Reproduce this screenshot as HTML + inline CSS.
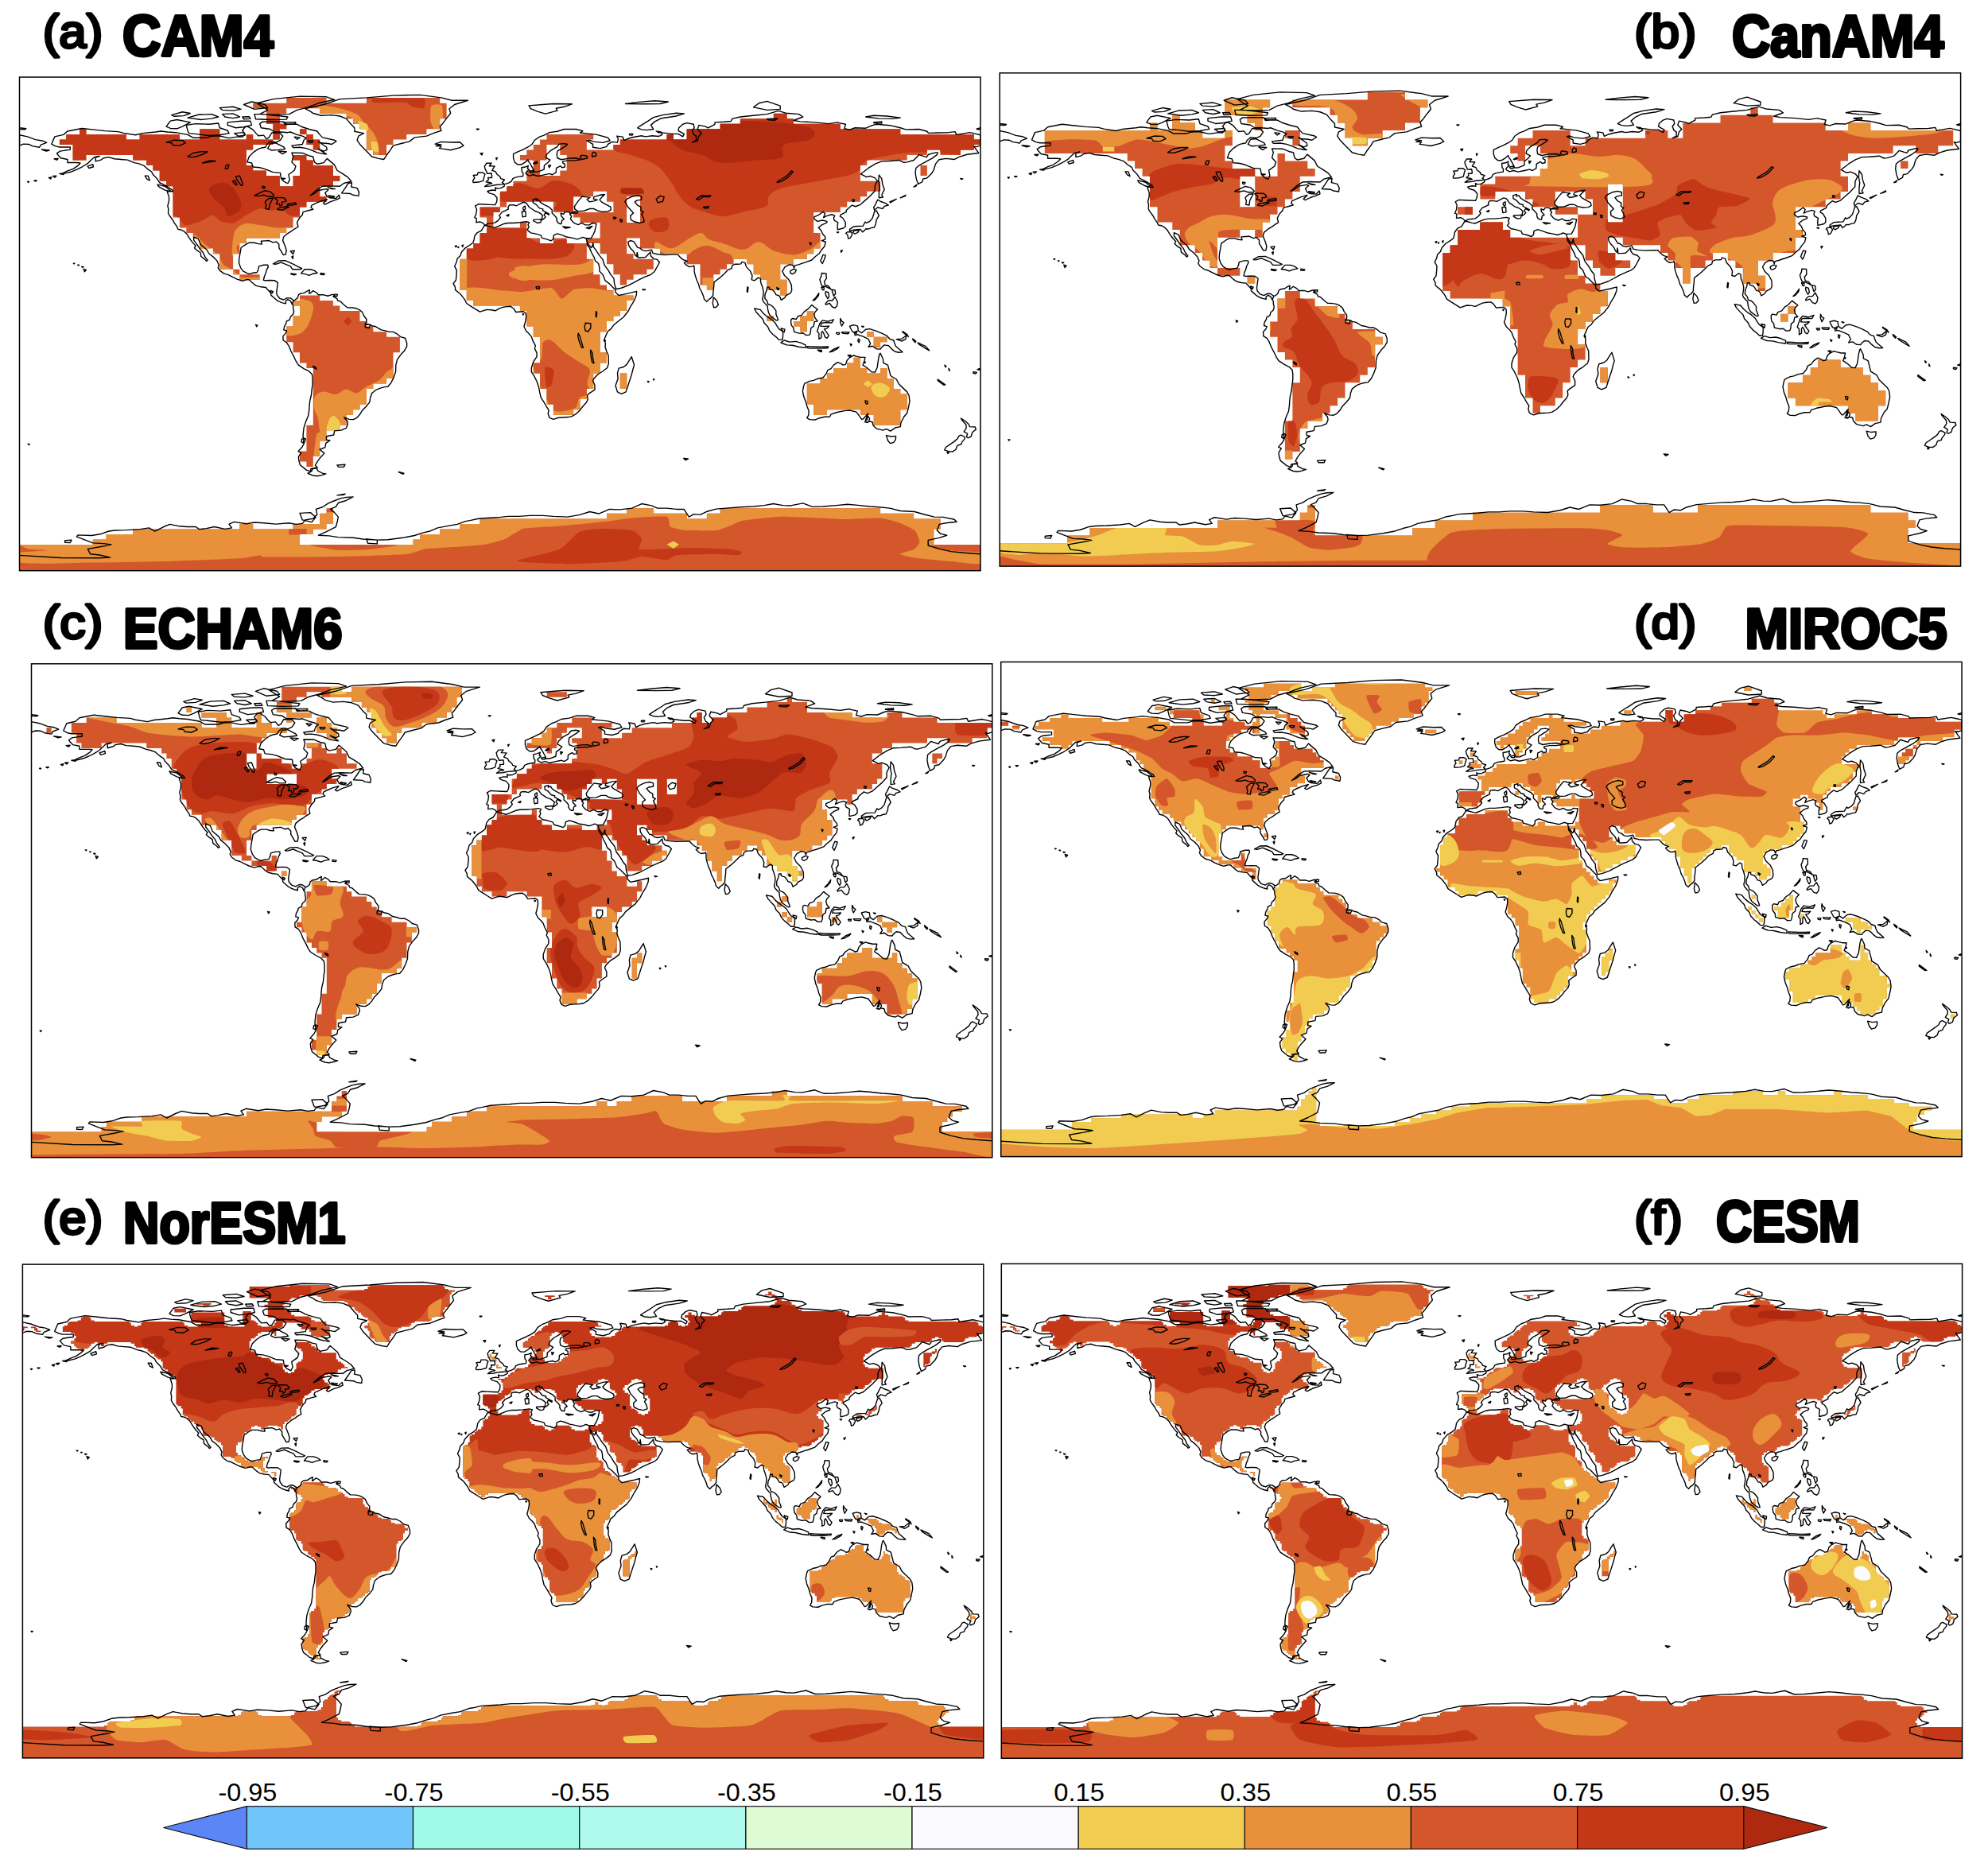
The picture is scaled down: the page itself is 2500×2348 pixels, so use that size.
<!DOCTYPE html>
<html lang="en"><head><meta charset="utf-8"><title>Model correlation maps</title>
<style>html,body{margin:0;padding:0;background:#fff}body{width:2500px;height:2348px;position:relative;overflow:hidden}</style></head>
<body>
<svg width="2500" height="2348" viewBox="0 0 2500 2348" style="position:absolute;left:0;top:0;display:block">
<defs>
<clipPath id="fa"><rect x="24.5" y="97" width="1208.5" height="620.7"/></clipPath><clipPath id="fb"><rect x="1257.2" y="91.8" width="1208.4" height="620.3"/></clipPath><clipPath id="fc"><rect x="39.5" y="834.8" width="1208.3" height="620.9"/></clipPath><clipPath id="fd"><rect x="1258.7" y="832.5" width="1208.4" height="622.1"/></clipPath><clipPath id="fe"><rect x="28.4" y="1590.1" width="1208.4" height="620.8"/></clipPath><clipPath id="ff"><rect x="1259.3" y="1589.4" width="1208.3" height="621.9"/></clipPath>
<clipPath id="ma"><path id="mpa" d="M343.4,168.9 343.4,175.4 351.8,175.4 351.8,168.9 351.8,162.3 360.2,162.3 360.2,155.8 351.8,155.8 351.8,149.3 351.8,142.7 360.2,142.7 360.2,136.2 402.2,136.2 402.2,142.7 435.7,142.7 435.7,149.3 444.1,149.3 444.1,155.8 452.5,155.8 452.5,162.3 460.9,162.3 460.9,168.9 460.9,175.4 460.9,181.9 460.9,188.5 469.3,188.5 469.3,195 486.1,195 486.1,188.5 486.1,181.9 494.5,181.9 494.5,175.4 511.3,175.4 511.3,168.9 536.4,168.9 536.4,162.3 553.2,162.3 553.2,155.8 553.2,149.3 561.6,149.3 561.6,142.7 561.6,136.2 561.6,129.7 553.2,129.7 553.2,123.1 460.9,123.1 460.9,129.7 410.5,129.7 410.5,123.1 360.2,123.1 360.2,129.7 318.2,129.7 318.2,136.2 335,136.2 335,142.7 335,149.3 335,155.8 343.4,155.8 343.4,162.3ZM74.9,181.9 91.6,181.9 91.6,188.5 91.6,195 91.6,201.5 108.4,201.5 108.4,195 167.2,195 167.2,201.5 184,201.5 184,208.1 192.3,208.1 192.3,214.6 200.7,214.6 200.7,221.1 200.7,227.7 209.1,227.7 209.1,234.2 217.5,234.2 217.5,240.8 217.5,247.3 217.5,253.8 217.5,260.4 217.5,266.9 217.5,273.4 225.9,273.4 225.9,280 225.9,286.5 234.3,286.5 234.3,293 242.7,293 242.7,299.6 251.1,299.6 251.1,306.1 251.1,312.6 267.9,312.6 267.9,319.2 276.3,319.2 276.3,325.7 276.3,332.2 276.3,338.8 293.1,338.8 293.1,332.2 293.1,325.7 293.1,319.2 301.4,319.2 301.4,312.6 301.4,306.1 309.8,306.1 309.8,299.6 351.8,299.6 351.8,293 360.2,293 360.2,286.5 368.6,286.5 368.6,280 368.6,273.4 377,273.4 377,266.9 377,260.4 385.4,260.4 385.4,253.8 410.5,253.8 410.5,247.3 402.2,247.3 402.2,240.8 402.2,234.2 418.9,234.2 418.9,227.7 427.3,227.7 427.3,221.1 418.9,221.1 418.9,214.6 418.9,208.1 393.8,208.1 393.8,201.5 385.4,201.5 385.4,195 368.6,195 368.6,201.5 377,201.5 377,208.1 377,214.6 377,221.1 368.6,221.1 368.6,227.7 368.6,234.2 351.8,234.2 351.8,227.7 351.8,221.1 335,221.1 335,214.6 318.2,214.6 318.2,208.1 309.8,208.1 309.8,201.5 309.8,195 309.8,188.5 318.2,188.5 318.2,181.9 343.4,181.9 343.4,175.4 318.2,175.4 318.2,168.9 309.8,168.9 309.8,175.4 276.3,175.4 276.3,168.9 276.3,162.3 251.1,162.3 251.1,168.9 251.1,175.4 225.9,175.4 225.9,168.9 175.6,168.9 175.6,175.4 158.8,175.4 158.8,168.9 108.4,168.9 108.4,162.3 100,162.3 100,168.9 83.2,168.9 83.2,175.4 74.9,175.4ZM293.1,345.3 301.4,345.3 301.4,338.8 293.1,338.8ZM301.4,345.3 301.4,351.8 326.6,351.8 326.6,345.3ZM133.6,672 133.6,678.5 116.8,678.5 116.8,685 24.5,685 24.5,691.6 24.5,698.1 24.5,704.6 24.5,711.2 24.5,717.7 1233,717.7 1233,711.2 1233,704.6 1233,698.1 1233,691.6 1233,685 1174.3,685 1174.3,678.5 1174.3,672 1174.3,665.4 1182.6,665.4 1182.6,658.9 1182.6,652.4 1149.1,652.4 1149.1,645.8 1107.1,645.8 1107.1,639.3 905.7,639.3 905.7,645.8 888.9,645.8 888.9,652.4 863.7,652.4 863.7,645.8 821.8,645.8 821.8,639.3 788.2,639.3 788.2,645.8 763,645.8 763,652.4 603.6,652.4 603.6,658.9 578.4,658.9 578.4,665.4 553.2,665.4 553.2,672 528,672 528,678.5 519.6,678.5 519.6,685 377,685 377,678.5 377,672 393.8,672 393.8,665.4 410.5,665.4 410.5,658.9 418.9,658.9 418.9,652.4 418.9,645.8 418.9,639.3 410.5,639.3 410.5,645.8 402.2,645.8 402.2,652.4 402.2,658.9 368.6,658.9 368.6,665.4 318.2,665.4 318.2,658.9 301.4,658.9 301.4,665.4 167.2,665.4 167.2,672ZM377,162.3 377,168.9 385.4,168.9 385.4,162.3ZM402.2,175.4 393.8,175.4 393.8,168.9 385.4,168.9 385.4,175.4 385.4,181.9 393.8,181.9 393.8,188.5 402.2,188.5 402.2,181.9ZM377,384.5 377,391 377,397.6 368.6,397.6 368.6,404.1 368.6,410.6 360.2,410.6 360.2,417.2 360.2,423.7 360.2,430.2 368.6,430.2 368.6,436.8 368.6,443.3 377,443.3 377,449.8 377,456.4 385.4,456.4 385.4,462.9 393.8,462.9 393.8,469.4 393.8,476 393.8,482.5 393.8,489 393.8,495.6 393.8,502.1 393.8,508.6 393.8,515.2 393.8,521.7 393.8,528.2 393.8,534.8 385.4,534.8 385.4,541.3 385.4,547.8 385.4,554.4 385.4,560.9 385.4,567.4 377,567.4 377,574 377,580.5 385.4,580.5 385.4,587 393.8,587 393.8,580.5 393.8,574 402.2,574 402.2,567.4 402.2,560.9 402.2,554.4 410.5,554.4 410.5,547.8 410.5,541.3 427.3,541.3 427.3,534.8 435.7,534.8 435.7,528.2 435.7,521.7 444.1,521.7 444.1,515.2 452.5,515.2 452.5,508.6 460.9,508.6 460.9,502.1 460.9,495.6 460.9,489 469.3,489 469.3,482.5 486.1,482.5 486.1,476 494.5,476 494.5,469.4 494.5,462.9 494.5,456.4 494.5,449.8 494.5,443.3 502.9,443.3 502.9,436.8 502.9,430.2 502.9,423.7 486.1,423.7 486.1,417.2 469.3,417.2 469.3,410.6 460.9,410.6 460.9,404.1 452.5,404.1 452.5,397.6 452.5,391 427.3,391 427.3,384.5 418.9,384.5 418.9,378 402.2,378 402.2,371.4 377,371.4 377,378 368.6,378 368.6,384.5ZM662.3,195 653.9,195 653.9,201.5 670.7,201.5 670.7,208.1 670.7,214.6 662.3,214.6 662.3,221.1 662.3,227.7 645.5,227.7 645.5,234.2 637.1,234.2 637.1,240.8 628.8,240.8 628.8,247.3 628.8,253.8 628.8,260.4 637.1,260.4 637.1,253.8 695.9,253.8 695.9,260.4 695.9,266.9 721.1,266.9 721.1,273.4 729.5,273.4 729.5,280 754.6,280 754.6,286.5 754.6,293 754.6,299.6 737.9,299.6 737.9,306.1 754.6,306.1 754.6,312.6 754.6,319.2 763,319.2 763,325.7 763,332.2 771.4,332.2 771.4,338.8 771.4,345.3 779.8,345.3 779.8,351.8 779.8,358.4 788.2,358.4 788.2,351.8 796.6,351.8 796.6,345.3 813.4,345.3 813.4,338.8 821.8,338.8 821.8,332.2 821.8,325.7 796.6,325.7 796.6,319.2 788.2,319.2 788.2,312.6 788.2,306.1 788.2,299.6 805,299.6 805,306.1 805,312.6 830.2,312.6 830.2,319.2 863.7,319.2 863.7,325.7 863.7,332.2 880.5,332.2 880.5,338.8 880.5,345.3 880.5,351.8 880.5,358.4 888.9,358.4 888.9,364.9 897.3,364.9 897.3,358.4 897.3,351.8 897.3,345.3 905.7,345.3 905.7,338.8 914.1,338.8 914.1,332.2 922.5,332.2 922.5,325.7 939.3,325.7 939.3,332.2 947.7,332.2 947.7,338.8 947.7,345.3 956.1,345.3 956.1,351.8 964.4,351.8 964.4,358.4 964.4,364.9 981.2,364.9 981.2,371.4 989.6,371.4 989.6,364.9 989.6,358.4 989.6,351.8 981.2,351.8 981.2,345.3 981.2,338.8 981.2,332.2 998,332.2 998,325.7 1014.8,325.7 1014.8,319.2 1023.2,319.2 1023.2,312.6 1031.6,312.6 1031.6,306.1 1031.6,299.6 1031.6,293 1023.2,293 1023.2,286.5 1023.2,280 1023.2,273.4 1023.2,266.9 1056.8,266.9 1056.8,260.4 1065.2,260.4 1065.2,253.8 1081.9,253.8 1081.9,247.3 1090.3,247.3 1090.3,240.8 1107.1,240.8 1107.1,234.2 1107.1,227.7 1081.9,227.7 1081.9,221.1 1081.9,214.6 1081.9,208.1 1090.3,208.1 1090.3,201.5 1140.7,201.5 1140.7,195 1165.9,195 1165.9,188.5 1182.6,188.5 1182.6,195 1207.8,195 1207.8,188.5 1224.6,188.5 1224.6,181.9 1233,181.9 1233,175.4 1224.6,175.4 1224.6,168.9 1132.3,168.9 1132.3,162.3 1056.8,162.3 1056.8,155.8 998,155.8 998,149.3 989.6,149.3 989.6,142.7 972.8,142.7 972.8,149.3 930.9,149.3 930.9,155.8 905.7,155.8 905.7,162.3 863.7,162.3 863.7,168.9 863.7,175.4 847,175.4 847,168.9 838.6,168.9 838.6,175.4 779.8,175.4 779.8,181.9 771.4,181.9 771.4,188.5 737.9,188.5 737.9,181.9 737.9,175.4 746.2,175.4 746.2,168.9 687.5,168.9 687.5,175.4 679.1,175.4 679.1,181.9 670.7,181.9 670.7,188.5 662.3,188.5ZM721.1,260.4 721.1,253.8 721.1,247.3 746.2,247.3 746.2,240.8 763,240.8 763,247.3 763,253.8 771.4,253.8 771.4,260.4 771.4,266.9 721.1,266.9ZM687.5,195 687.5,188.5 687.5,181.9 704.3,181.9 704.3,188.5 704.3,195 712.7,195 712.7,201.5 712.7,208.1 712.7,214.6 704.3,214.6 704.3,221.1 679.1,221.1 679.1,214.6 679.1,208.1 679.1,201.5 687.5,201.5ZM805,273.4 805,280 788.2,280 788.2,273.4 788.2,266.9 788.2,260.4 788.2,253.8 788.2,247.3 805,247.3 805,253.8 805,260.4 805,266.9ZM603.6,299.6 603.6,306.1 595.2,306.1 595.2,312.6 586.8,312.6 586.8,319.2 586.8,325.7 578.4,325.7 578.4,332.2 578.4,338.8 578.4,345.3 578.4,351.8 578.4,358.4 578.4,364.9 586.8,364.9 586.8,371.4 586.8,378 595.2,378 595.2,384.5 653.9,384.5 653.9,391 662.3,391 662.3,397.6 662.3,404.1 662.3,410.6 670.7,410.6 670.7,417.2 670.7,423.7 679.1,423.7 679.1,430.2 679.1,436.8 679.1,443.3 679.1,449.8 679.1,456.4 670.7,456.4 670.7,462.9 670.7,469.4 679.1,469.4 679.1,476 679.1,482.5 679.1,489 687.5,489 687.5,495.6 687.5,502.1 687.5,508.6 695.9,508.6 695.9,515.2 695.9,521.7 721.1,521.7 721.1,515.2 729.5,515.2 729.5,508.6 729.5,502.1 737.9,502.1 737.9,495.6 737.9,489 746.2,489 746.2,482.5 746.2,476 746.2,469.4 754.6,469.4 754.6,462.9 754.6,456.4 763,456.4 763,449.8 763,443.3 754.6,443.3 754.6,436.8 754.6,430.2 754.6,423.7 754.6,417.2 763,417.2 763,410.6 763,404.1 771.4,404.1 771.4,397.6 779.8,397.6 779.8,391 788.2,391 788.2,384.5 788.2,378 796.6,378 796.6,371.4 771.4,371.4 771.4,364.9 763,364.9 763,358.4 754.6,358.4 754.6,351.8 754.6,345.3 746.2,345.3 746.2,338.8 746.2,332.2 746.2,325.7 737.9,325.7 737.9,319.2 737.9,312.6 737.9,306.1 712.7,306.1 712.7,299.6 695.9,299.6 695.9,306.1 679.1,306.1 679.1,299.6 662.3,299.6 662.3,293 662.3,286.5 662.3,280 653.9,280 653.9,286.5 620.4,286.5 620.4,280 620.4,273.4 620.4,266.9 628.8,266.9 628.8,260.4 603.6,260.4 603.6,266.9 603.6,273.4 612,273.4 612,280 612,286.5 612,293 603.6,293ZM788.2,469.4 779.8,469.4 779.8,476 779.8,482.5 779.8,489 788.2,489 788.2,482.5 788.2,476ZM1157.5,214.6 1157.5,221.1 1165.9,221.1 1165.9,214.6 1165.9,208.1 1157.5,208.1ZM1014.8,417.2 1014.8,410.6 1014.8,404.1 1023.2,404.1 1023.2,397.6 1023.2,391 1014.8,391 1014.8,397.6 1006.4,397.6 1006.4,404.1 998,404.1 998,410.6 1006.4,410.6 1006.4,417.2ZM964.4,397.6 964.4,404.1 972.8,404.1 972.8,397.6ZM1090.3,417.2 1090.3,423.7 1098.7,423.7 1098.7,417.2ZM1115.5,423.7 1098.7,423.7 1098.7,430.2 1098.7,436.8 1107.1,436.8 1107.1,430.2 1115.5,430.2ZM1040,476 1031.6,476 1031.6,482.5 1014.8,482.5 1014.8,489 1014.8,495.6 1014.8,502.1 1014.8,508.6 1023.2,508.6 1023.2,515.2 1023.2,521.7 1040,521.7 1040,515.2 1081.9,515.2 1081.9,521.7 1098.7,521.7 1098.7,528.2 1098.7,534.8 1132.3,534.8 1132.3,528.2 1132.3,521.7 1132.3,515.2 1140.7,515.2 1140.7,508.6 1140.7,502.1 1140.7,495.6 1132.3,495.6 1132.3,489 1123.9,489 1123.9,482.5 1123.9,476 1115.5,476 1115.5,469.4 1115.5,462.9 1107.1,462.9 1107.1,469.4 1090.3,469.4 1090.3,462.9 1081.9,462.9 1081.9,456.4 1081.9,449.8 1073.5,449.8 1073.5,456.4 1065.2,456.4 1065.2,462.9 1048.4,462.9 1048.4,469.4 1040,469.4Z"/></clipPath>
<clipPath id="mb"><path id="mpb" d="M1578.2,154.5 1578.2,164.1 1587.6,164.1 1587.6,154.5 1587.6,144.8 1587.6,135.2 1597.1,135.2 1597.1,125.6 1540.4,125.6 1540.4,135.2 1540.4,144.8 1568.7,144.8 1568.7,154.5ZM1455.5,154.5 1446,154.5 1446,164.1 1313.8,164.1 1313.8,173.7 1313.8,183.3 1313.8,192.9 1417.7,192.9 1417.7,202.5 1427.1,202.5 1427.1,212.1 1436.6,212.1 1436.6,221.8 1446,221.8 1446,231.4 1446,241 1446,250.6 1446,260.2 1455.5,260.2 1455.5,269.8 1455.5,279.4 1474.3,279.4 1474.3,289.1 1483.8,289.1 1483.8,298.7 1483.8,308.3 1502.7,308.3 1502.7,317.9 1512.1,317.9 1512.1,327.5 1521.5,327.5 1521.5,337.1 1531,337.1 1531,327.5 1531,317.9 1531,308.3 1531,298.7 1559.3,298.7 1559.3,289.1 1578.2,289.1 1578.2,298.7 1587.6,298.7 1587.6,289.1 1587.6,279.4 1597.1,279.4 1597.1,269.8 1606.5,269.8 1606.5,260.2 1615.9,260.2 1615.9,250.6 1625.4,250.6 1625.4,241 1634.8,241 1634.8,231.4 1634.8,221.8 1653.7,221.8 1653.7,212.1 1644.3,212.1 1644.3,202.5 1615.9,202.5 1615.9,192.9 1606.5,192.9 1606.5,202.5 1606.5,212.1 1606.5,221.8 1578.2,221.8 1578.2,212.1 1549.9,212.1 1549.9,202.5 1540.4,202.5 1540.4,192.9 1540.4,183.3 1549.9,183.3 1549.9,173.7 1549.9,164.1 1540.4,164.1 1540.4,173.7 1512.1,173.7 1512.1,164.1 1502.7,164.1 1502.7,154.5 1483.8,154.5 1483.8,144.8 1474.3,144.8 1474.3,154.5 1474.3,164.1 1455.5,164.1ZM1578.2,231.4 1578.2,241 1578.2,250.6 1578.2,260.2 1559.3,260.2 1559.3,250.6 1559.3,241 1559.3,231.4 1559.3,221.8 1578.2,221.8ZM1559.3,337.1 1531,337.1 1531,346.7 1559.3,346.7ZM1578.2,346.7 1568.7,346.7 1568.7,356.4 1578.2,356.4ZM1653.7,654.4 1653.7,644.8 1653.7,635.2 1644.3,635.2 1644.3,644.8 1634.8,644.8 1634.8,654.4 1531,654.4 1531,664 1370.5,664 1370.5,673.6 1342.2,673.6 1342.2,683.3 1257.2,683.3 1257.2,692.9 1257.2,702.5 1257.2,712.1 2465.6,712.1 2465.6,702.5 2465.6,692.9 2465.6,683.3 2399.5,683.3 2399.5,673.6 2399.5,664 2409,664 2409,654.4 2399.5,654.4 2399.5,644.8 2352.3,644.8 2352.3,635.2 2135.2,635.2 2135.2,644.8 2078.5,644.8 2078.5,635.2 2012.4,635.2 2012.4,644.8 1852,644.8 1852,654.4 1804.8,654.4 1804.8,664 1776.4,664 1776.4,673.6 1653.7,673.6 1653.7,664ZM1682,144.8 1682,154.5 1691.5,154.5 1691.5,164.1 1691.5,173.7 1700.9,173.7 1700.9,183.3 1719.8,183.3 1719.8,173.7 1738.7,173.7 1738.7,164.1 1767,164.1 1767,154.5 1785.9,154.5 1785.9,144.8 1785.9,135.2 1795.3,135.2 1795.3,125.6 1767,125.6 1767,116 1719.8,116 1719.8,125.6 1625.4,125.6 1625.4,135.2 1672.6,135.2 1672.6,144.8ZM1615.9,173.7 1625.4,173.7 1625.4,183.3 1634.8,183.3 1634.8,173.7 1634.8,164.1 1615.9,164.1ZM1597.1,414 1597.1,423.7 1606.5,423.7 1606.5,433.3 1606.5,442.9 1615.9,442.9 1615.9,452.5 1625.4,452.5 1625.4,462.1 1634.8,462.1 1634.8,471.7 1634.8,481.3 1625.4,481.3 1625.4,491 1625.4,500.6 1625.4,510.2 1625.4,519.8 1625.4,529.4 1615.9,529.4 1615.9,539 1615.9,548.7 1615.9,558.3 1615.9,567.9 1615.9,577.5 1625.4,577.5 1625.4,567.9 1634.8,567.9 1634.8,558.3 1634.8,548.7 1634.8,539 1644.3,539 1644.3,529.4 1663.1,529.4 1663.1,519.8 1672.6,519.8 1672.6,510.2 1682,510.2 1682,500.6 1691.5,500.6 1691.5,491 1691.5,481.3 1710.3,481.3 1710.3,471.7 1719.8,471.7 1719.8,462.1 1729.2,462.1 1729.2,452.5 1729.2,442.9 1729.2,433.3 1738.7,433.3 1738.7,423.7 1729.2,423.7 1729.2,414 1700.9,414 1700.9,404.4 1691.5,404.4 1691.5,394.8 1682,394.8 1682,385.2 1653.7,385.2 1653.7,375.6 1634.8,375.6 1634.8,366 1615.9,366 1615.9,375.6 1606.5,375.6 1606.5,385.2 1606.5,394.8 1606.5,404.4 1597.1,404.4ZM1908.6,192.9 1908.6,202.5 1918,202.5 1918,192.9 1918,183.3 1936.9,183.3 1936.9,192.9 1946.4,192.9 1946.4,202.5 1946.4,212.1 1936.9,212.1 1936.9,221.8 1880.3,221.8 1880.3,231.4 1861.4,231.4 1861.4,241 1861.4,250.6 1880.3,250.6 1880.3,241 1918,241 1918,250.6 1927.5,250.6 1927.5,260.2 1955.8,260.2 1955.8,250.6 1955.8,241 1993.6,241 1993.6,250.6 2003,250.6 2003,260.2 2003,269.8 1984.1,269.8 1984.1,279.4 1984.1,289.1 1984.1,298.7 1899.2,298.7 1899.2,289.1 1889.7,289.1 1889.7,279.4 1861.4,279.4 1861.4,289.1 1833.1,289.1 1833.1,298.7 1833.1,308.3 1823.6,308.3 1823.6,317.9 1814.2,317.9 1814.2,327.5 1814.2,337.1 1814.2,346.7 1814.2,356.4 1814.2,366 1823.6,366 1823.6,375.6 1889.7,375.6 1889.7,385.2 1899.2,385.2 1899.2,394.8 1899.2,404.4 1899.2,414 1908.6,414 1908.6,423.7 1908.6,433.3 1908.6,442.9 1908.6,452.5 1908.6,462.1 1908.6,471.7 1918,471.7 1918,481.3 1918,491 1918,500.6 1927.5,500.6 1927.5,510.2 1927.5,519.8 1936.9,519.8 1936.9,510.2 1955.8,510.2 1955.8,500.6 1965.2,500.6 1965.2,491 1965.2,481.3 1974.7,481.3 1974.7,471.7 1974.7,462.1 1984.1,462.1 1984.1,452.5 1993.6,452.5 1993.6,442.9 1993.6,433.3 1984.1,433.3 1984.1,423.7 1984.1,414 1993.6,414 1993.6,404.4 2003,404.4 2003,394.8 2012.4,394.8 2012.4,385.2 2021.9,385.2 2021.9,375.6 2021.9,366 2012.4,366 2012.4,356.4 1993.6,356.4 1993.6,346.7 1984.1,346.7 1984.1,337.1 1984.1,327.5 1974.7,327.5 1974.7,317.9 1974.7,308.3 1993.6,308.3 1993.6,317.9 1993.6,327.5 2003,327.5 2003,337.1 2012.4,337.1 2012.4,346.7 2031.3,346.7 2031.3,337.1 2050.2,337.1 2050.2,327.5 2031.3,327.5 2031.3,317.9 2021.9,317.9 2021.9,308.3 2021.9,298.7 2040.8,298.7 2040.8,308.3 2088,308.3 2088,317.9 2097.4,317.9 2097.4,327.5 2106.9,327.5 2106.9,337.1 2116.3,337.1 2116.3,346.7 2116.3,356.4 2125.7,356.4 2125.7,346.7 2125.7,337.1 2144.6,337.1 2144.6,327.5 2154.1,327.5 2154.1,317.9 2172.9,317.9 2172.9,327.5 2182.4,327.5 2182.4,337.1 2191.8,337.1 2191.8,346.7 2191.8,356.4 2210.7,356.4 2210.7,366 2220.1,366 2220.1,356.4 2220.1,346.7 2210.7,346.7 2210.7,337.1 2210.7,327.5 2229.6,327.5 2229.6,317.9 2257.9,317.9 2257.9,308.3 2257.9,298.7 2267.3,298.7 2267.3,289.1 2257.9,289.1 2257.9,279.4 2257.9,269.8 2257.9,260.2 2295.7,260.2 2295.7,250.6 2314.6,250.6 2314.6,241 2324,241 2324,231.4 2324,221.8 2314.6,221.8 2314.6,212.1 2314.6,202.5 2324,202.5 2324,192.9 2380.6,192.9 2380.6,183.3 2409,183.3 2409,192.9 2437.3,192.9 2437.3,183.3 2456.2,183.3 2456.2,173.7 2456.2,164.1 2352.3,164.1 2352.3,154.5 2324,154.5 2324,164.1 2295.7,164.1 2295.7,154.5 2229.6,154.5 2229.6,144.8 2210.7,144.8 2210.7,135.2 2201.3,135.2 2201.3,144.8 2163.5,144.8 2163.5,154.5 2116.3,154.5 2116.3,164.1 2116.3,173.7 2097.4,173.7 2097.4,164.1 2069.1,164.1 2069.1,173.7 1993.6,173.7 1993.6,183.3 1974.7,183.3 1974.7,173.7 1974.7,164.1 1927.5,164.1 1927.5,173.7 1908.6,173.7 1908.6,183.3 1899.2,183.3 1899.2,192.9ZM2040.8,231.4 2040.8,241 2040.8,250.6 2040.8,260.2 2040.8,269.8 2040.8,279.4 2021.9,279.4 2021.9,269.8 2021.9,260.2 2021.9,250.6 2021.9,241 2021.9,231.4ZM1833.1,260.2 1833.1,269.8 1852,269.8 1852,260.2ZM1984.1,260.2 1955.8,260.2 1955.8,269.8 1984.1,269.8ZM2021.9,471.7 2021.9,462.1 2012.4,462.1 2012.4,471.7 2012.4,481.3 2021.9,481.3ZM2390.1,202.5 2390.1,212.1 2399.5,212.1 2399.5,202.5ZM2248.5,394.8 2257.9,394.8 2257.9,385.2 2248.5,385.2ZM2248.5,394.8 2239,394.8 2239,404.4 2248.5,404.4ZM2248.5,481.3 2248.5,491 2248.5,500.6 2257.9,500.6 2257.9,510.2 2324,510.2 2324,519.8 2333.4,519.8 2333.4,529.4 2361.8,529.4 2361.8,519.8 2361.8,510.2 2371.2,510.2 2371.2,500.6 2371.2,491 2361.8,491 2361.8,481.3 2352.3,481.3 2352.3,471.7 2342.9,471.7 2342.9,462.1 2314.6,462.1 2314.6,452.5 2286.2,452.5 2286.2,462.1 2276.8,462.1 2276.8,471.7 2267.3,471.7 2267.3,481.3Z"/></clipPath>
<clipPath id="mc"><path id="mpc" d="M385.6,876.7 385.6,870.3 404.5,870.3 404.5,876.7 442.3,876.7 442.3,883.1 454.9,883.1 454.9,889.6 461.1,889.6 461.1,896 467.4,896 467.4,902.4 467.4,908.9 467.4,915.3 473.7,915.3 473.7,921.7 480,921.7 480,928.2 486.3,928.2 486.3,934.6 498.9,934.6 498.9,928.2 498.9,921.7 505.2,921.7 505.2,915.3 530.4,915.3 530.4,908.9 549.3,908.9 549.3,902.4 561.8,902.4 561.8,896 568.1,896 568.1,889.6 574.4,889.6 574.4,883.1 574.4,876.7 580.7,876.7 580.7,870.3 580.7,863.8 442.3,863.8 442.3,870.3 429.7,870.3 429.7,863.8 354.2,863.8 354.2,870.3 354.2,876.7 354.2,883.1 347.9,883.1 347.9,889.6 347.9,896 360.5,896 360.5,902.4 360.5,908.9 366.7,908.9 366.7,902.4 391.9,902.4 391.9,896 366.7,896 366.7,889.6 366.7,883.1 373,883.1 373,876.7ZM234.6,889.6 234.6,896 240.9,896 240.9,889.6ZM291.2,908.9 291.2,902.4 284.9,902.4 284.9,896 253.5,896 253.5,902.4 272.3,902.4 272.3,908.9 272.3,915.3 253.5,915.3 253.5,908.9 146.5,908.9 146.5,902.4 108.7,902.4 108.7,908.9 89.8,908.9 89.8,915.3 89.8,921.7 96.1,921.7 96.1,928.2 96.1,934.6 102.4,934.6 102.4,941 127.6,941 127.6,934.6 184.2,934.6 184.2,941 203.1,941 203.1,947.5 209.4,947.5 209.4,953.9 215.7,953.9 215.7,960.3 215.7,966.8 222,966.8 222,973.2 228.3,973.2 228.3,979.6 228.3,986.1 228.3,992.5 228.3,998.9 228.3,1005.4 234.6,1005.4 234.6,1011.8 234.6,1018.2 240.9,1018.2 240.9,1024.7 253.5,1024.7 253.5,1031.1 253.5,1037.5 272.3,1037.5 272.3,1044 278.6,1044 278.6,1050.4 278.6,1056.8 291.2,1056.8 291.2,1063.3 291.2,1069.7 291.2,1076.1 303.8,1076.1 303.8,1082.6 316.4,1082.6 316.4,1076.1 310.1,1076.1 310.1,1069.7 310.1,1063.3 310.1,1056.8 316.4,1056.8 316.4,1050.4 316.4,1044 322.7,1044 322.7,1037.5 366.7,1037.5 366.7,1031.1 373,1031.1 373,1024.7 385.6,1024.7 385.6,1018.2 385.6,1011.8 391.9,1011.8 391.9,1005.4 391.9,998.9 404.5,998.9 404.5,992.5 410.8,992.5 410.8,986.1 423.4,986.1 423.4,979.6 417.1,979.6 417.1,973.2 417.1,966.8 448.6,966.8 448.6,960.3 436,960.3 436,953.9 436,947.5 429.7,947.5 429.7,941 423.4,941 423.4,947.5 410.8,947.5 410.8,941 404.5,941 404.5,934.6 385.6,934.6 385.6,941 391.9,941 391.9,947.5 391.9,953.9 385.6,953.9 385.6,960.3 379.3,960.3 379.3,966.8 366.7,966.8 366.7,960.3 354.2,960.3 354.2,953.9 329,953.9 329,947.5 322.7,947.5 322.7,941 322.7,934.6 329,934.6 329,928.2 335.3,928.2 335.3,921.7 360.5,921.7 360.5,915.3 341.6,915.3 341.6,908.9 329,908.9 329,902.4 329,896 322.7,896 322.7,902.4 322.7,908.9 322.7,915.3 291.2,915.3ZM322.7,953.9 322.7,960.3 322.7,966.8 310.1,966.8 310.1,960.3 310.1,953.9 310.1,947.5 322.7,947.5ZM373,973.2 373,979.6 373,986.1 335.3,986.1 335.3,979.6 335.3,973.2ZM58.4,915.3 58.4,921.7 64.7,921.7 64.7,915.3ZM347.9,1089 347.9,1082.6 347.9,1076.1 341.6,1076.1 341.6,1082.6 316.4,1082.6 316.4,1089 335.3,1089 335.3,1095.4 347.9,1095.4ZM354.2,1095.4 354.2,1101.9 360.5,1101.9 360.5,1095.4ZM404.5,1410.7 404.5,1404.2 429.7,1404.2 429.7,1397.8 436,1397.8 436,1391.4 436,1384.9 436,1378.5 436,1372.1 429.7,1372.1 429.7,1378.5 423.4,1378.5 423.4,1384.9 417.1,1384.9 417.1,1391.4 417.1,1397.8 310.1,1397.8 310.1,1404.2 178,1404.2 178,1410.7 133.9,1410.7 133.9,1417.1 127.6,1417.1 127.6,1423.5 39.5,1423.5 39.5,1430 39.5,1436.4 39.5,1442.8 39.5,1449.3 39.5,1455.7 1247.8,1455.7 1247.8,1449.3 1247.8,1442.8 1247.8,1436.4 1247.8,1430 1247.8,1423.5 1184.9,1423.5 1184.9,1417.1 1184.9,1410.7 1191.2,1410.7 1191.2,1404.2 1197.5,1404.2 1197.5,1397.8 1210,1397.8 1210,1391.4 1172.3,1391.4 1172.3,1384.9 1134.5,1384.9 1134.5,1378.5 989.8,1378.5 989.8,1372.1 970.9,1372.1 970.9,1378.5 914.3,1378.5 914.3,1384.9 857.6,1384.9 857.6,1378.5 794.7,1378.5 794.7,1384.9 775.8,1384.9 775.8,1391.4 763.2,1391.4 763.2,1384.9 750.6,1384.9 750.6,1391.4 612.2,1391.4 612.2,1397.8 587,1397.8 587,1404.2 568.1,1404.2 568.1,1410.7 543,1410.7 543,1417.1 536.7,1417.1 536.7,1423.5 398.2,1423.5 398.2,1417.1 398.2,1410.7ZM423.4,921.7 423.4,915.3 417.1,915.3 417.1,908.9 410.8,908.9 410.8,902.4 398.2,902.4 398.2,908.9 398.2,915.3 398.2,921.7 410.8,921.7 410.8,928.2 423.4,928.2ZM379.3,1146.9 379.3,1153.3 379.3,1159.8 373,1159.8 373,1166.2 379.3,1166.2 379.3,1172.6 385.6,1172.6 385.6,1179.1 385.6,1185.5 391.9,1185.5 391.9,1191.9 398.2,1191.9 398.2,1198.4 404.5,1198.4 404.5,1204.8 410.8,1204.8 410.8,1211.2 410.8,1217.7 410.8,1224.1 410.8,1230.5 410.8,1237 410.8,1243.4 410.8,1249.8 404.5,1249.8 404.5,1256.3 404.5,1262.7 404.5,1269.1 404.5,1275.6 398.2,1275.6 398.2,1282 398.2,1288.4 398.2,1294.9 398.2,1301.3 398.2,1307.7 391.9,1307.7 391.9,1314.2 391.9,1320.6 398.2,1320.6 398.2,1327 410.8,1327 410.8,1320.6 410.8,1314.2 417.1,1314.2 417.1,1307.7 417.1,1301.3 417.1,1294.9 423.4,1294.9 423.4,1288.4 423.4,1282 429.7,1282 429.7,1275.6 448.6,1275.6 448.6,1269.1 448.6,1262.7 461.1,1262.7 461.1,1256.3 467.4,1256.3 467.4,1249.8 473.7,1249.8 473.7,1243.4 473.7,1237 480,1237 480,1230.5 480,1224.1 498.9,1224.1 498.9,1217.7 505.2,1217.7 505.2,1211.2 505.2,1204.8 511.5,1204.8 511.5,1198.4 511.5,1191.9 511.5,1185.5 517.8,1185.5 517.8,1179.1 517.8,1172.6 524.1,1172.6 524.1,1166.2 511.5,1166.2 511.5,1159.8 492.6,1159.8 492.6,1153.3 480,1153.3 480,1146.9 473.7,1146.9 473.7,1140.5 467.4,1140.5 467.4,1134 461.1,1134 461.1,1127.6 442.3,1127.6 442.3,1121.2 436,1121.2 436,1114.7 410.8,1114.7 410.8,1108.3 391.9,1108.3 391.9,1114.7 391.9,1121.2 385.6,1121.2 385.6,1127.6 385.6,1134 385.6,1140.5 379.3,1140.5ZM681.4,928.2 668.8,928.2 668.8,934.6 662.5,934.6 662.5,941 687.7,941 687.7,947.5 694,947.5 694,941 700.3,941 700.3,934.6 700.3,928.2 706.6,928.2 706.6,921.7 712.9,921.7 712.9,915.3 731.8,915.3 731.8,921.7 731.8,928.2 719.2,928.2 719.2,934.6 725.5,934.6 725.5,941 725.5,947.5 725.5,953.9 719.2,953.9 719.2,960.3 668.8,960.3 668.8,966.8 662.5,966.8 662.5,973.2 649.9,973.2 649.9,979.6 643.6,979.6 643.6,986.1 643.6,992.5 643.6,998.9 618.5,998.9 618.5,1005.4 618.5,1011.8 624.8,1011.8 624.8,1018.2 624.8,1024.7 624.8,1031.1 618.5,1031.1 618.5,1037.5 612.2,1037.5 612.2,1044 612.2,1050.4 605.9,1050.4 605.9,1056.8 599.6,1056.8 599.6,1063.3 593.3,1063.3 593.3,1069.7 593.3,1076.1 593.3,1082.6 593.3,1089 593.3,1095.4 593.3,1101.9 599.6,1101.9 599.6,1108.3 599.6,1114.7 605.9,1114.7 605.9,1121.2 618.5,1121.2 618.5,1127.6 637.4,1127.6 637.4,1121.2 662.5,1121.2 662.5,1127.6 681.4,1127.6 681.4,1134 681.4,1140.5 681.4,1146.9 681.4,1153.3 687.7,1153.3 687.7,1159.8 687.7,1166.2 687.7,1172.6 694,1172.6 694,1179.1 694,1185.5 694,1191.9 687.7,1191.9 687.7,1198.4 687.7,1204.8 687.7,1211.2 694,1211.2 694,1217.7 694,1224.1 694,1230.5 700.3,1230.5 700.3,1237 700.3,1243.4 706.6,1243.4 706.6,1249.8 706.6,1256.3 706.6,1262.7 725.5,1262.7 725.5,1256.3 738,1256.3 738,1249.8 744.3,1249.8 744.3,1243.4 750.6,1243.4 750.6,1237 750.6,1230.5 756.9,1230.5 756.9,1224.1 756.9,1217.7 756.9,1211.2 763.2,1211.2 763.2,1204.8 769.5,1204.8 769.5,1198.4 775.8,1198.4 775.8,1191.9 775.8,1185.5 775.8,1179.1 775.8,1172.6 769.5,1172.6 769.5,1166.2 769.5,1159.8 775.8,1159.8 775.8,1153.3 775.8,1146.9 782.1,1146.9 782.1,1140.5 794.7,1140.5 794.7,1134 801,1134 801,1127.6 801,1121.2 807.3,1121.2 807.3,1114.7 807.3,1108.3 801,1108.3 801,1114.7 788.4,1114.7 788.4,1108.3 788.4,1101.9 775.8,1101.9 775.8,1095.4 769.5,1095.4 769.5,1089 769.5,1082.6 763.2,1082.6 763.2,1076.1 763.2,1069.7 756.9,1069.7 756.9,1063.3 756.9,1056.8 756.9,1050.4 769.5,1050.4 769.5,1056.8 775.8,1056.8 775.8,1063.3 775.8,1069.7 782.1,1069.7 782.1,1076.1 788.4,1076.1 788.4,1082.6 788.4,1089 788.4,1095.4 807.3,1095.4 807.3,1089 819.9,1089 819.9,1082.6 832.4,1082.6 832.4,1076.1 838.7,1076.1 838.7,1069.7 832.4,1069.7 832.4,1063.3 813.6,1063.3 813.6,1056.8 807.3,1056.8 807.3,1050.4 801,1050.4 801,1044 801,1037.5 813.6,1037.5 813.6,1044 819.9,1044 819.9,1050.4 838.7,1050.4 838.7,1056.8 876.5,1056.8 876.5,1063.3 882.8,1063.3 882.8,1069.7 889.1,1069.7 889.1,1076.1 889.1,1082.6 895.4,1082.6 895.4,1089 895.4,1095.4 901.7,1095.4 901.7,1101.9 901.7,1108.3 908,1108.3 908,1101.9 908,1095.4 908,1089 914.3,1089 914.3,1082.6 920.6,1082.6 920.6,1076.1 933.1,1076.1 933.1,1069.7 939.4,1069.7 939.4,1063.3 952,1063.3 952,1069.7 958.3,1069.7 958.3,1076.1 964.6,1076.1 964.6,1082.6 964.6,1089 977.2,1089 977.2,1095.4 989.8,1095.4 989.8,1101.9 996.1,1101.9 996.1,1108.3 1002.4,1108.3 1002.4,1101.9 1008.7,1101.9 1008.7,1095.4 1002.4,1095.4 1002.4,1089 996.1,1089 996.1,1082.6 996.1,1076.1 996.1,1069.7 1021.2,1069.7 1021.2,1063.3 1033.8,1063.3 1033.8,1056.8 1040.1,1056.8 1040.1,1050.4 1046.4,1050.4 1046.4,1044 1046.4,1037.5 1046.4,1031.1 1040.1,1031.1 1040.1,1024.7 1040.1,1018.2 1033.8,1018.2 1033.8,1011.8 1033.8,1005.4 1065.3,1005.4 1065.3,1011.8 1071.6,1011.8 1071.6,1005.4 1071.6,998.9 1077.9,998.9 1077.9,992.5 1096.8,992.5 1096.8,986.1 1103.1,986.1 1103.1,979.6 1109.3,979.6 1109.3,973.2 1109.3,966.8 1109.3,960.3 1096.8,960.3 1096.8,953.9 1096.8,947.5 1109.3,947.5 1109.3,941 1121.9,941 1121.9,934.6 1166,934.6 1166,928.2 1191.2,928.2 1191.2,934.6 1222.6,934.6 1222.6,928.2 1241.5,928.2 1241.5,921.7 1241.5,915.3 1247.8,915.3 1247.8,908.9 1178.6,908.9 1178.6,902.4 1134.5,902.4 1134.5,896 1115.6,896 1115.6,902.4 1071.6,902.4 1071.6,896 1015,896 1015,889.6 1015,883.1 996.1,883.1 996.1,876.7 989.8,876.7 989.8,883.1 964.6,883.1 964.6,889.6 939.4,889.6 939.4,896 914.3,896 914.3,902.4 895.4,902.4 895.4,908.9 882.8,908.9 882.8,902.4 882.8,896 876.5,896 876.5,902.4 870.2,902.4 870.2,908.9 845,908.9 845,915.3 794.7,915.3 794.7,921.7 782.1,921.7 782.1,928.2 756.9,928.2 756.9,921.7 756.9,915.3 769.5,915.3 769.5,908.9 744.3,908.9 744.3,902.4 719.2,902.4 719.2,908.9 700.3,908.9 700.3,915.3 687.7,915.3 687.7,921.7 681.4,921.7ZM649.9,998.9 649.9,992.5 681.4,992.5 681.4,986.1 700.3,986.1 700.3,992.5 706.6,992.5 706.6,998.9 712.9,998.9 712.9,1005.4 731.8,1005.4 731.8,998.9 731.8,992.5 738,992.5 738,986.1 744.3,986.1 744.3,979.6 756.9,979.6 756.9,986.1 763.2,986.1 763.2,979.6 775.8,979.6 775.8,986.1 775.8,992.5 782.1,992.5 782.1,998.9 782.1,1005.4 738,1005.4 738,1011.8 738,1018.2 769.5,1018.2 769.5,1024.7 769.5,1031.1 763.2,1031.1 763.2,1037.5 750.6,1037.5 750.6,1044 731.8,1044 731.8,1037.5 712.9,1037.5 712.9,1044 694,1044 694,1037.5 681.4,1037.5 681.4,1031.1 675.1,1031.1 675.1,1024.7 675.1,1018.2 668.8,1018.2 668.8,1024.7 631.1,1024.7 631.1,1018.2 631.1,1011.8 637.4,1011.8 637.4,1005.4 643.6,1005.4 643.6,998.9ZM838.7,998.9 838.7,992.5 838.7,986.1 838.7,979.6 851.3,979.6 851.3,986.1 851.3,992.5 851.3,998.9ZM801,986.1 801,979.6 826.2,979.6 826.2,986.1 826.2,992.5 826.2,998.9 826.2,1005.4 826.2,1011.8 801,1011.8 801,1005.4 801,998.9 801,992.5ZM744.3,1140.5 763.2,1140.5 763.2,1146.9 763.2,1153.3 744.3,1153.3 744.3,1146.9ZM687.7,870.3 687.7,876.7 712.9,876.7 712.9,870.3ZM807.3,1204.8 807.3,1198.4 801,1198.4 801,1204.8 794.7,1204.8 794.7,1211.2 794.7,1217.7 794.7,1224.1 794.7,1230.5 801,1230.5 801,1224.1 801,1217.7 801,1211.2 807.3,1211.2ZM1172.3,947.5 1172.3,953.9 1172.3,960.3 1178.6,960.3 1178.6,953.9 1184.9,953.9 1184.9,947.5ZM983.5,1134 989.8,1134 989.8,1127.6 983.5,1127.6ZM977.2,1134 977.2,1140.5 983.5,1140.5 983.5,1134ZM1033.8,1134 1027.5,1134 1027.5,1140.5 1015,1140.5 1015,1146.9 1015,1153.3 1033.8,1153.3 1033.8,1146.9 1033.8,1140.5ZM983.5,1146.9 983.5,1153.3 989.8,1153.3 989.8,1146.9ZM1046.4,1153.3 1046.4,1159.8 1052.7,1159.8 1052.7,1153.3ZM989.8,1153.3 989.8,1159.8 996.1,1159.8 996.1,1153.3ZM1103.1,1153.3 1103.1,1159.8 1109.3,1159.8 1109.3,1153.3ZM1128.2,1166.2 1128.2,1159.8 1109.3,1159.8 1109.3,1166.2 1115.6,1166.2 1115.6,1172.6 1121.9,1172.6 1121.9,1166.2ZM1033.8,1217.7 1033.8,1224.1 1027.5,1224.1 1027.5,1230.5 1027.5,1237 1033.8,1237 1033.8,1243.4 1033.8,1249.8 1033.8,1256.3 1033.8,1262.7 1046.4,1262.7 1046.4,1256.3 1065.3,1256.3 1065.3,1249.8 1096.8,1249.8 1096.8,1256.3 1096.8,1262.7 1115.6,1262.7 1115.6,1269.1 1115.6,1275.6 1140.8,1275.6 1140.8,1269.1 1147.1,1269.1 1147.1,1262.7 1147.1,1256.3 1153.4,1256.3 1153.4,1249.8 1153.4,1243.4 1153.4,1237 1153.4,1230.5 1147.1,1230.5 1147.1,1224.1 1140.8,1224.1 1140.8,1217.7 1134.5,1217.7 1134.5,1211.2 1128.2,1211.2 1128.2,1204.8 1128.2,1198.4 1121.9,1198.4 1121.9,1204.8 1096.8,1204.8 1096.8,1198.4 1096.8,1191.9 1084.2,1191.9 1084.2,1198.4 1065.3,1198.4 1065.3,1204.8 1059,1204.8 1059,1211.2 1052.7,1211.2 1052.7,1217.7Z"/></clipPath>
<clipPath id="md"><path id="mpd" d="M1523,878.8 1523,883.7 1527.8,883.7 1527.8,878.8ZM1513.6,907.8 1513.6,903 1513.6,898.2 1508.9,898.2 1508.9,893.3 1471.1,893.3 1471.1,898.2 1475.8,898.2 1475.8,903 1499.4,903 1499.4,907.8 1499.4,912.7 1471.1,912.7 1471.1,907.8 1457,907.8 1457,903 1419.2,903 1419.2,907.8 1386.1,907.8 1386.1,903 1343.7,903 1343.7,898.2 1334.2,898.2 1334.2,903 1320.1,903 1320.1,907.8 1305.9,907.8 1305.9,912.7 1301.2,912.7 1301.2,917.5 1324.8,917.5 1324.8,922.4 1324.8,927.2 1310.6,927.2 1310.6,932 1320.1,932 1320.1,936.9 1334.2,936.9 1334.2,941.7 1343.7,941.7 1343.7,936.9 1348.4,936.9 1348.4,932 1395.6,932 1395.6,936.9 1409.8,936.9 1409.8,941.7 1419.2,941.7 1419.2,946.6 1428.6,946.6 1428.6,951.4 1428.6,956.2 1433.4,956.2 1433.4,961.1 1438.1,961.1 1438.1,965.9 1438.1,970.7 1447.5,970.7 1447.5,975.6 1447.5,980.4 1447.5,985.3 1447.5,990.1 1447.5,994.9 1447.5,999.8 1447.5,1004.6 1452.2,1004.6 1452.2,1009.5 1452.2,1014.3 1457,1014.3 1457,1019.1 1461.7,1019.1 1461.7,1024 1471.1,1024 1471.1,1028.8 1475.8,1028.8 1475.8,1033.6 1485.3,1033.6 1485.3,1038.5 1490,1038.5 1490,1043.3 1494.7,1043.3 1494.7,1048.2 1499.4,1048.2 1499.4,1053 1504.2,1053 1504.2,1057.8 1508.9,1057.8 1508.9,1062.7 1508.9,1067.5 1513.6,1067.5 1513.6,1072.4 1513.6,1077.2 1523,1077.2 1523,1082 1532.5,1082 1532.5,1086.9 1551.4,1086.9 1551.4,1091.7 1560.8,1091.7 1560.8,1096.5 1575,1096.5 1575,1101.4 1575,1106.2 1579.7,1106.2 1579.7,1101.4 1579.7,1096.5 1579.7,1091.7 1565.5,1091.7 1565.5,1086.9 1565.5,1082 1565.5,1077.2 1565.5,1072.4 1560.8,1072.4 1560.8,1077.2 1560.8,1082 1537.2,1082 1537.2,1077.2 1532.5,1077.2 1532.5,1072.4 1532.5,1067.5 1532.5,1062.7 1532.5,1057.8 1532.5,1053 1532.5,1048.2 1537.2,1048.2 1537.2,1043.3 1541.9,1043.3 1541.9,1038.5 1584.4,1038.5 1584.4,1043.3 1589.1,1043.3 1589.1,1038.5 1589.1,1033.6 1589.1,1028.8 1593.8,1028.8 1593.8,1024 1603.3,1024 1603.3,1019.1 1608,1019.1 1608,1014.3 1608,1009.5 1608,1004.6 1612.7,1004.6 1612.7,999.8 1622.2,999.8 1622.2,994.9 1622.2,990.1 1631.6,990.1 1631.6,985.3 1641,985.3 1641,980.4 1641,975.6 1636.3,975.6 1636.3,970.7 1636.3,965.9 1664.6,965.9 1664.6,961.1 1664.6,956.2 1659.9,956.2 1659.9,951.4 1655.2,951.4 1655.2,946.6 1650.5,946.6 1650.5,941.7 1626.9,941.7 1626.9,936.9 1622.2,936.9 1622.2,932 1603.3,932 1603.3,936.9 1603.3,941.7 1608,941.7 1608,946.6 1608,951.4 1603.3,951.4 1603.3,956.2 1598.6,956.2 1598.6,961.1 1598.6,965.9 1584.4,965.9 1584.4,961.1 1584.4,956.2 1575,956.2 1575,951.4 1556.1,951.4 1556.1,946.6 1546.6,946.6 1546.6,941.7 1541.9,941.7 1541.9,936.9 1541.9,932 1546.6,932 1546.6,927.2 1551.4,927.2 1551.4,922.4 1560.8,922.4 1560.8,917.5 1575,917.5 1575,922.4 1584.4,922.4 1584.4,917.5 1584.4,912.7 1584.4,907.8 1584.4,903 1584.4,898.2 1603.3,898.2 1603.3,903 1617.4,903 1617.4,907.8 1617.4,912.7 1617.4,917.5 1622.2,917.5 1622.2,922.4 1636.3,922.4 1636.3,927.2 1641,927.2 1641,922.4 1641,917.5 1641,912.7 1636.3,912.7 1636.3,907.8 1631.6,907.8 1631.6,903 1622.2,903 1622.2,898.2 1608,898.2 1608,893.3 1589.1,893.3 1589.1,888.5 1589.1,883.7 1593.8,883.7 1593.8,878.8 1598.6,878.8 1598.6,874 1608,874 1608,869.1 1622.2,869.1 1622.2,874 1631.6,874 1631.6,878.8 1669.4,878.8 1669.4,883.7 1674.1,883.7 1674.1,888.5 1678.8,888.5 1678.8,893.3 1683.5,893.3 1683.5,898.2 1688.2,898.2 1688.2,903 1688.2,907.8 1688.2,912.7 1688.2,917.5 1693,917.5 1693,922.4 1697.7,922.4 1697.7,927.2 1702.4,927.2 1702.4,932 1716.6,932 1716.6,927.2 1721.3,927.2 1721.3,922.4 1726,922.4 1726,917.5 1730.7,917.5 1730.7,912.7 1749.6,912.7 1749.6,907.8 1759.1,907.8 1759.1,903 1777.9,903 1777.9,898.2 1787.4,898.2 1787.4,893.3 1787.4,888.5 1792.1,888.5 1792.1,883.7 1796.8,883.7 1796.8,878.8 1796.8,874 1796.8,869.1 1801.5,869.1 1801.5,864.3 1792.1,864.3 1792.1,859.5 1678.8,859.5 1678.8,864.3 1650.5,864.3 1650.5,869.1 1636.3,869.1 1636.3,864.3 1636.3,859.5 1589.1,859.5 1589.1,864.3 1565.5,864.3 1565.5,869.1 1570.2,869.1 1570.2,874 1570.2,878.8 1565.5,878.8 1565.5,883.7 1570.2,883.7 1570.2,888.5 1570.2,893.3 1575,893.3 1575,898.2 1579.7,898.2 1579.7,903 1579.7,907.8 1575,907.8 1575,912.7 1565.5,912.7 1565.5,907.8 1551.4,907.8 1551.4,903 1546.6,903 1546.6,898.2 1546.6,893.3 1546.6,888.5 1532.5,888.5 1532.5,893.3 1541.9,893.3 1541.9,898.2 1541.9,903 1541.9,907.8 1537.2,907.8 1537.2,912.7 1513.6,912.7ZM1452.2,893.3 1466.4,893.3 1466.4,888.5 1452.2,888.5ZM1258.7,912.7 1268.1,912.7 1268.1,907.8 1258.7,907.8ZM1272.9,917.5 1282.3,917.5 1282.3,912.7 1272.9,912.7ZM1655.2,1411.1 1655.2,1406.2 1655.2,1401.4 1655.2,1396.5 1655.2,1391.7 1655.2,1386.9 1655.2,1382 1655.2,1377.2 1655.2,1372.3 1655.2,1367.5 1650.5,1367.5 1650.5,1372.3 1645.8,1372.3 1645.8,1377.2 1641,1377.2 1641,1382 1636.3,1382 1636.3,1386.9 1636.3,1391.7 1631.6,1391.7 1631.6,1396.5 1527.8,1396.5 1527.8,1401.4 1513.6,1401.4 1513.6,1406.2 1499.4,1406.2 1499.4,1401.4 1409.8,1401.4 1409.8,1406.2 1372,1406.2 1372,1411.1 1348.4,1411.1 1348.4,1415.9 1348.4,1420.7 1258.7,1420.7 1258.7,1425.6 1258.7,1430.4 1258.7,1435.2 1258.7,1440.1 1258.7,1444.9 1258.7,1449.8 1258.7,1454.6 2467.1,1454.6 2467.1,1449.8 2467.1,1444.9 2467.1,1440.1 2467.1,1435.2 2467.1,1430.4 2467.1,1425.6 2467.1,1420.7 2405.7,1420.7 2405.7,1415.9 2405.7,1411.1 2410.5,1411.1 2410.5,1406.2 2410.5,1401.4 2419.9,1401.4 2419.9,1396.5 2429.3,1396.5 2429.3,1391.7 2401,1391.7 2401,1386.9 2382.1,1386.9 2382.1,1382 2349.1,1382 2349.1,1377.2 2316.1,1377.2 2316.1,1372.3 2306.6,1372.3 2306.6,1377.2 2245.2,1377.2 2245.2,1372.3 2235.8,1372.3 2235.8,1377.2 2216.9,1377.2 2216.9,1372.3 2179.2,1372.3 2179.2,1377.2 2136.7,1377.2 2136.7,1382 2122.5,1382 2122.5,1386.9 2098.9,1386.9 2098.9,1382 2080,1382 2080,1377.2 2013.9,1377.2 2013.9,1382 1995.1,1382 1995.1,1386.9 1848.7,1386.9 1848.7,1391.7 1825.1,1391.7 1825.1,1396.5 1806.3,1396.5 1806.3,1401.4 1787.4,1401.4 1787.4,1406.2 1773.2,1406.2 1773.2,1411.1 1754.3,1411.1 1754.3,1415.9 1659.9,1415.9 1659.9,1411.1ZM1589.1,1053 1593.8,1053 1593.8,1048.2 1589.1,1048.2ZM1603.3,1130.4 1603.3,1135.3 1603.3,1140.1 1598.6,1140.1 1598.6,1144.9 1593.8,1144.9 1593.8,1149.8 1593.8,1154.6 1593.8,1159.4 1593.8,1164.3 1598.6,1164.3 1598.6,1169.1 1598.6,1174 1603.3,1174 1603.3,1178.8 1603.3,1183.6 1608,1183.6 1608,1188.5 1608,1193.3 1617.4,1193.3 1617.4,1198.2 1622.2,1198.2 1622.2,1203 1626.9,1203 1626.9,1207.8 1631.6,1207.8 1631.6,1212.7 1631.6,1217.5 1631.6,1222.3 1626.9,1222.3 1626.9,1227.2 1626.9,1232 1626.9,1236.9 1626.9,1241.7 1626.9,1246.5 1626.9,1251.4 1626.9,1256.2 1626.9,1261.1 1622.2,1261.1 1622.2,1265.9 1622.2,1270.7 1617.4,1270.7 1617.4,1275.6 1617.4,1280.4 1617.4,1285.3 1622.2,1285.3 1622.2,1290.1 1622.2,1294.9 1617.4,1294.9 1617.4,1299.8 1617.4,1304.6 1612.7,1304.6 1612.7,1309.4 1612.7,1314.3 1612.7,1319.1 1617.4,1319.1 1617.4,1324 1622.2,1324 1622.2,1328.8 1626.9,1328.8 1626.9,1333.6 1631.6,1333.6 1631.6,1328.8 1631.6,1324 1631.6,1319.1 1631.6,1314.3 1631.6,1309.4 1636.3,1309.4 1636.3,1304.6 1636.3,1299.8 1641,1299.8 1641,1294.9 1641,1290.1 1645.8,1290.1 1645.8,1285.3 1645.8,1280.4 1650.5,1280.4 1650.5,1275.6 1664.6,1275.6 1664.6,1270.7 1669.4,1270.7 1669.4,1265.9 1669.4,1261.1 1683.5,1261.1 1683.5,1256.2 1683.5,1251.4 1688.2,1251.4 1688.2,1246.5 1693,1246.5 1693,1241.7 1697.7,1241.7 1697.7,1236.9 1697.7,1232 1697.7,1227.2 1707.1,1227.2 1707.1,1222.3 1721.3,1222.3 1721.3,1217.5 1726,1217.5 1726,1212.7 1726,1207.8 1730.7,1207.8 1730.7,1203 1730.7,1198.2 1730.7,1193.3 1730.7,1188.5 1730.7,1183.6 1735.5,1183.6 1735.5,1178.8 1740.2,1178.8 1740.2,1174 1744.9,1174 1744.9,1169.1 1744.9,1164.3 1735.5,1164.3 1735.5,1159.4 1726,1159.4 1726,1154.6 1707.1,1154.6 1707.1,1149.8 1697.7,1149.8 1697.7,1144.9 1693,1144.9 1693,1140.1 1693,1135.3 1688.2,1135.3 1688.2,1130.4 1683.5,1130.4 1683.5,1125.6 1664.6,1125.6 1664.6,1120.7 1659.9,1120.7 1659.9,1115.9 1655.2,1115.9 1655.2,1111.1 1631.6,1111.1 1631.6,1106.2 1612.7,1106.2 1612.7,1111.1 1608,1111.1 1608,1115.9 1603.3,1115.9 1603.3,1120.7 1603.3,1125.6ZM1792.1,922.4 1806.3,922.4 1806.3,917.5 1792.1,917.5ZM1848.7,951.4 1853.5,951.4 1853.5,946.6 1848.7,946.6ZM1834.6,961.1 1839.3,961.1 1839.3,956.2 1834.6,956.2ZM1853.5,961.1 1848.7,961.1 1848.7,965.9 1862.9,965.9 1862.9,961.1 1858.2,961.1 1858.2,956.2 1853.5,956.2ZM1678.8,980.4 1683.5,980.4 1683.5,975.6 1678.8,975.6ZM1858.2,1009.5 1862.9,1009.5 1862.9,1004.6 1862.9,999.8 1867.6,999.8 1867.6,994.9 1872.3,994.9 1872.3,990.1 1900.7,990.1 1900.7,985.3 1914.8,985.3 1914.8,990.1 1924.3,990.1 1924.3,994.9 1929,994.9 1929,999.8 1933.7,999.8 1933.7,1004.6 1933.7,1009.5 1938.4,1009.5 1938.4,1004.6 1938.4,999.8 1952.6,999.8 1952.6,1004.6 1952.6,1009.5 1957.3,1009.5 1957.3,1014.3 1985.6,1014.3 1985.6,1019.1 1985.6,1024 1985.6,1028.8 1985.6,1033.6 1980.9,1033.6 1980.9,1038.5 1943.1,1038.5 1943.1,1033.6 1933.7,1033.6 1933.7,1038.5 1914.8,1038.5 1914.8,1033.6 1900.7,1033.6 1900.7,1028.8 1895.9,1028.8 1895.9,1024 1895.9,1019.1 1867.6,1019.1 1867.6,1024 1844,1024 1844,1028.8 1834.6,1028.8 1834.6,1033.6 1834.6,1038.5 1829.9,1038.5 1829.9,1043.3 1829.9,1048.2 1820.4,1048.2 1820.4,1053 1815.7,1053 1815.7,1057.8 1815.7,1062.7 1811,1062.7 1811,1067.5 1811,1072.4 1811,1077.2 1811,1082 1811,1086.9 1811,1091.7 1806.3,1091.7 1806.3,1096.5 1811,1096.5 1811,1101.4 1815.7,1101.4 1815.7,1106.2 1820.4,1106.2 1820.4,1111.1 1820.4,1115.9 1829.9,1115.9 1829.9,1120.7 1834.6,1120.7 1834.6,1125.6 1858.2,1125.6 1858.2,1120.7 1881.8,1120.7 1881.8,1125.6 1895.9,1125.6 1895.9,1130.4 1895.9,1135.3 1895.9,1140.1 1895.9,1144.9 1895.9,1149.8 1900.7,1149.8 1900.7,1154.6 1905.4,1154.6 1905.4,1159.4 1905.4,1164.3 1910.1,1164.3 1910.1,1169.1 1910.1,1174 1910.1,1178.8 1910.1,1183.6 1910.1,1188.5 1910.1,1193.3 1905.4,1193.3 1905.4,1198.2 1905.4,1203 1905.4,1207.8 1910.1,1207.8 1910.1,1212.7 1910.1,1217.5 1914.8,1217.5 1914.8,1222.3 1914.8,1227.2 1914.8,1232 1914.8,1236.9 1919.5,1236.9 1919.5,1241.7 1924.3,1241.7 1924.3,1246.5 1924.3,1251.4 1924.3,1256.2 1929,1256.2 1929,1261.1 1947.9,1261.1 1947.9,1256.2 1957.3,1256.2 1957.3,1251.4 1962,1251.4 1962,1246.5 1966.7,1246.5 1966.7,1241.7 1971.5,1241.7 1971.5,1236.9 1971.5,1232 1971.5,1227.2 1980.9,1227.2 1980.9,1222.3 1976.2,1222.3 1976.2,1217.5 1976.2,1212.7 1980.9,1212.7 1980.9,1207.8 1985.6,1207.8 1985.6,1203 1990.3,1203 1990.3,1198.2 1995.1,1198.2 1995.1,1193.3 1995.1,1188.5 1995.1,1183.6 1995.1,1178.8 1995.1,1174 1995.1,1169.1 1990.3,1169.1 1990.3,1164.3 1990.3,1159.4 1995.1,1159.4 1995.1,1154.6 1995.1,1149.8 1999.8,1149.8 1999.8,1144.9 2004.5,1144.9 2004.5,1140.1 2009.2,1140.1 2009.2,1135.3 2013.9,1135.3 2013.9,1130.4 2018.7,1130.4 2018.7,1125.6 2023.4,1125.6 2023.4,1120.7 2028.1,1120.7 2028.1,1115.9 2028.1,1111.1 2032.8,1111.1 2032.8,1106.2 2023.4,1106.2 2023.4,1111.1 2009.2,1111.1 2009.2,1106.2 2004.5,1106.2 2004.5,1101.4 1999.8,1101.4 1999.8,1096.5 1995.1,1096.5 1995.1,1091.7 1990.3,1091.7 1990.3,1086.9 1990.3,1082 1985.6,1082 1985.6,1077.2 1985.6,1072.4 1985.6,1067.5 1980.9,1067.5 1980.9,1062.7 1976.2,1062.7 1976.2,1057.8 1976.2,1053 1976.2,1048.2 1976.2,1043.3 1985.6,1043.3 1985.6,1048.2 1985.6,1053 1990.3,1053 1990.3,1057.8 1995.1,1057.8 1995.1,1062.7 1995.1,1067.5 1999.8,1067.5 1999.8,1072.4 1999.8,1077.2 2004.5,1077.2 2004.5,1082 2009.2,1082 2009.2,1086.9 2009.2,1091.7 2009.2,1096.5 2018.7,1096.5 2018.7,1091.7 2028.1,1091.7 2028.1,1086.9 2037.6,1086.9 2037.6,1082 2047,1082 2047,1077.2 2056.4,1077.2 2056.4,1072.4 2056.4,1067.5 2056.4,1062.7 2032.8,1062.7 2032.8,1057.8 2028.1,1057.8 2028.1,1053 2023.4,1053 2023.4,1048.2 2023.4,1043.3 2023.4,1038.5 2037.6,1038.5 2037.6,1043.3 2042.3,1043.3 2042.3,1048.2 2056.4,1048.2 2056.4,1053 2089.5,1053 2089.5,1057.8 2094.2,1057.8 2094.2,1062.7 2098.9,1062.7 2098.9,1067.5 2108.4,1067.5 2108.4,1072.4 2108.4,1077.2 2113.1,1077.2 2113.1,1082 2113.1,1086.9 2113.1,1091.7 2117.8,1091.7 2117.8,1096.5 2117.8,1101.4 2122.5,1101.4 2122.5,1106.2 2122.5,1111.1 2127.2,1111.1 2127.2,1106.2 2127.2,1101.4 2127.2,1096.5 2127.2,1091.7 2132,1091.7 2132,1086.9 2136.7,1086.9 2136.7,1082 2141.4,1082 2141.4,1077.2 2146.1,1077.2 2146.1,1072.4 2150.8,1072.4 2150.8,1067.5 2165,1067.5 2165,1062.7 2174.4,1062.7 2174.4,1067.5 2174.4,1072.4 2179.2,1072.4 2179.2,1077.2 2183.9,1077.2 2183.9,1082 2193.3,1082 2193.3,1086.9 2193.3,1091.7 2193.3,1096.5 2207.5,1096.5 2207.5,1101.4 2212.2,1101.4 2212.2,1106.2 2221.6,1106.2 2221.6,1101.4 2226.4,1101.4 2226.4,1096.5 2226.4,1091.7 2221.6,1091.7 2221.6,1086.9 2216.9,1086.9 2216.9,1082 2216.9,1077.2 2216.9,1072.4 2221.6,1072.4 2221.6,1067.5 2240.5,1067.5 2240.5,1062.7 2254.7,1062.7 2254.7,1057.8 2259.4,1057.8 2259.4,1053 2264.1,1053 2264.1,1048.2 2268.8,1048.2 2268.8,1043.3 2268.8,1038.5 2268.8,1033.6 2264.1,1033.6 2264.1,1028.8 2264.1,1024 2264.1,1019.1 2264.1,1014.3 2254.7,1014.3 2254.7,1009.5 2254.7,1004.6 2264.1,1004.6 2264.1,999.8 2273.6,999.8 2273.6,1004.6 2283,1004.6 2283,1009.5 2287.7,1009.5 2287.7,1014.3 2287.7,1019.1 2292.4,1019.1 2292.4,1014.3 2292.4,1009.5 2292.4,1004.6 2292.4,999.8 2297.2,999.8 2297.2,994.9 2301.9,994.9 2301.9,990.1 2316.1,990.1 2316.1,985.3 2325.5,985.3 2325.5,980.4 2330.2,980.4 2330.2,975.6 2330.2,970.7 2334.9,970.7 2334.9,965.9 2339.7,965.9 2339.7,961.1 2316.1,961.1 2316.1,956.2 2316.1,951.4 2320.8,951.4 2320.8,946.6 2325.5,946.6 2325.5,941.7 2334.9,941.7 2334.9,936.9 2382.1,936.9 2382.1,932 2386.9,932 2386.9,927.2 2410.5,927.2 2410.5,932 2410.5,936.9 2415.2,936.9 2415.2,932 2443.5,932 2443.5,927.2 2457.7,927.2 2457.7,922.4 2457.7,917.5 2467.1,917.5 2467.1,912.7 2467.1,907.8 2434.1,907.8 2434.1,903 2386.9,903 2386.9,898.2 2353.8,898.2 2353.8,893.3 2334.9,893.3 2334.9,898.2 2306.6,898.2 2306.6,903 2297.2,903 2297.2,898.2 2292.4,898.2 2292.4,893.3 2235.8,893.3 2235.8,888.5 2235.8,883.7 2231.1,883.7 2231.1,878.8 2202.8,878.8 2202.8,883.7 2165,883.7 2165,888.5 2150.8,888.5 2150.8,893.3 2132,893.3 2132,898.2 2117.8,898.2 2117.8,903 2117.8,907.8 2103.6,907.8 2103.6,903 2103.6,898.2 2103.6,893.3 2094.2,893.3 2094.2,898.2 2094.2,903 2094.2,907.8 2037.6,907.8 2037.6,912.7 2013.9,912.7 2013.9,917.5 1999.8,917.5 1999.8,922.4 1976.2,922.4 1976.2,917.5 1976.2,912.7 1995.1,912.7 1995.1,907.8 1966.7,907.8 1966.7,903 1952.6,903 1952.6,898.2 1947.9,898.2 1947.9,903 1924.3,903 1924.3,907.8 1914.8,907.8 1914.8,912.7 1910.1,912.7 1910.1,917.5 1905.4,917.5 1905.4,922.4 1895.9,922.4 1895.9,927.2 1886.5,927.2 1886.5,932 1881.8,932 1881.8,936.9 1886.5,936.9 1886.5,941.7 1891.2,941.7 1891.2,936.9 1905.4,936.9 1905.4,941.7 1905.4,946.6 1905.4,951.4 1910.1,951.4 1910.1,946.6 1914.8,946.6 1914.8,941.7 1919.5,941.7 1919.5,936.9 1919.5,932 1919.5,927.2 1924.3,927.2 1924.3,922.4 1929,922.4 1929,917.5 1933.7,917.5 1933.7,912.7 1947.9,912.7 1947.9,917.5 1947.9,922.4 1943.1,922.4 1943.1,927.2 1938.4,927.2 1938.4,932 1962,932 1962,936.9 1962,941.7 1947.9,941.7 1947.9,946.6 1938.4,946.6 1938.4,951.4 1933.7,951.4 1933.7,956.2 1919.5,956.2 1919.5,961.1 1881.8,961.1 1881.8,965.9 1877.1,965.9 1877.1,970.7 1867.6,970.7 1867.6,975.6 1858.2,975.6 1858.2,980.4 1862.9,980.4 1862.9,985.3 1862.9,990.1 1862.9,994.9 1834.6,994.9 1834.6,999.8 1834.6,1004.6 1834.6,1009.5 1834.6,1014.3 1858.2,1014.3ZM1957.3,990.1 1957.3,985.3 1962,985.3 1962,980.4 1976.2,980.4 1976.2,985.3 1980.9,985.3 1980.9,980.4 1990.3,980.4 1990.3,985.3 1995.1,985.3 1995.1,990.1 1999.8,990.1 1999.8,994.9 2004.5,994.9 2004.5,999.8 2004.5,1004.6 1980.9,1004.6 1980.9,999.8 1976.2,999.8 1976.2,1004.6 1957.3,1004.6 1957.3,999.8 1957.3,994.9ZM1905.4,869.1 1905.4,874 1933.7,874 1933.7,869.1ZM1905.4,999.8 1910.1,999.8 1910.1,994.9 1905.4,994.9ZM2042.3,898.2 2051.7,898.2 2051.7,893.3 2042.3,893.3ZM2013.9,1212.7 2013.9,1217.5 2013.9,1222.3 2013.9,1227.2 2018.7,1227.2 2018.7,1222.3 2023.4,1222.3 2023.4,1217.5 2023.4,1212.7 2023.4,1207.8 2028.1,1207.8 2028.1,1203 2028.1,1198.2 2028.1,1193.3 2023.4,1193.3 2023.4,1198.2 2018.7,1198.2 2018.7,1203 2013.9,1203 2013.9,1207.8ZM2193.3,864.3 2193.3,869.1 2202.8,869.1 2202.8,864.3ZM2202.8,1125.6 2202.8,1130.4 2207.5,1130.4 2207.5,1125.6ZM2198,1140.1 2198,1144.9 2202.8,1144.9 2202.8,1140.1ZM2207.5,1149.8 2207.5,1144.9 2202.8,1144.9 2202.8,1149.8ZM2212.2,1149.8 2207.5,1149.8 2207.5,1154.6 2212.2,1154.6ZM2254.7,1144.9 2254.7,1140.1 2254.7,1135.3 2254.7,1130.4 2254.7,1125.6 2250,1125.6 2250,1130.4 2245.2,1130.4 2245.2,1135.3 2240.5,1135.3 2240.5,1140.1 2231.1,1140.1 2231.1,1144.9 2235.8,1144.9 2235.8,1149.8 2235.8,1154.6 2250,1154.6 2250,1149.8 2250,1144.9ZM2212.2,1159.4 2216.9,1159.4 2216.9,1154.6 2212.2,1154.6ZM2410.5,936.9 2405.7,936.9 2405.7,941.7 2410.5,941.7ZM2386.9,956.2 2386.9,961.1 2396.3,961.1 2396.3,956.2 2401,956.2 2401,951.4 2405.7,951.4 2405.7,946.6 2405.7,941.7 2396.3,941.7 2396.3,946.6 2391.6,946.6 2391.6,951.4 2386.9,951.4ZM2330.2,1019.1 2334.9,1019.1 2334.9,1014.3 2330.2,1014.3ZM2264.1,1154.6 2268.8,1154.6 2268.8,1149.8 2264.1,1149.8ZM2353.8,1169.1 2353.8,1164.3 2349.1,1164.3 2349.1,1159.4 2339.7,1159.4 2339.7,1154.6 2320.8,1154.6 2320.8,1159.4 2330.2,1159.4 2330.2,1164.3 2330.2,1169.1 2334.9,1169.1 2334.9,1174 2339.7,1174 2339.7,1169.1ZM2278.3,1203 2278.3,1207.8 2273.6,1207.8 2273.6,1212.7 2264.1,1212.7 2264.1,1217.5 2250,1217.5 2250,1222.3 2245.2,1222.3 2245.2,1227.2 2245.2,1232 2250,1232 2250,1236.9 2250,1241.7 2250,1246.5 2254.7,1246.5 2254.7,1251.4 2254.7,1256.2 2254.7,1261.1 2273.6,1261.1 2273.6,1256.2 2283,1256.2 2283,1251.4 2316.1,1251.4 2316.1,1256.2 2316.1,1261.1 2330.2,1261.1 2330.2,1265.9 2334.9,1265.9 2334.9,1270.7 2339.7,1270.7 2339.7,1275.6 2358.5,1275.6 2358.5,1270.7 2363.3,1270.7 2363.3,1265.9 2368,1265.9 2368,1261.1 2368,1256.2 2372.7,1256.2 2372.7,1251.4 2372.7,1246.5 2372.7,1241.7 2377.4,1241.7 2377.4,1236.9 2372.7,1236.9 2372.7,1232 2372.7,1227.2 2363.3,1227.2 2363.3,1222.3 2363.3,1217.5 2358.5,1217.5 2358.5,1212.7 2353.8,1212.7 2353.8,1207.8 2349.1,1207.8 2349.1,1203 2349.1,1198.2 2344.4,1198.2 2344.4,1193.3 2344.4,1188.5 2339.7,1188.5 2339.7,1193.3 2339.7,1198.2 2339.7,1203 2339.7,1207.8 2325.5,1207.8 2325.5,1203 2320.8,1203 2320.8,1198.2 2316.1,1198.2 2316.1,1193.3 2316.1,1188.5 2301.9,1188.5 2301.9,1193.3 2301.9,1198.2 2283,1198.2 2283,1203ZM2452.9,1280.4 2457.7,1280.4 2457.7,1275.6 2452.9,1275.6Z"/></clipPath>
<clipPath id="me"><path id="mpe" d="M246.6,1639.1 246.6,1640.8 255,1640.8 255,1642.4 263.4,1642.4 263.4,1640.8 265.5,1640.8 265.5,1639.1ZM219.3,1647.3 219.3,1648.9 219.3,1650.6 234,1650.6 234,1648.9 234,1647.3 234,1645.7 219.3,1645.7ZM252.9,1665.3 252.9,1666.9 248.7,1666.9 248.7,1668.5 236.1,1668.5 236.1,1666.9 231.9,1666.9 231.9,1665.3 231.9,1663.6 229.8,1663.6 229.8,1662 179.4,1662 179.4,1663.6 177.4,1663.6 177.4,1665.3 177.4,1666.9 173.2,1666.9 173.2,1668.5 169,1668.5 169,1666.9 164.8,1666.9 164.8,1665.3 164.8,1663.6 162.7,1663.6 162.7,1662 118.6,1662 118.6,1660.4 114.4,1660.4 114.4,1658.7 114.4,1657.1 112.3,1657.1 112.3,1655.5 103.9,1655.5 103.9,1657.1 101.8,1657.1 101.8,1658.7 101.8,1660.4 97.6,1660.4 97.6,1662 87.1,1662 87.1,1663.6 85,1663.6 85,1665.3 85,1666.9 80.8,1666.9 80.8,1668.5 78.8,1668.5 78.8,1670.2 78.8,1671.8 78.8,1673.4 78.8,1675.1 89.2,1675.1 89.2,1676.7 93.4,1676.7 93.4,1678.3 93.4,1680 95.5,1680 95.5,1681.6 95.5,1683.2 93.4,1683.2 93.4,1684.9 93.4,1686.5 89.2,1686.5 89.2,1688.1 89.2,1689.8 93.4,1689.8 93.4,1691.4 93.4,1693 95.5,1693 95.5,1694.7 97.6,1694.7 97.6,1696.3 101.8,1696.3 101.8,1697.9 101.8,1699.6 106,1699.6 106,1697.9 106,1696.3 110.2,1696.3 110.2,1694.7 112.3,1694.7 112.3,1693 114.4,1693 114.4,1691.4 114.4,1689.8 118.6,1689.8 118.6,1688.1 122.8,1688.1 122.8,1689.8 127,1689.8 127,1691.4 127,1693 131.2,1693 131.2,1691.4 131.2,1689.8 135.4,1689.8 135.4,1688.1 164.8,1688.1 164.8,1689.8 169,1689.8 169,1691.4 169,1693 171.1,1693 171.1,1694.7 181.5,1694.7 181.5,1696.3 185.7,1696.3 185.7,1697.9 185.7,1699.6 187.8,1699.6 187.8,1701.2 189.9,1701.2 189.9,1702.8 194.1,1702.8 194.1,1704.5 194.1,1706.1 196.2,1706.1 196.2,1707.7 198.3,1707.7 198.3,1709.4 202.5,1709.4 202.5,1711 202.5,1712.6 204.6,1712.6 204.6,1714.3 204.6,1715.9 204.6,1717.5 204.6,1719.2 204.6,1720.8 206.7,1720.8 206.7,1722.4 210.9,1722.4 210.9,1724.1 210.9,1725.7 213,1725.7 213,1727.3 215.1,1727.3 215.1,1729 219.3,1729 219.3,1730.6 219.3,1732.2 221.4,1732.2 221.4,1733.9 221.4,1735.5 221.4,1737.1 221.4,1738.8 221.4,1740.4 221.4,1742 221.4,1743.7 221.4,1745.3 221.4,1746.9 221.4,1748.6 221.4,1750.2 221.4,1751.8 221.4,1753.5 221.4,1755.1 221.4,1756.7 221.4,1758.4 221.4,1760 221.4,1761.6 221.4,1763.3 221.4,1764.9 221.4,1766.5 223.5,1766.5 223.5,1768.2 227.7,1768.2 227.7,1769.8 227.7,1771.4 229.8,1771.4 229.8,1773.1 229.8,1774.7 229.8,1776.3 229.8,1778 229.8,1779.6 231.9,1779.6 231.9,1781.2 236.1,1781.2 236.1,1782.9 236.1,1784.5 238.2,1784.5 238.2,1786.2 240.3,1786.2 240.3,1787.8 244.5,1787.8 244.5,1789.4 244.5,1791.1 246.6,1791.1 246.6,1792.7 248.7,1792.7 248.7,1794.3 252.9,1794.3 252.9,1796 252.9,1797.6 255,1797.6 255,1799.2 255,1800.9 255,1802.5 255,1804.1 255,1805.8 265.5,1805.8 265.5,1807.4 269.7,1807.4 269.7,1809 269.7,1810.7 271.8,1810.7 271.8,1812.3 273.9,1812.3 273.9,1813.9 278.1,1813.9 278.1,1815.6 278.1,1817.2 280.1,1817.2 280.1,1818.8 280.1,1820.5 280.1,1822.1 280.1,1823.7 280.1,1825.4 280.1,1827 280.1,1828.6 280.1,1830.3 280.1,1831.9 290.6,1831.9 290.6,1833.5 294.8,1833.5 294.8,1835.2 294.8,1836.8 296.9,1836.8 296.9,1838.4 299,1838.4 299,1840.1 303.2,1840.1 303.2,1841.7 303.2,1843.3 305.3,1843.3 305.3,1845 324.2,1845 324.2,1846.6 328.4,1846.6 328.4,1848.2 328.4,1849.9 330.5,1849.9 330.5,1851.5 336.8,1851.5 336.8,1849.9 332.6,1849.9 332.6,1848.2 332.6,1846.6 330.5,1846.6 330.5,1845 330.5,1843.3 330.5,1841.7 330.5,1840.1 330.5,1838.4 330.5,1836.8 332.6,1836.8 332.6,1835.2 332.6,1833.5 336.8,1833.5 336.8,1831.9 330.5,1831.9 330.5,1833.5 328.4,1833.5 328.4,1835.2 328.4,1836.8 324.2,1836.8 324.2,1838.4 311.6,1838.4 311.6,1836.8 307.4,1836.8 307.4,1835.2 307.4,1833.5 305.3,1833.5 305.3,1831.9 303.2,1831.9 303.2,1830.3 299,1830.3 299,1828.6 299,1827 296.9,1827 296.9,1825.4 296.9,1823.7 296.9,1822.1 296.9,1820.5 296.9,1818.8 296.9,1817.2 299,1817.2 299,1815.6 299,1813.9 303.2,1813.9 303.2,1812.3 305.3,1812.3 305.3,1810.7 305.3,1809 305.3,1807.4 305.3,1805.8 305.3,1804.1 307.4,1804.1 307.4,1802.5 307.4,1800.9 311.6,1800.9 311.6,1799.2 313.7,1799.2 313.7,1797.6 315.8,1797.6 315.8,1796 315.8,1794.3 320,1794.3 320,1792.7 324.2,1792.7 324.2,1794.3 328.4,1794.3 328.4,1796 328.4,1797.6 332.6,1797.6 332.6,1796 332.6,1794.3 336.8,1794.3 336.8,1792.7 349.4,1792.7 349.4,1794.3 353.6,1794.3 353.6,1796 353.6,1797.6 355.7,1797.6 355.7,1796 355.7,1794.3 355.7,1792.7 355.7,1791.1 357.8,1791.1 357.8,1789.4 357.8,1787.8 362,1787.8 362,1786.2 364.1,1786.2 364.1,1784.5 366.2,1784.5 366.2,1782.9 366.2,1781.2 370.4,1781.2 370.4,1779.6 372.5,1779.6 372.5,1778 372.5,1776.3 372.5,1774.7 372.5,1773.1 372.5,1771.4 374.6,1771.4 374.6,1769.8 374.6,1768.2 378.8,1768.2 378.8,1766.5 380.8,1766.5 380.8,1764.9 380.8,1763.3 380.8,1761.6 380.8,1760 380.8,1758.4 382.9,1758.4 382.9,1756.7 382.9,1755.1 387.1,1755.1 387.1,1753.5 389.2,1753.5 389.2,1751.8 391.3,1751.8 391.3,1750.2 391.3,1748.6 395.5,1748.6 395.5,1746.9 414.4,1746.9 414.4,1745.3 414.4,1743.7 414.4,1742 414.4,1740.4 412.3,1740.4 412.3,1738.8 408.1,1738.8 408.1,1737.1 408.1,1735.5 406,1735.5 406,1733.9 406,1732.2 408.1,1732.2 408.1,1730.6 408.1,1729 412.3,1729 412.3,1727.3 422.8,1727.3 422.8,1725.7 424.9,1725.7 424.9,1724.1 424.9,1722.4 429.1,1722.4 429.1,1720.8 437.5,1720.8 437.5,1719.2 433.3,1719.2 433.3,1717.5 433.3,1715.9 431.2,1715.9 431.2,1714.3 429.1,1714.3 429.1,1712.6 424.9,1712.6 424.9,1711 424.9,1709.4 422.8,1709.4 422.8,1707.7 422.8,1706.1 422.8,1704.5 422.8,1702.8 422.8,1701.2 403.9,1701.2 403.9,1699.6 399.7,1699.6 399.7,1697.9 399.7,1696.3 397.6,1696.3 397.6,1694.7 395.5,1694.7 395.5,1693 391.3,1693 391.3,1691.4 391.3,1689.8 389.2,1689.8 389.2,1688.1 372.5,1688.1 372.5,1689.8 372.5,1691.4 372.5,1693 372.5,1694.7 374.6,1694.7 374.6,1696.3 378.8,1696.3 378.8,1697.9 378.8,1699.6 380.8,1699.6 380.8,1701.2 380.8,1702.8 380.8,1704.5 380.8,1706.1 380.8,1707.7 380.8,1709.4 378.8,1709.4 378.8,1711 378.8,1712.6 374.6,1712.6 374.6,1714.3 372.5,1714.3 372.5,1715.9 372.5,1717.5 372.5,1719.2 372.5,1720.8 372.5,1722.4 370.4,1722.4 370.4,1724.1 370.4,1725.7 366.2,1725.7 366.2,1727.3 362,1727.3 362,1725.7 357.8,1725.7 357.8,1724.1 357.8,1722.4 355.7,1722.4 355.7,1720.8 355.7,1719.2 355.7,1717.5 355.7,1715.9 355.7,1714.3 345.2,1714.3 345.2,1712.6 341,1712.6 341,1711 341,1709.4 338.9,1709.4 338.9,1707.7 328.4,1707.7 328.4,1706.1 324.2,1706.1 324.2,1704.5 324.2,1702.8 322.1,1702.8 322.1,1701.2 320,1701.2 320,1699.6 315.8,1699.6 315.8,1697.9 315.8,1696.3 313.7,1696.3 313.7,1694.7 313.7,1693 313.7,1691.4 313.7,1689.8 313.7,1688.1 313.7,1686.5 315.8,1686.5 315.8,1684.9 315.8,1683.2 320,1683.2 320,1681.6 322.1,1681.6 322.1,1680 324.2,1680 324.2,1678.3 324.2,1676.7 328.4,1676.7 328.4,1675.1 341,1675.1 341,1676.7 345.2,1676.7 345.2,1678.3 345.2,1680 347.3,1680 347.3,1678.3 347.3,1676.7 347.3,1675.1 347.3,1673.4 349.4,1673.4 349.4,1671.8 349.4,1670.2 353.6,1670.2 353.6,1668.5 355.7,1668.5 355.7,1666.9 355.7,1665.3 355.7,1663.6 378.8,1663.6 378.8,1665.3 378.8,1666.9 378.8,1668.5 378.8,1670.2 378.8,1671.8 389.2,1671.8 389.2,1673.4 389.2,1675.1 391.3,1675.1 391.3,1676.7 391.3,1678.3 391.3,1680 397.6,1680 397.6,1681.6 406,1681.6 406,1680 414.4,1680 414.4,1678.3 414.4,1676.7 414.4,1675.1 414.4,1673.4 414.4,1671.8 414.4,1670.2 414.4,1668.5 410.2,1668.5 410.2,1666.9 410.2,1665.3 410.2,1663.6 410.2,1662 395.5,1662 395.5,1660.4 391.3,1660.4 391.3,1658.7 391.3,1657.1 389.2,1657.1 389.2,1655.5 370.4,1655.5 370.4,1653.8 366.2,1653.8 366.2,1652.2 366.2,1650.6 364.1,1650.6 364.1,1648.9 362,1648.9 362,1647.3 357.8,1647.3 357.8,1645.7 357.8,1644 355.7,1644 355.7,1642.4 355.7,1640.8 357.8,1640.8 357.8,1639.1 357.8,1637.5 362,1637.5 362,1635.9 364.1,1635.9 364.1,1634.2 366.2,1634.2 366.2,1632.6 376.7,1632.6 376.7,1631 376.7,1629.3 399.7,1629.3 399.7,1631 403.9,1631 403.9,1632.6 403.9,1634.2 406,1634.2 406,1635.9 433.3,1635.9 433.3,1637.5 437.5,1637.5 437.5,1639.1 437.5,1640.8 439.6,1640.8 439.6,1642.4 441.7,1642.4 441.7,1644 445.9,1644 445.9,1645.7 445.9,1647.3 448,1647.3 448,1648.9 450.1,1648.9 450.1,1650.6 454.3,1650.6 454.3,1652.2 454.3,1653.8 456.4,1653.8 456.4,1655.5 458.5,1655.5 458.5,1657.1 462.7,1657.1 462.7,1658.7 462.7,1660.4 464.8,1660.4 464.8,1662 464.8,1663.6 462.7,1663.6 462.7,1665.3 462.7,1666.9 458.5,1666.9 458.5,1668.5 458.5,1670.2 462.7,1670.2 462.7,1671.8 462.7,1673.4 464.8,1673.4 464.8,1675.1 464.8,1676.7 464.8,1678.3 464.8,1680 464.8,1681.6 466.9,1681.6 466.9,1683.2 471.1,1683.2 471.1,1684.9 471.1,1686.5 473.2,1686.5 473.2,1688.1 489.9,1688.1 489.9,1686.5 489.9,1684.9 489.9,1683.2 489.9,1681.6 489.9,1680 492,1680 492,1678.3 492,1676.7 496.2,1676.7 496.2,1675.1 498.3,1675.1 498.3,1673.4 500.4,1673.4 500.4,1671.8 500.4,1670.2 504.6,1670.2 504.6,1668.5 515.1,1668.5 515.1,1666.9 517.2,1666.9 517.2,1665.3 517.2,1663.6 521.4,1663.6 521.4,1662 540.3,1662 540.3,1660.4 542.4,1660.4 542.4,1658.7 542.4,1657.1 546.6,1657.1 546.6,1655.5 557.1,1655.5 557.1,1653.8 557.1,1652.2 557.1,1650.6 557.1,1648.9 557.1,1647.3 559.2,1647.3 559.2,1645.7 559.2,1644 563.4,1644 563.4,1642.4 565.5,1642.4 565.5,1640.8 565.5,1639.1 565.5,1637.5 565.5,1635.9 565.5,1634.2 565.5,1632.6 565.5,1631 565.5,1629.3 565.5,1627.7 567.6,1627.7 567.6,1626.1 567.6,1624.4 571.8,1624.4 571.8,1622.8 563.4,1622.8 563.4,1621.2 559.2,1621.2 559.2,1619.5 559.2,1617.9 557.1,1617.9 557.1,1616.3 464.8,1616.3 464.8,1617.9 462.7,1617.9 462.7,1619.5 462.7,1621.2 458.5,1621.2 458.5,1622.8 420.7,1622.8 420.7,1621.2 416.5,1621.2 416.5,1619.5 416.5,1617.9 414.4,1617.9 414.4,1616.3 364.1,1616.3 364.1,1617.9 313.7,1617.9 313.7,1619.5 313.7,1621.2 313.7,1622.8 313.7,1624.4 313.7,1626.1 313.7,1627.7 313.7,1629.3 313.7,1631 313.7,1632.6 336.8,1632.6 336.8,1634.2 338.9,1634.2 338.9,1635.9 338.9,1637.5 336.8,1637.5 336.8,1639.1 336.8,1640.8 332.6,1640.8 332.6,1642.4 332.6,1644 336.8,1644 336.8,1645.7 336.8,1647.3 336.8,1648.9 336.8,1650.6 336.8,1652.2 336.8,1653.8 336.8,1655.5 336.8,1657.1 347.3,1657.1 347.3,1658.7 347.3,1660.4 347.3,1662 347.3,1663.6 345.2,1663.6 345.2,1665.3 345.2,1666.9 341,1666.9 341,1668.5 328.4,1668.5 328.4,1666.9 324.2,1666.9 324.2,1665.3 324.2,1663.6 322.1,1663.6 322.1,1662 320,1662 320,1660.4 315.8,1660.4 315.8,1658.7 315.8,1657.1 315.8,1655.5 315.8,1653.8 315.8,1652.2 315.8,1650.6 315.8,1648.9 305.3,1648.9 305.3,1650.6 305.3,1652.2 305.3,1653.8 305.3,1655.5 305.3,1657.1 305.3,1658.7 305.3,1660.4 305.3,1662 305.3,1663.6 305.3,1665.3 307.4,1665.3 307.4,1666.9 307.4,1668.5 286.4,1668.5 286.4,1666.9 282.2,1666.9 282.2,1665.3 282.2,1663.6 282.2,1662 282.2,1660.4 282.2,1658.7 282.2,1657.1 282.2,1655.5 282.2,1653.8 282.2,1652.2 282.2,1650.6 240.3,1650.6 240.3,1652.2 240.3,1653.8 240.3,1655.5 240.3,1657.1 240.3,1658.7 240.3,1660.4 240.3,1662 240.3,1663.6 252.9,1663.6ZM28.4,1670.2 28.4,1671.8 28.4,1673.4 30.5,1673.4 30.5,1671.8 30.5,1670.2 34.7,1670.2 34.7,1668.5 28.4,1668.5ZM47.3,1671.8 47.3,1670.2 45.2,1670.2 45.2,1668.5 38.9,1668.5 38.9,1670.2 43.1,1670.2 43.1,1671.8 43.1,1673.4 45.2,1673.4 45.2,1675.1 51.5,1675.1 51.5,1673.4 47.3,1673.4ZM441.7,2168.4 441.7,2166.8 439.6,2166.8 439.6,2165.2 429.1,2165.2 429.1,2163.5 424.9,2163.5 424.9,2161.9 424.9,2160.3 422.8,2160.3 422.8,2158.6 422.8,2157 422.8,2155.4 422.8,2153.7 422.8,2152.1 422.8,2150.5 422.8,2148.8 422.8,2147.2 422.8,2145.6 422.8,2143.9 422.8,2142.3 422.8,2140.7 422.8,2139 422.8,2137.4 422.8,2135.8 422.8,2134.1 422.8,2132.5 422.8,2130.9 424.9,2130.9 424.9,2129.2 424.9,2127.6 429.1,2127.6 429.1,2126 422.8,2126 422.8,2127.6 420.7,2127.6 420.7,2129.2 420.7,2130.9 416.5,2130.9 416.5,2132.5 414.4,2132.5 414.4,2134.1 412.3,2134.1 412.3,2135.8 412.3,2137.4 408.1,2137.4 408.1,2139 406,2139 406,2140.7 406,2142.3 406,2143.9 406,2145.6 406,2147.2 403.9,2147.2 403.9,2148.8 403.9,2150.5 399.7,2150.5 399.7,2152.1 372.5,2152.1 372.5,2153.7 370.4,2153.7 370.4,2155.4 370.4,2157 366.2,2157 366.2,2158.6 328.4,2158.6 328.4,2157 324.2,2157 324.2,2155.4 324.2,2153.7 322.1,2153.7 322.1,2152.1 305.3,2152.1 305.3,2153.7 303.2,2153.7 303.2,2155.4 303.2,2157 299,2157 299,2158.6 171.1,2158.6 171.1,2160.3 169,2160.3 169,2161.9 169,2163.5 164.8,2163.5 164.8,2165.2 137.5,2165.2 137.5,2166.8 135.4,2166.8 135.4,2168.4 135.4,2170.1 131.2,2170.1 131.2,2171.7 28.4,2171.7 28.4,2173.3 28.4,2175 28.4,2176.6 28.4,2178.2 28.4,2179.9 28.4,2181.5 28.4,2183.1 28.4,2184.8 28.4,2186.4 28.4,2188 28.4,2189.7 28.4,2191.3 28.4,2192.9 28.4,2194.6 28.4,2196.2 28.4,2197.8 28.4,2199.5 28.4,2201.1 28.4,2202.7 28.4,2204.4 28.4,2206 28.4,2207.6 28.4,2209.3 28.4,2210.9 1236.8,2210.9 1236.8,2209.3 1236.8,2207.6 1236.8,2206 1236.8,2204.4 1236.8,2202.7 1236.8,2201.1 1236.8,2199.5 1236.8,2197.8 1236.8,2196.2 1236.8,2194.6 1236.8,2192.9 1236.8,2191.3 1236.8,2189.7 1236.8,2188 1236.8,2186.4 1236.8,2184.8 1236.8,2183.1 1236.8,2181.5 1236.8,2179.9 1236.8,2178.2 1236.8,2176.6 1236.8,2175 1236.8,2173.3 1236.8,2171.7 1184.4,2171.7 1184.4,2170.1 1180.2,2170.1 1180.2,2168.4 1180.2,2166.8 1178.1,2166.8 1178.1,2165.2 1178.1,2163.5 1180.2,2163.5 1180.2,2161.9 1180.2,2160.3 1184.4,2160.3 1184.4,2158.6 1186.5,2158.6 1186.5,2157 1188.5,2157 1188.5,2155.4 1188.5,2153.7 1192.7,2153.7 1192.7,2152.1 1192.7,2150.5 1188.5,2150.5 1188.5,2148.8 1188.5,2147.2 1186.5,2147.2 1186.5,2145.6 1159.2,2145.6 1159.2,2143.9 1155,2143.9 1155,2142.3 1155,2140.7 1152.9,2140.7 1152.9,2139 1117.2,2139 1117.2,2137.4 1113,2137.4 1113,2135.8 1113,2134.1 1110.9,2134.1 1110.9,2132.5 909.5,2132.5 909.5,2134.1 907.4,2134.1 907.4,2135.8 907.4,2137.4 903.2,2137.4 903.2,2139 892.7,2139 892.7,2140.7 890.6,2140.7 890.6,2142.3 890.6,2143.9 886.4,2143.9 886.4,2145.6 873.9,2145.6 873.9,2143.9 869.7,2143.9 869.7,2142.3 869.7,2140.7 867.6,2140.7 867.6,2139 831.9,2139 831.9,2137.4 827.7,2137.4 827.7,2135.8 827.7,2134.1 825.6,2134.1 825.6,2132.5 792,2132.5 792,2134.1 789.9,2134.1 789.9,2135.8 789.9,2137.4 785.7,2137.4 785.7,2139 766.9,2139 766.9,2140.7 764.8,2140.7 764.8,2142.3 764.8,2143.9 760.6,2143.9 760.6,2145.6 756.4,2145.6 756.4,2143.9 752.2,2143.9 752.2,2142.3 752.2,2140.7 748,2140.7 748,2142.3 748,2143.9 743.8,2143.9 743.8,2145.6 607.4,2145.6 607.4,2147.2 605.3,2147.2 605.3,2148.8 605.3,2150.5 601.1,2150.5 601.1,2152.1 582.2,2152.1 582.2,2153.7 580.2,2153.7 580.2,2155.4 580.2,2157 576,2157 576,2158.6 557.1,2158.6 557.1,2160.3 555,2160.3 555,2161.9 555,2163.5 550.8,2163.5 550.8,2165.2 531.9,2165.2 531.9,2166.8 529.8,2166.8 529.8,2168.4 529.8,2170.1 525.6,2170.1 525.6,2171.7 445.9,2171.7 445.9,2170.1 441.7,2170.1ZM341,1851.5 341,1853.1 345.2,1853.1 345.2,1854.8 345.2,1856.4 347.3,1856.4 347.3,1854.8 347.3,1853.1 347.3,1851.5ZM370.4,1874.4 370.4,1876 372.5,1876 372.5,1877.6 374.6,1877.6 374.6,1879.3 378.8,1879.3 378.8,1880.9 378.8,1882.5 380.8,1882.5 380.8,1884.2 380.8,1885.8 378.8,1885.8 378.8,1887.4 378.8,1889.1 374.6,1889.1 374.6,1890.7 372.5,1890.7 372.5,1892.3 372.5,1894 372.5,1895.6 372.5,1897.2 372.5,1898.9 370.4,1898.9 370.4,1900.5 370.4,1902.1 366.2,1902.1 366.2,1903.8 364.1,1903.8 364.1,1905.4 364.1,1907 364.1,1908.7 364.1,1910.3 364.1,1911.9 364.1,1913.6 364.1,1915.2 364.1,1916.8 364.1,1918.5 364.1,1920.1 364.1,1921.7 364.1,1923.4 366.2,1923.4 366.2,1925 370.4,1925 370.4,1926.6 370.4,1928.3 372.5,1928.3 372.5,1929.9 372.5,1931.5 372.5,1933.2 372.5,1934.8 372.5,1936.4 374.6,1936.4 374.6,1938.1 378.8,1938.1 378.8,1939.7 378.8,1941.3 380.8,1941.3 380.8,1943 380.8,1944.6 380.8,1946.2 380.8,1947.9 380.8,1949.5 382.9,1949.5 382.9,1951.1 387.1,1951.1 387.1,1952.8 387.1,1954.4 389.2,1954.4 389.2,1956.1 391.3,1956.1 391.3,1957.7 395.5,1957.7 395.5,1959.3 395.5,1961 397.6,1961 397.6,1962.6 397.6,1964.2 397.6,1965.9 397.6,1967.5 397.6,1969.1 397.6,1970.8 397.6,1972.4 397.6,1974 397.6,1975.7 397.6,1977.3 397.6,1978.9 397.6,1980.6 397.6,1982.2 397.6,1983.8 397.6,1985.5 397.6,1987.1 397.6,1988.7 397.6,1990.4 397.6,1992 397.6,1993.6 397.6,1995.3 397.6,1996.9 397.6,1998.5 397.6,2000.2 397.6,2001.8 397.6,2003.4 397.6,2005.1 397.6,2006.7 397.6,2008.3 397.6,2010 397.6,2011.6 397.6,2013.2 397.6,2014.9 397.6,2016.5 397.6,2018.1 397.6,2019.8 397.6,2021.4 397.6,2023 395.5,2023 395.5,2024.7 395.5,2026.3 391.3,2026.3 391.3,2027.9 389.2,2027.9 389.2,2029.6 389.2,2031.2 389.2,2032.8 389.2,2034.5 389.2,2036.1 389.2,2037.7 389.2,2039.4 389.2,2041 389.2,2042.6 389.2,2044.3 389.2,2045.9 389.2,2047.5 389.2,2049.2 389.2,2050.8 389.2,2052.4 389.2,2054.1 389.2,2055.7 387.1,2055.7 387.1,2057.3 387.1,2059 382.9,2059 382.9,2060.6 380.8,2060.6 380.8,2062.2 380.8,2063.9 380.8,2065.5 380.8,2067.1 380.8,2068.8 380.8,2070.4 380.8,2072 380.8,2073.7 382.9,2073.7 382.9,2075.3 387.1,2075.3 387.1,2076.9 387.1,2078.6 389.2,2078.6 389.2,2080.2 391.3,2080.2 391.3,2081.8 395.5,2081.8 395.5,2083.5 395.5,2085.1 397.6,2085.1 397.6,2086.7 403.9,2086.7 403.9,2085.1 399.7,2085.1 399.7,2083.5 399.7,2081.8 397.6,2081.8 397.6,2080.2 397.6,2078.6 397.6,2076.9 397.6,2075.3 397.6,2073.7 397.6,2072 399.7,2072 399.7,2070.4 399.7,2068.8 403.9,2068.8 403.9,2067.1 406,2067.1 406,2065.5 406,2063.9 406,2062.2 406,2060.6 406,2059 406,2057.3 406,2055.7 406,2054.1 406,2052.4 408.1,2052.4 408.1,2050.8 408.1,2049.2 412.3,2049.2 412.3,2047.5 414.4,2047.5 414.4,2045.9 414.4,2044.3 414.4,2042.6 414.4,2041 414.4,2039.4 416.5,2039.4 416.5,2037.7 416.5,2036.1 420.7,2036.1 420.7,2034.5 431.2,2034.5 431.2,2032.8 433.3,2032.8 433.3,2031.2 433.3,2029.6 437.5,2029.6 437.5,2027.9 439.6,2027.9 439.6,2026.3 439.6,2024.7 439.6,2023 439.6,2021.4 439.6,2019.8 441.7,2019.8 441.7,2018.1 441.7,2016.5 445.9,2016.5 445.9,2014.9 448,2014.9 448,2013.2 450.1,2013.2 450.1,2011.6 450.1,2010 454.3,2010 454.3,2008.3 456.4,2008.3 456.4,2006.7 458.5,2006.7 458.5,2005.1 458.5,2003.4 462.7,2003.4 462.7,2001.8 464.8,2001.8 464.8,2000.2 464.8,1998.5 464.8,1996.9 464.8,1995.3 464.8,1993.6 464.8,1992 464.8,1990.4 464.8,1988.7 464.8,1987.1 466.9,1987.1 466.9,1985.5 466.9,1983.8 471.1,1983.8 471.1,1982.2 473.2,1982.2 473.2,1980.6 475.3,1980.6 475.3,1978.9 475.3,1977.3 479.5,1977.3 479.5,1975.7 489.9,1975.7 489.9,1974 492,1974 492,1972.4 492,1970.8 496.2,1970.8 496.2,1969.1 498.3,1969.1 498.3,1967.5 498.3,1965.9 498.3,1964.2 498.3,1962.6 498.3,1961 498.3,1959.3 498.3,1957.7 498.3,1956.1 498.3,1954.4 498.3,1952.8 498.3,1951.1 498.3,1949.5 498.3,1947.9 498.3,1946.2 498.3,1944.6 498.3,1943 498.3,1941.3 500.4,1941.3 500.4,1939.7 500.4,1938.1 504.6,1938.1 504.6,1936.4 506.7,1936.4 506.7,1934.8 506.7,1933.2 506.7,1931.5 506.7,1929.9 506.7,1928.3 508.8,1928.3 508.8,1926.6 508.8,1925 513,1925 513,1923.4 513,1921.7 508.8,1921.7 508.8,1920.1 508.8,1918.5 506.7,1918.5 506.7,1916.8 496.2,1916.8 496.2,1915.2 492,1915.2 492,1913.6 492,1911.9 489.9,1911.9 489.9,1910.3 479.5,1910.3 479.5,1908.7 475.3,1908.7 475.3,1907 475.3,1905.4 473.2,1905.4 473.2,1903.8 471.1,1903.8 471.1,1902.1 466.9,1902.1 466.9,1900.5 466.9,1898.9 464.8,1898.9 464.8,1897.2 462.7,1897.2 462.7,1895.6 458.5,1895.6 458.5,1894 458.5,1892.3 456.4,1892.3 456.4,1890.7 456.4,1889.1 456.4,1887.4 456.4,1885.8 456.4,1884.2 437.5,1884.2 437.5,1882.5 433.3,1882.5 433.3,1880.9 433.3,1879.3 431.2,1879.3 431.2,1877.6 429.1,1877.6 429.1,1876 424.9,1876 424.9,1874.4 424.9,1872.7 422.8,1872.7 422.8,1871.1 412.3,1871.1 412.3,1869.5 408.1,1869.5 408.1,1867.8 408.1,1866.2 406,1866.2 406,1864.6 380.8,1864.6 380.8,1866.2 378.8,1866.2 378.8,1867.8 378.8,1869.5 374.6,1869.5 374.6,1871.1 366.2,1871.1 366.2,1872.7 370.4,1872.7ZM617.9,1707.7 617.9,1709.4 622.1,1709.4 622.1,1711 622.1,1712.6 624.2,1712.6 624.2,1711 624.2,1709.4 624.2,1707.7 622.1,1707.7 622.1,1706.1 617.9,1706.1 617.9,1704.5 617.9,1702.8 615.8,1702.8 615.8,1704.5 615.8,1706.1 615.8,1707.7ZM624.2,1715.9 624.2,1717.5 624.2,1719.2 624.2,1720.8 630.5,1720.8 630.5,1719.2 626.3,1719.2 626.3,1717.5 626.3,1715.9ZM607.4,1756.7 607.4,1758.4 607.4,1760 607.4,1761.6 607.4,1763.3 607.4,1764.9 607.4,1766.5 609.5,1766.5 609.5,1768.2 613.7,1768.2 613.7,1769.8 613.7,1771.4 615.8,1771.4 615.8,1773.1 615.8,1774.7 615.8,1776.3 615.8,1778 615.8,1779.6 615.8,1781.2 613.7,1781.2 613.7,1782.9 613.7,1784.5 609.5,1784.5 609.5,1786.2 607.4,1786.2 607.4,1787.8 607.4,1789.4 607.4,1791.1 607.4,1792.7 607.4,1794.3 605.3,1794.3 605.3,1796 605.3,1797.6 601.1,1797.6 601.1,1799.2 599,1799.2 599,1800.9 596.9,1800.9 596.9,1802.5 596.9,1804.1 592.7,1804.1 592.7,1805.8 590.6,1805.8 590.6,1807.4 590.6,1809 590.6,1810.7 590.6,1812.3 590.6,1813.9 588.5,1813.9 588.5,1815.6 588.5,1817.2 584.3,1817.2 584.3,1818.8 582.2,1818.8 582.2,1820.5 582.2,1822.1 582.2,1823.7 582.2,1825.4 582.2,1827 582.2,1828.6 582.2,1830.3 582.2,1831.9 582.2,1833.5 582.2,1835.2 582.2,1836.8 582.2,1838.4 582.2,1840.1 582.2,1841.7 582.2,1843.3 582.2,1845 582.2,1846.6 582.2,1848.2 582.2,1849.9 582.2,1851.5 582.2,1853.1 582.2,1854.8 582.2,1856.4 582.2,1858 584.3,1858 584.3,1859.7 588.5,1859.7 588.5,1861.3 588.5,1862.9 590.6,1862.9 590.6,1864.6 590.6,1866.2 590.6,1867.8 590.6,1869.5 590.6,1871.1 592.7,1871.1 592.7,1872.7 596.9,1872.7 596.9,1874.4 596.9,1876 599,1876 599,1877.6 601.1,1877.6 601.1,1879.3 605.3,1879.3 605.3,1880.9 605.3,1882.5 609.5,1882.5 609.5,1880.9 609.5,1879.3 613.7,1879.3 613.7,1877.6 651.5,1877.6 651.5,1879.3 655.7,1879.3 655.7,1880.9 655.7,1882.5 657.8,1882.5 657.8,1884.2 659.9,1884.2 659.9,1885.8 664.1,1885.8 664.1,1887.4 664.1,1889.1 666.2,1889.1 666.2,1890.7 666.2,1892.3 666.2,1894 666.2,1895.6 666.2,1897.2 666.2,1898.9 666.2,1900.5 666.2,1902.1 666.2,1903.8 668.3,1903.8 668.3,1905.4 672.5,1905.4 672.5,1907 672.5,1908.7 674.6,1908.7 674.6,1910.3 674.6,1911.9 674.6,1913.6 674.6,1915.2 674.6,1916.8 676.7,1916.8 676.7,1918.5 680.9,1918.5 680.9,1920.1 680.9,1921.7 682.9,1921.7 682.9,1923.4 682.9,1925 682.9,1926.6 682.9,1928.3 682.9,1929.9 682.9,1931.5 682.9,1933.2 682.9,1934.8 682.9,1936.4 682.9,1938.1 682.9,1939.7 682.9,1941.3 682.9,1943 682.9,1944.6 680.9,1944.6 680.9,1946.2 680.9,1947.9 676.7,1947.9 676.7,1949.5 674.6,1949.5 674.6,1951.1 674.6,1952.8 674.6,1954.4 674.6,1956.1 674.6,1957.7 674.6,1959.3 674.6,1961 674.6,1962.6 676.7,1962.6 676.7,1964.2 680.9,1964.2 680.9,1965.9 680.9,1967.5 682.9,1967.5 682.9,1969.1 682.9,1970.8 682.9,1972.4 682.9,1974 682.9,1975.7 682.9,1977.3 682.9,1978.9 682.9,1980.6 682.9,1982.2 685,1982.2 685,1983.8 689.2,1983.8 689.2,1985.5 689.2,1987.1 691.3,1987.1 691.3,1988.7 691.3,1990.4 691.3,1992 691.3,1993.6 691.3,1995.3 691.3,1996.9 691.3,1998.5 691.3,2000.2 691.3,2001.8 693.4,2001.8 693.4,2003.4 697.6,2003.4 697.6,2005.1 697.6,2006.7 699.7,2006.7 699.7,2008.3 699.7,2010 699.7,2011.6 699.7,2013.2 699.7,2014.9 724.9,2014.9 724.9,2013.2 727,2013.2 727,2011.6 727,2010 731.2,2010 731.2,2008.3 733.3,2008.3 733.3,2006.7 733.3,2005.1 733.3,2003.4 733.3,2001.8 733.3,2000.2 735.4,2000.2 735.4,1998.5 735.4,1996.9 739.6,1996.9 739.6,1995.3 741.7,1995.3 741.7,1993.6 741.7,1992 741.7,1990.4 741.7,1988.7 741.7,1987.1 743.8,1987.1 743.8,1985.5 743.8,1983.8 748,1983.8 748,1982.2 750.1,1982.2 750.1,1980.6 750.1,1978.9 750.1,1977.3 750.1,1975.7 750.1,1974 750.1,1972.4 750.1,1970.8 750.1,1969.1 750.1,1967.5 752.2,1967.5 752.2,1965.9 752.2,1964.2 756.4,1964.2 756.4,1962.6 758.5,1962.6 758.5,1961 758.5,1959.3 758.5,1957.7 758.5,1956.1 758.5,1954.4 760.6,1954.4 760.6,1952.8 760.6,1951.1 764.8,1951.1 764.8,1949.5 766.9,1949.5 766.9,1947.9 766.9,1946.2 766.9,1944.6 766.9,1943 766.9,1941.3 766.9,1939.7 766.9,1938.1 766.9,1936.4 764.8,1936.4 764.8,1934.8 760.6,1934.8 760.6,1933.2 760.6,1931.5 758.5,1931.5 758.5,1929.9 758.5,1928.3 758.5,1926.6 758.5,1925 758.5,1923.4 758.5,1921.7 758.5,1920.1 758.5,1918.5 758.5,1916.8 758.5,1915.2 760.6,1915.2 760.6,1913.6 760.6,1911.9 764.8,1911.9 764.8,1910.3 766.9,1910.3 766.9,1908.7 766.9,1907 766.9,1905.4 766.9,1903.8 766.9,1902.1 769,1902.1 769,1900.5 769,1898.9 773.2,1898.9 773.2,1897.2 775.3,1897.2 775.3,1895.6 777.4,1895.6 777.4,1894 777.4,1892.3 781.6,1892.3 781.6,1890.7 783.6,1890.7 783.6,1889.1 785.7,1889.1 785.7,1887.4 785.7,1885.8 789.9,1885.8 789.9,1884.2 792,1884.2 792,1882.5 792,1880.9 792,1879.3 792,1877.6 792,1876 794.1,1876 794.1,1874.4 794.1,1872.7 798.3,1872.7 798.3,1871.1 800.4,1871.1 800.4,1869.5 800.4,1867.8 800.4,1866.2 800.4,1864.6 781.6,1864.6 781.6,1862.9 777.4,1862.9 777.4,1861.3 777.4,1859.7 775.3,1859.7 775.3,1858 773.2,1858 773.2,1856.4 769,1856.4 769,1854.8 769,1853.1 766.9,1853.1 766.9,1851.5 764.8,1851.5 764.8,1849.9 760.6,1849.9 760.6,1848.2 760.6,1846.6 758.5,1846.6 758.5,1845 758.5,1843.3 758.5,1841.7 758.5,1840.1 758.5,1838.4 756.4,1838.4 756.4,1836.8 752.2,1836.8 752.2,1835.2 752.2,1833.5 750.1,1833.5 750.1,1831.9 750.1,1830.3 750.1,1828.6 750.1,1827 750.1,1825.4 750.1,1823.7 750.1,1822.1 750.1,1820.5 750.1,1818.8 748,1818.8 748,1817.2 743.8,1817.2 743.8,1815.6 743.8,1813.9 741.7,1813.9 741.7,1812.3 741.7,1810.7 741.7,1809 741.7,1807.4 741.7,1805.8 741.7,1804.1 743.8,1804.1 743.8,1802.5 743.8,1800.9 748,1800.9 748,1799.2 752.2,1799.2 752.2,1800.9 756.4,1800.9 756.4,1802.5 756.4,1804.1 758.5,1804.1 758.5,1805.8 758.5,1807.4 758.5,1809 758.5,1810.7 758.5,1812.3 760.6,1812.3 760.6,1813.9 764.8,1813.9 764.8,1815.6 764.8,1817.2 766.9,1817.2 766.9,1818.8 766.9,1820.5 766.9,1822.1 766.9,1823.7 766.9,1825.4 769,1825.4 769,1827 773.2,1827 773.2,1828.6 773.2,1830.3 775.3,1830.3 775.3,1831.9 775.3,1833.5 775.3,1835.2 775.3,1836.8 775.3,1838.4 777.4,1838.4 777.4,1840.1 781.6,1840.1 781.6,1841.7 781.6,1843.3 783.6,1843.3 783.6,1845 783.6,1846.6 783.6,1848.2 783.6,1849.9 783.6,1851.5 792,1851.5 792,1849.9 794.1,1849.9 794.1,1848.2 794.1,1846.6 798.3,1846.6 798.3,1845 800.4,1845 800.4,1843.3 802.5,1843.3 802.5,1841.7 802.5,1840.1 806.7,1840.1 806.7,1838.4 817.2,1838.4 817.2,1836.8 819.3,1836.8 819.3,1835.2 819.3,1833.5 823.5,1833.5 823.5,1831.9 825.6,1831.9 825.6,1830.3 825.6,1828.6 825.6,1827 825.6,1825.4 825.6,1823.7 825.6,1822.1 825.6,1820.5 825.6,1818.8 806.7,1818.8 806.7,1817.2 802.5,1817.2 802.5,1815.6 802.5,1813.9 800.4,1813.9 800.4,1812.3 798.3,1812.3 798.3,1810.7 794.1,1810.7 794.1,1809 794.1,1807.4 792,1807.4 792,1805.8 792,1804.1 792,1802.5 792,1800.9 792,1799.2 792,1797.6 794.1,1797.6 794.1,1796 794.1,1794.3 798.3,1794.3 798.3,1792.7 802.5,1792.7 802.5,1794.3 806.7,1794.3 806.7,1796 806.7,1797.6 808.8,1797.6 808.8,1799.2 808.8,1800.9 808.8,1802.5 808.8,1804.1 808.8,1805.8 827.7,1805.8 827.7,1807.4 831.9,1807.4 831.9,1809 831.9,1810.7 834,1810.7 834,1812.3 861.3,1812.3 861.3,1813.9 865.5,1813.9 865.5,1815.6 865.5,1817.2 867.6,1817.2 867.6,1818.8 867.6,1820.5 867.6,1822.1 867.6,1823.7 867.6,1825.4 878.1,1825.4 878.1,1827 882.3,1827 882.3,1828.6 882.3,1830.3 884.3,1830.3 884.3,1831.9 884.3,1833.5 884.3,1835.2 884.3,1836.8 884.3,1838.4 884.3,1840.1 884.3,1841.7 884.3,1843.3 884.3,1845 884.3,1846.6 884.3,1848.2 884.3,1849.9 884.3,1851.5 886.4,1851.5 886.4,1853.1 890.6,1853.1 890.6,1854.8 890.6,1856.4 892.7,1856.4 892.7,1858 892.7,1859.7 892.7,1861.3 892.7,1862.9 894.8,1862.9 894.8,1861.3 894.8,1859.7 899,1859.7 899,1858 901.1,1858 901.1,1856.4 901.1,1854.8 901.1,1853.1 901.1,1851.5 901.1,1849.9 901.1,1848.2 901.1,1846.6 901.1,1845 901.1,1843.3 903.2,1843.3 903.2,1841.7 903.2,1840.1 907.4,1840.1 907.4,1838.4 909.5,1838.4 909.5,1836.8 911.6,1836.8 911.6,1835.2 911.6,1833.5 915.8,1833.5 915.8,1831.9 917.9,1831.9 917.9,1830.3 920,1830.3 920,1828.6 920,1827 924.2,1827 924.2,1825.4 926.3,1825.4 926.3,1823.7 928.4,1823.7 928.4,1822.1 928.4,1820.5 932.6,1820.5 932.6,1818.8 936.8,1818.8 936.8,1820.5 941,1820.5 941,1822.1 941,1823.7 943.1,1823.7 943.1,1825.4 945.2,1825.4 945.2,1827 949.4,1827 949.4,1828.6 949.4,1830.3 951.5,1830.3 951.5,1831.9 951.5,1833.5 951.5,1835.2 951.5,1836.8 951.5,1838.4 953.6,1838.4 953.6,1840.1 957.8,1840.1 957.8,1841.7 957.8,1843.3 959.9,1843.3 959.9,1845 962,1845 962,1846.6 966.2,1846.6 966.2,1848.2 966.2,1849.9 968.3,1849.9 968.3,1851.5 968.3,1853.1 968.3,1854.8 968.3,1856.4 968.3,1858 978.8,1858 978.8,1859.7 983,1859.7 983,1861.3 983,1862.9 985,1862.9 985,1864.6 993.4,1864.6 993.4,1862.9 993.4,1861.3 993.4,1859.7 993.4,1858 993.4,1856.4 993.4,1854.8 993.4,1853.1 993.4,1851.5 993.4,1849.9 993.4,1848.2 993.4,1846.6 993.4,1845 991.3,1845 991.3,1843.3 987.1,1843.3 987.1,1841.7 987.1,1840.1 985,1840.1 985,1838.4 985,1836.8 985,1835.2 985,1833.5 985,1831.9 985,1830.3 987.1,1830.3 987.1,1828.6 987.1,1827 991.3,1827 991.3,1825.4 1001.8,1825.4 1001.8,1823.7 1003.9,1823.7 1003.9,1822.1 1003.9,1820.5 1008.1,1820.5 1008.1,1818.8 1018.6,1818.8 1018.6,1817.2 1020.7,1817.2 1020.7,1815.6 1020.7,1813.9 1024.9,1813.9 1024.9,1812.3 1027,1812.3 1027,1810.7 1029.1,1810.7 1029.1,1809 1029.1,1807.4 1033.3,1807.4 1033.3,1805.8 1035.4,1805.8 1035.4,1804.1 1035.4,1802.5 1035.4,1800.9 1035.4,1799.2 1035.4,1797.6 1035.4,1796 1035.4,1794.3 1035.4,1792.7 1035.4,1791.1 1035.4,1789.4 1035.4,1787.8 1035.4,1786.2 1033.3,1786.2 1033.3,1784.5 1029.1,1784.5 1029.1,1782.9 1029.1,1781.2 1027,1781.2 1027,1779.6 1027,1778 1029.1,1778 1029.1,1776.3 1029.1,1774.7 1033.3,1774.7 1033.3,1773.1 1033.3,1771.4 1029.1,1771.4 1029.1,1769.8 1029.1,1768.2 1027,1768.2 1027,1766.5 1027,1764.9 1029.1,1764.9 1029.1,1763.3 1029.1,1761.6 1033.3,1761.6 1033.3,1760 1054.3,1760 1054.3,1761.6 1058.5,1761.6 1058.5,1763.3 1058.5,1764.9 1060.6,1764.9 1060.6,1763.3 1060.6,1761.6 1060.6,1760 1060.6,1758.4 1062.7,1758.4 1062.7,1756.7 1062.7,1755.1 1066.9,1755.1 1066.9,1753.5 1069,1753.5 1069,1751.8 1071.1,1751.8 1071.1,1750.2 1071.1,1748.6 1075.3,1748.6 1075.3,1746.9 1085.8,1746.9 1085.8,1745.3 1087.8,1745.3 1087.8,1743.7 1087.8,1742 1092,1742 1092,1740.4 1094.1,1740.4 1094.1,1738.8 1096.2,1738.8 1096.2,1737.1 1096.2,1735.5 1100.4,1735.5 1100.4,1733.9 1110.9,1733.9 1110.9,1732.2 1110.9,1730.6 1110.9,1729 1110.9,1727.3 1110.9,1725.7 1110.9,1724.1 1110.9,1722.4 1110.9,1720.8 1092,1720.8 1092,1719.2 1087.8,1719.2 1087.8,1717.5 1087.8,1715.9 1085.8,1715.9 1085.8,1714.3 1085.8,1712.6 1085.8,1711 1085.8,1709.4 1085.8,1707.7 1085.8,1706.1 1087.8,1706.1 1087.8,1704.5 1087.8,1702.8 1092,1702.8 1092,1701.2 1094.1,1701.2 1094.1,1699.6 1096.2,1699.6 1096.2,1697.9 1096.2,1696.3 1100.4,1696.3 1100.4,1694.7 1144.5,1694.7 1144.5,1693 1146.6,1693 1146.6,1691.4 1146.6,1689.8 1150.8,1689.8 1150.8,1688.1 1169.7,1688.1 1169.7,1686.5 1171.8,1686.5 1171.8,1684.9 1171.8,1683.2 1176,1683.2 1176,1681.6 1180.2,1681.6 1180.2,1683.2 1184.4,1683.2 1184.4,1684.9 1184.4,1686.5 1186.5,1686.5 1186.5,1688.1 1211.6,1688.1 1211.6,1686.5 1213.7,1686.5 1213.7,1684.9 1213.7,1683.2 1217.9,1683.2 1217.9,1681.6 1228.4,1681.6 1228.4,1680 1230.5,1680 1230.5,1678.3 1230.5,1676.7 1234.7,1676.7 1234.7,1675.1 1236.8,1675.1 1236.8,1673.4 1236.8,1671.8 1236.8,1670.2 1236.8,1668.5 1234.7,1668.5 1234.7,1666.9 1230.5,1666.9 1230.5,1665.3 1230.5,1663.6 1228.4,1663.6 1228.4,1662 1142.4,1662 1142.4,1660.4 1138.2,1660.4 1138.2,1658.7 1138.2,1657.1 1136.1,1657.1 1136.1,1655.5 1117.2,1655.5 1117.2,1653.8 1113,1653.8 1113,1652.2 1113,1650.6 1108.8,1650.6 1108.8,1652.2 1108.8,1653.8 1104.6,1653.8 1104.6,1655.5 1066.9,1655.5 1066.9,1653.8 1062.7,1653.8 1062.7,1652.2 1062.7,1650.6 1060.6,1650.6 1060.6,1648.9 1008.1,1648.9 1008.1,1647.3 1003.9,1647.3 1003.9,1645.7 1003.9,1644 1001.8,1644 1001.8,1642.4 999.7,1642.4 999.7,1640.8 995.5,1640.8 995.5,1639.1 995.5,1637.5 993.4,1637.5 993.4,1635.9 983,1635.9 983,1634.2 978.8,1634.2 978.8,1632.6 978.8,1631 976.7,1631 976.7,1629.3 974.6,1629.3 974.6,1627.7 970.4,1627.7 970.4,1626.1 970.4,1624.4 966.2,1624.4 966.2,1626.1 966.2,1627.7 962,1627.7 962,1629.3 970.4,1629.3 970.4,1631 974.6,1631 974.6,1632.6 974.6,1634.2 976.7,1634.2 976.7,1635.9 976.7,1637.5 974.6,1637.5 974.6,1639.1 974.6,1640.8 970.4,1640.8 970.4,1642.4 934.7,1642.4 934.7,1644 932.6,1644 932.6,1645.7 932.6,1647.3 928.4,1647.3 928.4,1648.9 909.5,1648.9 909.5,1650.6 907.4,1650.6 907.4,1652.2 907.4,1653.8 903.2,1653.8 903.2,1655.5 873.9,1655.5 873.9,1653.8 869.7,1653.8 869.7,1652.2 869.7,1650.6 865.5,1650.6 865.5,1652.2 865.5,1653.8 861.3,1653.8 861.3,1655.5 861.3,1657.1 865.5,1657.1 865.5,1658.7 865.5,1660.4 867.6,1660.4 867.6,1662 867.6,1663.6 865.5,1663.6 865.5,1665.3 865.5,1666.9 861.3,1666.9 861.3,1668.5 857.1,1668.5 857.1,1666.9 852.9,1666.9 852.9,1665.3 852.9,1663.6 850.8,1663.6 850.8,1662 842.4,1662 842.4,1663.6 840.3,1663.6 840.3,1665.3 840.3,1666.9 836.1,1666.9 836.1,1668.5 783.6,1668.5 783.6,1670.2 781.6,1670.2 781.6,1671.8 781.6,1673.4 777.4,1673.4 777.4,1675.1 775.3,1675.1 775.3,1676.7 773.2,1676.7 773.2,1678.3 773.2,1680 769,1680 769,1681.6 748,1681.6 748,1680 743.8,1680 743.8,1678.3 743.8,1676.7 741.7,1676.7 741.7,1675.1 741.7,1673.4 743.8,1673.4 743.8,1671.8 743.8,1670.2 748,1670.2 748,1668.5 756.4,1668.5 756.4,1666.9 752.2,1666.9 752.2,1665.3 752.2,1663.6 750.1,1663.6 750.1,1662 691.3,1662 691.3,1663.6 689.2,1663.6 689.2,1665.3 689.2,1666.9 685,1666.9 685,1668.5 682.9,1668.5 682.9,1670.2 680.9,1670.2 680.9,1671.8 680.9,1673.4 676.7,1673.4 676.7,1675.1 674.6,1675.1 674.6,1676.7 672.5,1676.7 672.5,1678.3 672.5,1680 668.3,1680 668.3,1681.6 666.2,1681.6 666.2,1683.2 664.1,1683.2 664.1,1684.9 664.1,1686.5 659.9,1686.5 659.9,1688.1 657.8,1688.1 657.8,1689.8 657.8,1691.4 657.8,1693 657.8,1694.7 668.3,1694.7 668.3,1696.3 672.5,1696.3 672.5,1697.9 672.5,1699.6 674.6,1699.6 674.6,1701.2 674.6,1702.8 672.5,1702.8 672.5,1704.5 672.5,1706.1 668.3,1706.1 668.3,1707.7 666.2,1707.7 666.2,1709.4 666.2,1711 666.2,1712.6 666.2,1714.3 666.2,1715.9 664.1,1715.9 664.1,1717.5 664.1,1719.2 659.9,1719.2 659.9,1720.8 649.4,1720.8 649.4,1722.4 647.3,1722.4 647.3,1724.1 647.3,1725.7 643.1,1725.7 643.1,1727.3 641,1727.3 641,1729 638.9,1729 638.9,1730.6 638.9,1732.2 634.7,1732.2 634.7,1733.9 626.3,1733.9 626.3,1735.5 630.5,1735.5 630.5,1737.1 630.5,1738.8 632.6,1738.8 632.6,1740.4 632.6,1742 632.6,1743.7 632.6,1745.3 632.6,1746.9 632.6,1748.6 630.5,1748.6 630.5,1750.2 630.5,1751.8 626.3,1751.8 626.3,1753.5 607.4,1753.5 607.4,1755.1ZM685,1797.6 685,1796 685,1794.3 682.9,1794.3 682.9,1792.7 672.5,1792.7 672.5,1791.1 668.3,1791.1 668.3,1789.4 668.3,1787.8 666.2,1787.8 666.2,1786.2 666.2,1784.5 666.2,1782.9 666.2,1781.2 666.2,1779.6 666.2,1778 666.2,1776.3 666.2,1774.7 666.2,1773.1 657.8,1773.1 657.8,1774.7 655.7,1774.7 655.7,1776.3 655.7,1778 651.5,1778 651.5,1779.6 630.5,1779.6 630.5,1778 626.3,1778 626.3,1776.3 626.3,1774.7 624.2,1774.7 624.2,1773.1 624.2,1771.4 624.2,1769.8 624.2,1768.2 624.2,1766.5 624.2,1764.9 626.3,1764.9 626.3,1763.3 626.3,1761.6 630.5,1761.6 630.5,1760 632.6,1760 632.6,1758.4 634.7,1758.4 634.7,1756.7 634.7,1755.1 638.9,1755.1 638.9,1753.5 641,1753.5 641,1751.8 643.1,1751.8 643.1,1750.2 643.1,1748.6 647.3,1748.6 647.3,1746.9 668.3,1746.9 668.3,1748.6 672.5,1748.6 672.5,1750.2 672.5,1751.8 676.7,1751.8 676.7,1750.2 676.7,1748.6 680.9,1748.6 680.9,1746.9 693.4,1746.9 693.4,1748.6 697.6,1748.6 697.6,1750.2 697.6,1751.8 699.7,1751.8 699.7,1753.5 699.7,1755.1 699.7,1756.7 699.7,1758.4 699.7,1760 701.8,1760 701.8,1761.6 706,1761.6 706,1763.3 706,1764.9 710.2,1764.9 710.2,1763.3 710.2,1761.6 714.4,1761.6 714.4,1760 718.6,1760 718.6,1761.6 722.8,1761.6 722.8,1763.3 722.8,1764.9 724.9,1764.9 724.9,1766.5 727,1766.5 727,1768.2 731.2,1768.2 731.2,1769.8 731.2,1771.4 733.3,1771.4 733.3,1773.1 752.2,1773.1 752.2,1774.7 756.4,1774.7 756.4,1776.3 756.4,1778 758.5,1778 758.5,1779.6 758.5,1781.2 758.5,1782.9 758.5,1784.5 758.5,1786.2 758.5,1787.8 756.4,1787.8 756.4,1789.4 756.4,1791.1 752.2,1791.1 752.2,1792.7 741.7,1792.7 741.7,1794.3 739.6,1794.3 739.6,1796 739.6,1797.6 735.4,1797.6 735.4,1799.2 722.8,1799.2 722.8,1797.6 718.6,1797.6 718.6,1796 718.6,1794.3 716.5,1794.3 716.5,1792.7 699.7,1792.7 699.7,1794.3 697.6,1794.3 697.6,1796 697.6,1797.6 693.4,1797.6 693.4,1799.2 689.2,1799.2 689.2,1797.6ZM727,1758.4 727,1756.7 727,1755.1 724.9,1755.1 724.9,1753.5 724.9,1751.8 724.9,1750.2 724.9,1748.6 724.9,1746.9 724.9,1745.3 727,1745.3 727,1743.7 727,1742 731.2,1742 731.2,1740.4 750.1,1740.4 750.1,1738.8 752.2,1738.8 752.2,1737.1 752.2,1735.5 756.4,1735.5 756.4,1733.9 760.6,1733.9 760.6,1735.5 764.8,1735.5 764.8,1737.1 764.8,1738.8 766.9,1738.8 766.9,1740.4 766.9,1742 766.9,1743.7 766.9,1745.3 766.9,1746.9 769,1746.9 769,1748.6 773.2,1748.6 773.2,1750.2 773.2,1751.8 775.3,1751.8 775.3,1753.5 775.3,1755.1 773.2,1755.1 773.2,1756.7 773.2,1758.4 769,1758.4 769,1760 731.2,1760 731.2,1758.4ZM685,1712.6 685,1711 685,1709.4 682.9,1709.4 682.9,1707.7 682.9,1706.1 682.9,1704.5 682.9,1702.8 682.9,1701.2 682.9,1699.6 685,1699.6 685,1697.9 685,1696.3 689.2,1696.3 689.2,1694.7 691.3,1694.7 691.3,1693 691.3,1691.4 691.3,1689.8 691.3,1688.1 691.3,1686.5 691.3,1684.9 691.3,1683.2 691.3,1681.6 691.3,1680 693.4,1680 693.4,1678.3 693.4,1676.7 697.6,1676.7 697.6,1675.1 701.8,1675.1 701.8,1676.7 706,1676.7 706,1678.3 706,1680 708.1,1680 708.1,1681.6 708.1,1683.2 708.1,1684.9 708.1,1686.5 708.1,1688.1 710.2,1688.1 710.2,1689.8 714.4,1689.8 714.4,1691.4 714.4,1693 716.5,1693 716.5,1694.7 716.5,1696.3 716.5,1697.9 716.5,1699.6 716.5,1701.2 716.5,1702.8 714.4,1702.8 714.4,1704.5 714.4,1706.1 710.2,1706.1 710.2,1707.7 708.1,1707.7 708.1,1709.4 706,1709.4 706,1711 706,1712.6 701.8,1712.6 701.8,1714.3 689.2,1714.3 689.2,1712.6ZM802.5,1778 802.5,1776.3 802.5,1774.7 800.4,1774.7 800.4,1773.1 798.3,1773.1 798.3,1771.4 794.1,1771.4 794.1,1769.8 794.1,1768.2 792,1768.2 792,1766.5 792,1764.9 792,1763.3 792,1761.6 792,1760 792,1758.4 792,1756.7 792,1755.1 792,1753.5 789.9,1753.5 789.9,1751.8 785.7,1751.8 785.7,1750.2 785.7,1748.6 783.6,1748.6 783.6,1746.9 783.6,1745.3 785.7,1745.3 785.7,1743.7 785.7,1742 789.9,1742 789.9,1740.4 792,1740.4 792,1738.8 794.1,1738.8 794.1,1737.1 794.1,1735.5 798.3,1735.5 798.3,1733.9 802.5,1733.9 802.5,1735.5 806.7,1735.5 806.7,1737.1 806.7,1738.8 808.8,1738.8 808.8,1740.4 808.8,1742 808.8,1743.7 808.8,1745.3 808.8,1746.9 808.8,1748.6 808.8,1750.2 808.8,1751.8 808.8,1753.5 810.9,1753.5 810.9,1755.1 815.1,1755.1 815.1,1756.7 815.1,1758.4 817.2,1758.4 817.2,1760 817.2,1761.6 817.2,1763.3 817.2,1764.9 817.2,1766.5 817.2,1768.2 817.2,1769.8 817.2,1771.4 817.2,1773.1 817.2,1774.7 815.1,1774.7 815.1,1776.3 815.1,1778 810.9,1778 810.9,1779.6 806.7,1779.6 806.7,1778ZM697.6,1631 697.6,1629.3 685,1629.3 685,1631 689.2,1631 689.2,1632.6 689.2,1634.2 693.4,1634.2 693.4,1632.6 693.4,1631ZM789.9,1961 785.7,1961 785.7,1962.6 783.6,1962.6 783.6,1964.2 783.6,1965.9 783.6,1967.5 783.6,1969.1 783.6,1970.8 783.6,1972.4 783.6,1974 783.6,1975.7 783.6,1977.3 783.6,1978.9 783.6,1980.6 783.6,1982.2 792,1982.2 792,1980.6 792,1978.9 792,1977.3 792,1975.7 792,1974 792,1972.4 792,1970.8 792,1969.1 792,1967.5 792,1965.9 792,1964.2 792,1962.6 792,1961 794.1,1961 794.1,1959.3 794.1,1957.7 798.3,1957.7 798.3,1956.1 800.4,1956.1 800.4,1954.4 800.4,1952.8 800.4,1951.1 798.3,1951.1 798.3,1952.8 798.3,1954.4 794.1,1954.4 794.1,1956.1 792,1956.1 792,1957.7 789.9,1957.7 789.9,1959.3ZM966.2,1894 966.2,1895.6 968.3,1895.6 968.3,1897.2 970.4,1897.2 970.4,1898.9 974.6,1898.9 974.6,1900.5 974.6,1902.1 976.7,1902.1 976.7,1900.5 976.7,1898.9 976.7,1897.2 976.7,1895.6 976.7,1894 976.7,1892.3 976.7,1890.7 976.7,1889.1 976.7,1887.4 976.7,1885.8 974.6,1885.8 974.6,1887.4 974.6,1889.1 970.4,1889.1 970.4,1890.7 966.2,1890.7 966.2,1889.1 962,1889.1 962,1887.4 962,1885.8 959.9,1885.8 959.9,1887.4 959.9,1889.1 959.9,1890.7 962,1890.7 962,1892.3 966.2,1892.3ZM1008.1,1892.3 1008.1,1894 1008.1,1895.6 1003.9,1895.6 1003.9,1897.2 1001.8,1897.2 1001.8,1898.9 1001.8,1900.5 1001.8,1902.1 1001.8,1903.8 1003.9,1903.8 1003.9,1905.4 1008.1,1905.4 1008.1,1907 1008.1,1908.7 1010.2,1908.7 1010.2,1910.3 1018.6,1910.3 1018.6,1908.7 1018.6,1907 1018.6,1905.4 1018.6,1903.8 1018.6,1902.1 1020.7,1902.1 1020.7,1900.5 1020.7,1898.9 1024.9,1898.9 1024.9,1897.2 1027,1897.2 1027,1895.6 1027,1894 1027,1892.3 1027,1890.7 1027,1889.1 1027,1887.4 1027,1885.8 1027,1884.2 1018.6,1884.2 1018.6,1885.8 1016.5,1885.8 1016.5,1887.4 1016.5,1889.1 1012.3,1889.1 1012.3,1890.7 1010.2,1890.7 1010.2,1892.3ZM985,1913.6 985,1911.9 985,1910.3 983,1910.3 983,1908.7 978.8,1908.7 978.8,1907 978.8,1905.4 976.7,1905.4 976.7,1907 976.7,1908.7 976.7,1910.3 978.8,1910.3 978.8,1911.9 983,1911.9 983,1913.6 983,1915.2 985,1915.2ZM1085.8,1946.2 1085.8,1944.6 1085.8,1943 1077.4,1943 1077.4,1944.6 1075.3,1944.6 1075.3,1946.2 1075.3,1947.9 1071.1,1947.9 1071.1,1949.5 1069,1949.5 1069,1951.1 1066.9,1951.1 1066.9,1952.8 1066.9,1954.4 1062.7,1954.4 1062.7,1956.1 1052.2,1956.1 1052.2,1957.7 1050.1,1957.7 1050.1,1959.3 1050.1,1961 1045.9,1961 1045.9,1962.6 1043.8,1962.6 1043.8,1964.2 1041.7,1964.2 1041.7,1965.9 1041.7,1967.5 1037.5,1967.5 1037.5,1969.1 1035.4,1969.1 1035.4,1970.8 1033.3,1970.8 1033.3,1972.4 1033.3,1974 1029.1,1974 1029.1,1975.7 1018.6,1975.7 1018.6,1977.3 1018.6,1978.9 1018.6,1980.6 1018.6,1982.2 1018.6,1983.8 1018.6,1985.5 1018.6,1987.1 1018.6,1988.7 1018.6,1990.4 1018.6,1992 1018.6,1993.6 1018.6,1995.3 1018.6,1996.9 1018.6,1998.5 1018.6,2000.2 1018.6,2001.8 1020.7,2001.8 1020.7,2003.4 1024.9,2003.4 1024.9,2005.1 1024.9,2006.7 1027,2006.7 1027,2008.3 1027,2010 1027,2011.6 1027,2013.2 1027,2014.9 1043.8,2014.9 1043.8,2013.2 1045.9,2013.2 1045.9,2011.6 1045.9,2010 1050.1,2010 1050.1,2008.3 1079.5,2008.3 1079.5,2010 1083.7,2010 1083.7,2011.6 1083.7,2013.2 1085.8,2013.2 1085.8,2014.9 1096.2,2014.9 1096.2,2016.5 1100.4,2016.5 1100.4,2018.1 1100.4,2019.8 1102.5,2019.8 1102.5,2021.4 1102.5,2023 1102.5,2024.7 1102.5,2026.3 1102.5,2027.9 1136.1,2027.9 1136.1,2026.3 1136.1,2024.7 1136.1,2023 1136.1,2021.4 1136.1,2019.8 1136.1,2018.1 1136.1,2016.5 1136.1,2014.9 1136.1,2013.2 1138.2,2013.2 1138.2,2011.6 1138.2,2010 1142.4,2010 1142.4,2008.3 1144.5,2008.3 1144.5,2006.7 1144.5,2005.1 1144.5,2003.4 1144.5,2001.8 1144.5,2000.2 1144.5,1998.5 1144.5,1996.9 1144.5,1995.3 1144.5,1993.6 1144.5,1992 1144.5,1990.4 1144.5,1988.7 1142.4,1988.7 1142.4,1987.1 1138.2,1987.1 1138.2,1985.5 1138.2,1983.8 1136.1,1983.8 1136.1,1982.2 1134,1982.2 1134,1980.6 1129.8,1980.6 1129.8,1978.9 1129.8,1977.3 1127.7,1977.3 1127.7,1975.7 1127.7,1974 1127.7,1972.4 1127.7,1970.8 1127.7,1969.1 1125.6,1969.1 1125.6,1967.5 1121.4,1967.5 1121.4,1965.9 1121.4,1964.2 1119.3,1964.2 1119.3,1962.6 1119.3,1961 1119.3,1959.3 1119.3,1957.7 1119.3,1956.1 1117.2,1956.1 1117.2,1954.4 1113,1954.4 1113,1952.8 1113,1951.1 1110.9,1951.1 1110.9,1952.8 1110.9,1954.4 1110.9,1956.1 1110.9,1957.7 1108.8,1957.7 1108.8,1959.3 1108.8,1961 1104.6,1961 1104.6,1962.6 1100.4,1962.6 1100.4,1961 1096.2,1961 1096.2,1959.3 1096.2,1957.7 1094.1,1957.7 1094.1,1956.1 1092,1956.1 1092,1954.4 1087.8,1954.4 1087.8,1952.8 1087.8,1951.1 1085.8,1951.1 1085.8,1949.5 1085.8,1947.9ZM1161.3,1709.4 1161.3,1711 1161.3,1712.6 1161.3,1714.3 1161.3,1715.9 1161.3,1717.5 1161.3,1719.2 1163.4,1719.2 1163.4,1717.5 1163.4,1715.9 1167.6,1715.9 1167.6,1714.3 1169.7,1714.3 1169.7,1712.6 1169.7,1711 1169.7,1709.4 1169.7,1707.7 1169.7,1706.1 1171.8,1706.1 1171.8,1704.5 1171.8,1702.8 1176,1702.8 1176,1701.2 1178.1,1701.2 1178.1,1699.6 1178.1,1697.9 1178.1,1696.3 1176,1696.3 1176,1697.9 1176,1699.6 1171.8,1699.6 1171.8,1701.2 1161.3,1701.2 1161.3,1702.8 1161.3,1704.5 1161.3,1706.1 1161.3,1707.7ZM1087.8,1778 1087.8,1779.6 1094.1,1779.6 1094.1,1778 1096.2,1778 1096.2,1776.3 1096.2,1774.7 1100.4,1774.7 1100.4,1773.1 1102.5,1773.1 1102.5,1771.4 1102.5,1769.8 1102.5,1768.2 1100.4,1768.2 1100.4,1769.8 1100.4,1771.4 1096.2,1771.4 1096.2,1773.1 1094.1,1773.1 1094.1,1774.7 1092,1774.7 1092,1776.3 1092,1778ZM1077.4,1782.9 1077.4,1784.5 1079.5,1784.5 1079.5,1782.9 1079.5,1781.2 1083.7,1781.2 1083.7,1779.6 1077.4,1779.6 1077.4,1781.2ZM1077.4,1907 1077.4,1908.7 1077.4,1910.3 1083.7,1910.3 1083.7,1908.7 1079.5,1908.7 1079.5,1907 1079.5,1905.4 1077.4,1905.4ZM1100.4,1918.5 1100.4,1920.1 1100.4,1921.7 1102.5,1921.7 1102.5,1923.4 1102.5,1925 1102.5,1926.6 1102.5,1928.3 1102.5,1929.9 1110.9,1929.9 1110.9,1928.3 1113,1928.3 1113,1926.6 1113,1925 1117.2,1925 1117.2,1923.4 1121.4,1923.4 1121.4,1925 1125.6,1925 1125.6,1926.6 1125.6,1928.3 1127.7,1928.3 1127.7,1926.6 1127.7,1925 1127.7,1923.4 1125.6,1923.4 1125.6,1921.7 1121.4,1921.7 1121.4,1920.1 1121.4,1918.5 1119.3,1918.5 1119.3,1916.8 1108.8,1916.8 1108.8,1915.2 1104.6,1915.2 1104.6,1913.6 1104.6,1911.9 1102.5,1911.9 1102.5,1910.3 1087.8,1910.3 1087.8,1911.9 1092,1911.9 1092,1913.6 1092,1915.2 1094.1,1915.2 1094.1,1916.8 1096.2,1916.8 1096.2,1918.5ZM1222.1,2039.4 1222.1,2037.7 1222.1,2036.1 1226.3,2036.1 1226.3,2034.5 1226.3,2032.8 1222.1,2032.8 1222.1,2031.2 1222.1,2029.6 1220,2029.6 1220,2031.2 1220,2032.8 1220,2034.5 1220,2036.1 1220,2037.7 1220,2039.4Z"/></clipPath>
<clipPath id="mf"><use href="#mpe" transform="translate(1259.3,1589.4) scale(0.99992,1.00177) translate(-28.4,-1590.1)"/></clipPath>
<path id="coast" d="M40.3,84.2 44.3,74.9 55.4,72.4 60.4,68 78.5,64.5 94,66.2 107.4,67.6 124.2,68.6 130.9,70.4 146,72.8 154.4,70.7 171.2,69 177.9,68 186.3,69 196.4,69.7 211.5,72.4 218.2,76.2 235,76.2 241.7,74.2 250.1,73.8 263.5,76.6 275.2,74.9 280.3,75.2 283.6,71.4 280.3,67.3 283.6,62.8 287,62.1 293.7,66.2 297.1,70.4 300.4,73.8 307.1,73.1 310.5,77.6 313.8,75.9 317.2,70 327.3,70 331.3,74.2 327.9,79.3 322.9,81.8 315.5,81.1 311.2,84.5 309.5,88 302.1,89.7 298.7,91.4 293.7,94.9 288.7,100 286.3,106.9 292,108 293.7,113.1 302.1,113.8 308.8,115.6 318.9,119.7 327.9,120.4 329,127.6 332.3,131.1 337.3,133.8 339.7,129.4 338.4,122.5 345.7,117.3 347.4,112.1 342.4,106.9 344.1,100 342.4,95.2 355.8,95.5 364.2,99 369.2,100 370.9,106.9 374.3,109.3 382.7,107.6 386.7,102.4 396.1,110.4 399.4,117.3 406.2,121.4 412.9,125.9 417.2,131.1 407.8,133.5 402.8,137.3 389.4,136.9 381,137.3 374.3,141.4 367.6,147.3 365.9,148.7 370.9,146.3 375.9,142.5 386,140.7 388.4,141.8 384.3,145.6 386.7,150.1 390,151.8 397.8,152.5 401.8,148.3 402.8,152.1 397.8,154.5 391.1,156.6 384.3,160.1 382,158.7 386.7,153.8 382.7,154.9 379.3,155.9 372.6,158.7 367.6,161.1 366.5,163.8 369.2,166.3 364.2,167.6 356.5,169.7 355.8,173.2 352.5,176.6 350.4,180.1 349.1,182.8 350.4,188.3 345.7,191.1 342.4,193.5 337.3,196.6 332.3,200.8 331,205.2 334,212.5 335.7,218 334.7,223.2 331.6,223.5 329,219 326.3,214.6 326.3,210.4 322.9,207 318.9,208 313.8,205.6 308.8,205.9 303.8,206.3 304.8,210.1 300.4,209.7 295.4,208.3 288.7,208.3 284.6,210.4 278.6,214.6 277.6,220.8 276.3,227.7 275.9,233.5 277.9,239.4 281,243.9 285.3,246.3 288.7,247.7 293.7,246.3 298.7,245.6 300.4,241.5 301.1,238 307.1,236.3 312.2,236.3 312.8,238.7 310.5,243.2 309.5,247.3 308.1,250.1 306.8,255.3 308.8,255.9 315.5,255.6 321.2,255.9 324.9,258.7 323.9,265.6 323.2,270.8 323.9,274.2 327.3,278.4 332.3,280.1 336.7,277.7 340.7,278 344.7,280.8 342.7,285.6 341,281.8 337.3,279.7 334.7,282.2 335,284.9 330.6,283.9 326.3,282.2 323.2,280.4 318.9,276.6 316.2,274.2 316.2,271.8 311.2,266.3 309.8,264.6 303.8,263.9 297.7,262.5 294.4,260.1 288.7,254.9 285.3,254.9 280.3,256.3 273.6,254.2 268.5,251.8 262.5,248.7 256.8,247 251.8,243.2 249.7,239.7 250.7,236.3 248.4,231.1 243.4,225.9 238.3,222.1 235.6,217.3 231.6,213.9 227.6,210.4 224.9,203.5 219.2,201.1 219.2,205.2 223.2,210.4 226.6,215.6 230.9,220.8 233.3,225.9 236.6,230.4 235,231.5 233.3,229.4 228.3,225.6 227.6,220.8 223.2,218 219.9,214.9 221.5,212.1 218.2,208.7 215.5,205.2 212.1,200.1 210.8,197.7 206.8,193.9 203.1,192.1 199.4,191.4 198,188 194.7,183.5 193,180.1 188.6,174.2 187,171.1 187.3,165.6 186.3,162.1 188,155.2 188,150.7 185.6,143.5 193,143.8 191.3,141.4 186.3,138 181.3,135.2 176.2,132.8 172.9,127.6 167.8,122.5 166.2,119 161.1,115.6 156.1,111.1 149.4,108.7 144.3,107.6 135.9,104.2 127.6,103.5 119.2,102.8 112.4,100.7 105.7,101.8 102.4,104.2 95.7,105.9 95.7,101.1 100.7,99.3 94,100.7 89,105.2 85.6,108.7 78.9,112.8 72.2,116.2 65.5,119 58.7,120.7 52,122.1 60.4,118 67.1,115.6 73.8,111.1 76.5,108 72.2,107.6 67.1,107.6 60.4,107.6 60.4,103.5 52,101.8 48.7,98.3 47,95.9 51,93.1 57.1,92.1 63.8,91.4 63.8,88 57.1,88 50.4,88 45.3,86.9 40.3,84.2ZM344.7,280.8 346.4,280.4 349.8,277.7 350.8,273.9 353.1,272.2 358.2,271.5 361.8,269.1 364.9,267.7 364.2,272.5 365.9,271.5 369.2,268.7 373.3,271.1 375.9,273.9 382.7,273.9 387.7,275.3 393.4,273.5 396.4,273.5 394.4,276 399.4,278.7 400.1,281.1 403.5,282.2 407.8,286.3 412.2,289.8 418.9,290.1 422.9,290.8 427,292.5 431,295.6 433,300.1 436.4,304.6 436.4,308.7 434.7,310.4 441.4,311.5 443.1,312.9 448.1,313.9 454.8,318 458.9,318.7 464.9,320.5 469.9,320.5 475,323.2 479,326.7 485,328.4 487.1,334.6 487.1,338.7 484,344.3 480,348.4 475,355.3 473.3,362.2 473,370.8 470.6,377.7 467.2,384.6 463.2,389.4 459.2,389.8 453.8,391.2 448.8,393.2 443.1,397.7 441.1,403.6 440.4,408.8 436.4,413.9 431.3,419.1 428,424.3 424.3,428.4 419.9,430.8 414.5,430.5 408.2,428.1 412.2,432.9 412.9,436.4 410.9,441.5 404.5,444.3 396.1,445 395.1,450.2 386,451.9 386,456.4 390.4,457.1 385.3,460.5 384.3,465.7 377.6,468.4 383.3,473.3 377.6,479.5 374.3,484 371.9,488.4 374.6,491.2 366.5,492.6 365.9,496 360.8,494.3 357.5,491.5 353.1,488.1 351.4,482.9 350.8,477.7 354.1,472.6 350.4,470.8 355.1,465.7 357.5,461.5 359.8,455.3 356.5,453.6 356.8,447.7 357.5,441.5 358.5,438.1 360.2,432.9 363.2,426 364.2,419.1 364.5,413.9 365.2,407 366.9,400.1 367.6,393.2 368.6,386.3 368.6,379.4 367.9,373.9 364.2,370.1 357.5,366.7 350.8,362.2 348.1,358.1 345.1,351.8 341.4,344.9 339,338.7 336,333.9 331.6,331.1 331.3,326 334.7,322.2 336,319.1 332.3,318 333,313.9 335.3,309.8 335.7,307.3 339.7,305.3 340.7,301.5 344.1,298.4 345.1,294.9 344.1,290.4 344.1,287 342.7,285.6ZM373.9,491.9 374.9,495 381,498.4 385.3,499.1 381,500.5 374.3,501.9 369.2,501.2 362.5,498.4 365.9,496.7 367.6,495.3 368.6,492.6ZM585.4,186.3 582.7,183.5 579.4,182.1 574.3,182.8 574.7,177.6 572.3,176.6 574.3,171.8 575,166.3 573,162.1 577.3,159.7 584.7,160.1 591.4,160.4 598.2,160.7 600.2,156.6 600.5,151.8 596.8,147.6 590.1,145.6 588.4,143.5 594.1,142.1 598.8,142.5 598.2,139 600.5,140 604.9,139.7 609.6,137.3 609.6,134.9 614.9,133.1 618.6,131.1 620.3,127.6 624.3,125.9 628.4,125.2 633.1,124.5 633.4,121.1 631.7,118.7 631.4,113.8 636.1,113.1 639.8,111.4 638.8,115.2 640.8,116.2 637.8,119 636.4,120.7 637.8,122.5 641.1,124.2 646.2,122.8 651.9,124.5 658.6,123.1 666.3,121.4 670,122.8 674.7,120 675,114.5 680.1,111.8 682.1,113.8 685.8,113.1 685.8,109.3 683.1,108 683.1,106.2 689.8,104.9 698.2,104.9 705.6,103.8 699.9,101.8 691.5,102.1 681.4,103.8 676.4,101.8 675.7,97.3 676.4,93.1 686.4,86.9 689.1,84.5 684.8,83.5 678.7,84.2 675.7,88 668,92.4 662.6,97.6 661.9,101.4 667.3,104.2 664.6,107.3 659.9,111.1 659.6,116.2 652.5,119 647.5,119.4 646.2,116.2 642.1,108.7 639.8,105.6 639.4,103.8 636.1,106.9 631.1,110 626.4,110 622.7,106.9 621,101.8 621,96.6 627.7,93.5 632.7,91.4 639.4,88 644.5,84.5 647.8,79.3 653.9,75.2 659.6,73.1 666.3,69.7 676.4,68.3 684.8,65.5 691.5,65.5 699.9,65.5 708.3,67.6 704.9,70 715,71.1 725,72.1 740.1,76.2 742.5,80 733.4,82.4 721.7,81.1 716.6,79.3 713.3,80 721,84.5 721,88.3 730.1,89.7 737.8,87.6 740.1,84.5 745.2,81.4 751.9,82.1 752.9,77.6 751.2,74.2 758.6,75.2 760.3,79.7 765.3,77.3 772,75.5 782.1,73.8 787.1,74.9 795.5,73.8 803.9,74.5 808.3,72.4 806.3,69.7 820.7,71.4 828.4,71.4 834.1,74.9 835.8,71.7 828.4,67.3 829.1,63.8 834.1,59.3 839.2,57.6 847.6,59.3 848.6,63.8 845.9,67.3 847.9,72.4 850.9,74.2 850.9,79.3 845.9,81.8 852.6,80 854.3,74.2 857.6,70.7 852.6,65.5 854.3,60.4 862.7,62.1 866,63.8 874.4,59.3 874.4,56.9 886.2,56.2 894.6,55.5 896.2,52.4 906.3,50 923.1,48.3 939.9,46.6 954.3,42.4 963.4,45.2 980.1,46.6 985.2,50 973.4,54.5 981.8,55.9 1000.3,56.9 1017.1,58.6 1028.8,56.9 1030.5,57.6 1038.9,59.3 1037.2,64.8 1043.9,66.2 1050.6,63.8 1064.1,64.2 1072.5,60.7 1077.5,59.3 1094.3,60.7 1107.7,63.8 1114.4,65.9 1131.2,65.5 1141.3,68.3 1142.9,70.4 1154.7,70 1168.1,69.7 1176.5,68.6 1178.2,72.4 1195,69.7 1201.7,71.1 1208.4,72.8 1208.4,85.9 1203.4,87.6 1200,86.9 1206.1,95.5 1191.6,97.3 1181.5,100.4 1175.8,103.5 1164.8,102.4 1156.4,103.8 1152.3,108.7 1151.3,111.1 1149.7,116.6 1147.3,120.7 1141.3,126.9 1136.2,128 1135.2,131.8 1130.2,134.5 1127.8,128.3 1126.5,120.7 1127.2,114.5 1131.2,111.1 1140.6,105.9 1147.6,102.1 1153.7,97.6 1154.7,94.9 1152,94.9 1142.9,97.3 1140.6,100.7 1131.2,97.6 1124.5,104.5 1116.1,106.9 1112.1,107.3 1106,104.5 1093.6,105.6 1084.2,105.9 1076.5,109 1067.4,114.5 1058,121.8 1065.1,125.6 1069.8,124.5 1075.8,126.9 1078.8,130.4 1075.8,136.3 1075.5,143.2 1069.1,150.1 1062.4,155.9 1057.4,160.4 1051.3,162.8 1046.9,161.1 1042.9,164.5 1039.6,167.6 1039.6,169.7 1032.5,173.2 1031.8,175.2 1035.2,177.3 1038.6,182.8 1038.6,188 1035.9,190.1 1028.8,191.8 1028.5,187.6 1029.2,182.8 1024.5,180.1 1023.8,177.3 1025.1,174.2 1021.4,172.8 1015.4,174.5 1011,176.6 1013,171.8 1010.4,169.4 1004.7,173.5 999.3,175.9 999.3,178.3 1003.3,181.4 1009.7,180.1 1015.4,181.4 1015.1,183.2 1009.3,185.6 1004.7,189.4 1008,192.8 1010,197.3 1013,200.8 1013.4,203.9 1008.7,205.6 1013.7,207.3 1012.4,212.8 1008.7,217 1005.7,221.8 1000.6,225.9 996.3,230.1 987.9,233.2 985.2,233.9 979.5,235.9 974.8,237 974.1,240.1 972.4,236.3 967.7,235.9 962.4,239 959.3,244.2 962,249.7 967.4,254.9 970.7,261.5 971.1,268.4 969.7,271.5 964,274.6 962,277.7 957.7,280.4 956.3,276.6 954.6,274.6 951.6,273.9 949.3,270.1 947.3,268 942.9,266.6 942.9,264.2 940.2,264.2 939.5,268.4 937.5,273.2 937.2,278.4 939.9,281.1 941.2,285.6 945.2,287 947.6,289.1 951.3,293.9 951.3,298.4 953,302.5 954,305.6 951.6,306 947.3,302.9 944.2,300.4 941.9,296.3 940.9,291.5 940.5,287.7 938.5,286 935.2,282.2 934.2,279.4 935.2,274.6 935.5,269.1 933.8,262.8 932.1,258.4 931.8,253.5 929.1,252.2 924.4,255.9 920.7,254.9 921.4,249.7 919.1,244.2 914,238.7 912.3,233.5 908.3,232.5 907.3,234.9 903.3,235.3 899.9,235.3 896.2,237 895.6,240.4 890.5,242.8 886.5,247 880.5,252.5 876.8,255.3 873.4,258 873.1,263.9 872.4,269.1 872.1,274.6 869.4,278 866.7,279.7 864.3,282.5 861,279.4 860,275.3 857.6,269.7 855.3,265.6 853.9,260.4 851.6,255.3 849.9,250.1 848.6,244.9 848.6,239.7 847.9,237 846.9,238 842.5,238.7 839.2,237 835.8,233.5 839.8,231.5 835.5,230.1 833.1,228.7 830.1,225.9 827.8,223.2 820.7,223.2 811,223.5 802.2,222.8 796.5,221.5 794.9,217.3 787.8,218.7 783.8,218 780.4,215.2 777.1,214.2 774.7,210.4 772.7,207 768.3,205.6 765.3,207.3 766,211.5 768,214.9 771,218 772.7,220.1 774.4,224.2 776.1,225.6 776.7,220.4 777.4,224.2 777.4,227 782.1,227 787.1,226.6 791.5,222.1 793.2,220.1 793.9,224.9 797.2,228.4 801.6,229.4 804.9,232.8 801.2,239.7 798.2,244.9 793.9,248.4 789.5,250.1 785.5,251.8 779.4,254.6 772,258.7 765.3,262.2 755.9,265.6 750.2,266.6 749.2,263.9 747.9,258.7 747.5,253.5 743.5,248.4 740.1,242.5 735.8,237 733.4,229.4 729.1,224.2 725,218 721.7,213.5 721.3,208.7 719.7,213.9 719,214.6 716,211.1 713.6,207.3 712.6,202.8 719,202.5 721.3,198.3 723.4,193.9 724.7,188 725.4,184.2 720.3,183.5 716.6,185.9 711.6,185.9 706.9,183.5 702.6,185.6 698.2,183.9 695.8,182.1 692.8,178.3 694.2,174.9 692.1,172.8 694.2,171.1 701.5,171.1 702.2,168.7 709.9,168.3 716.6,165.6 722.4,165.6 726.7,168 733.4,169.4 740.1,169 743.8,167 743.2,163.2 737.8,160.4 731.8,156.9 729.4,154.2 732.4,151.1 735.8,147.6 730.1,148.3 722.4,150.7 721.7,153.2 726.7,154.5 722.4,155.9 716.6,156.9 713.6,153.8 717.3,151.4 711.6,150.7 707.6,150.1 703.9,154.2 700.5,158.7 697.9,162.8 698.2,165.9 701.5,168.3 696.5,169.7 692.1,171.4 691.5,169.7 685.8,169.7 684.1,172.5 680.7,171.1 681.1,174.5 684.8,178.7 682.1,180.1 681.4,184.5 679.4,184.5 677,183.2 675.4,180.1 675.7,177.6 673,174.2 669.7,171.1 669.7,167 666.3,163.8 659.6,160.4 655.2,157.6 652.9,154.2 649.9,155.2 650.2,152.8 645.5,154.2 645.8,158 649.9,160.4 653.9,164.9 658.2,165.9 657.9,167.6 666,172.1 665.6,173.2 661.3,170.7 659.6,173.5 661.6,175.9 659.6,178 656.9,179.7 657.2,176.3 657.9,174.2 655.9,172.1 652.9,170.1 647.8,168.3 645.2,166.3 641.1,163.8 638.8,160.4 637.1,158.3 633.7,157.3 629.4,159.4 625,161.8 620.3,160.7 615.9,161.1 614.3,163.8 614.9,165.9 611.6,167.6 606.9,169.7 603.2,174.2 604.9,176.6 601.9,180.4 597.8,183.2 592.5,183.9 589.1,184.2ZM0,72.8 10.1,74.9 20.1,78.6 28.5,80 34.2,82.4 26.9,85.2 25.2,88.3 16.8,86.9 11.7,84.5 5,84.2 1.7,85.5 0,85.9ZM584.4,187 586.4,186.6 594.1,188.7 597.5,189.4 604.2,186.6 609.2,184.5 614.3,183.5 621,183.5 629.4,182.8 637.1,181.8 641.1,182.8 639.4,185.6 640.5,188.7 638.4,192.1 640.8,194.2 642.8,195.9 648.5,197 655.6,199 657.2,202.5 662.9,203.9 668.6,205.9 671.3,203.5 671.7,199 676.4,197 682.1,198.7 688.1,201.1 695.8,202.5 701.5,203.9 705.6,202.5 708.3,201.4 712.6,202.8 713.6,207.3 714,211.1 717,215.2 719.3,220.8 722.7,227 724,231.1 728.1,234.6 729.1,238.7 729.4,244.2 733.4,248.4 736.5,255.9 741.2,259.4 746.5,264.9 749.5,268 749.5,270.8 753.6,274.6 760.3,273.2 768,271.5 776.1,269.4 775.7,274.2 773,281.1 768.7,288 765.3,294.6 759.6,301.8 753.9,306.3 747.2,311.8 743.8,316.7 739.8,319.8 737.5,324.9 734.8,331.1 736.8,334.6 736.5,339.8 738.5,345.6 740.5,350.1 740.8,360.5 739.1,365.6 733.4,370.1 727.7,373.6 722.4,379.1 721,382.2 723.4,387.4 723.4,393.2 716.6,397.7 714,400.1 714.6,405.3 713,409.1 708.9,413.6 704.9,418.8 699.9,423.6 694.8,426.7 690.1,427.7 683.1,428.1 678,428.4 671.3,430.5 667.3,428.8 666,427.4 664.6,423.2 665.6,419.1 662.3,413.9 659.6,409.1 655.6,402.9 654.2,396.7 652.9,389.8 650.9,383.6 647.2,376 643.8,370.8 643.8,365.6 646.2,358.1 650.5,351.8 650.5,346.7 647.8,341.5 648.8,338 645.5,331.5 643.8,326.7 641.1,323.2 637.1,319.4 634.4,313.9 635.4,310.4 636.4,306.3 637.1,301.8 636.8,297.3 633.7,294.9 627.7,295.3 624.3,295.6 621,290.8 617.6,288.4 612.6,288.7 608.2,289.4 604.2,290.8 598.2,293.9 593.5,292.9 587.4,292.5 579,295.3 574,292.2 567.9,288.4 562.2,284.6 559.6,279.4 555.5,274.2 553.2,271.8 548.1,267.7 547.8,263.9 545.5,259.7 548.8,255.3 549.5,248.4 549.8,243.2 547.1,238 549.5,232.8 550.5,228.4 554.2,224.9 555.9,220.1 560.6,214.9 566.6,211.1 570.6,208 571.6,204.2 572.3,200.1 575.7,195.6 580.7,193.2 583.4,189ZM1082.5,347.4 1085.9,354.6 1086.2,359.4 1091.9,362.2 1093.6,368.7 1095.3,375.6 1102.7,380.1 1106,386.3 1110.4,390.5 1116.1,396 1118.4,400.1 1119.4,407.7 1117.8,415.7 1116.1,422.6 1112.1,427.4 1108.4,434.6 1107.7,439.8 1101,441.2 1095.3,445.3 1089.9,442.6 1085.9,444.3 1077.5,442.2 1073.5,438.1 1072.5,433.9 1068.1,432.9 1069.1,429.5 1066.7,426 1065.7,431.2 1063.7,431.9 1067.1,423.2 1060.7,430.1 1059,430.5 1054.7,424.3 1052.3,421.2 1043.9,419.1 1037.2,419.8 1027.1,421.9 1020.4,424.3 1018.7,427.4 1012,427.4 1005.3,429.1 1000.3,431.2 993.6,430.8 990.2,428.8 992.2,425.3 992.6,419.8 990.2,413.9 988.9,408.8 986.2,401.9 984.8,395 986.2,388.1 987.2,385.6 993.6,382.5 998.6,381.5 1003.6,379.4 1010.4,378.1 1014.4,373.2 1016.4,368.4 1020.4,366.7 1023.8,362.2 1028.8,358.7 1033.2,360.5 1035.5,362.2 1038.9,361.5 1040.6,356.3 1043.3,353.2 1049,350.1 1052.3,351.2 1058,352.5 1063.4,352.5 1062.4,357 1060.4,362.2 1065.7,365.6 1071.4,370.8 1075.8,371.2 1078.5,365.6 1079.5,358.7 1080.2,353.6 1081.5,348.4ZM359.2,39.7 382.7,34.5 402.8,27.6 436.4,25.9 469.9,23.1 503.5,22.4 530.4,25.9 543.8,29.3 563.9,29.3 547.1,34.5 540.4,39.7 542.1,45.5 537.1,51.7 532,58.6 528.7,62.1 530.4,67.3 520.3,70.7 511.9,74.2 496.8,75.9 490.1,81.1 480,83.5 469.9,86.2 466.6,91.4 461.5,98.3 458.2,103.5 451.5,102.4 443.1,100 438,94.9 433,89.7 428,84.5 424.6,79.3 426.3,74.2 433,70.7 421.3,68.3 421.3,63.8 416.2,58.6 411.2,52.4 402.8,49 392.7,47.6 379.3,48.3 369.2,45.5 365.9,43.1ZM386,96.9 382.7,96.6 374.3,94.9 365.9,91.4 360.8,89.7 352.5,88.3 344.1,88.7 342.4,86.2 355.8,84.5 357.5,79.3 360.8,76.6 355.8,74.2 349.1,72.4 340.7,69 337.3,69.7 329,69 320.6,69 315.5,65.5 303.8,63.8 302.1,58.6 305.5,56.2 318.9,55.9 332.3,56.2 334,59.7 342.4,59 349.1,59.3 355.8,62.8 364.2,65.5 374.3,68 377.6,72.4 381,75.9 396.1,79.3 398.4,80.7 392.7,84.5 387.7,83.5 379.3,82.8 375.9,81.1 386,88 386.7,91.4 382.7,93.1 375.9,90.4ZM211.5,67.3 209.8,60.4 221.5,58.6 238.3,59.3 250.1,58 251.8,63.8 261.8,67.3 263.5,70.7 251.8,72.8 238.3,73.5 223.2,71.7 213.1,70.7ZM184.6,62.1 189.7,55.2 198,53.5 214.8,56.9 204.8,62.1 198,64.8 189.7,64.5ZM302.1,46.6 312.2,41.4 298.7,32.8 318.9,27.6 352.5,24.1 386,24.8 396.1,28.3 375.9,32.8 362.5,37.9 349.1,41.4 339,46.6 318.9,47.3ZM295.4,46.6 297.1,52.8 315.5,53.5 335.7,53.1 337.3,50 322.2,48.3 305.5,46.6ZM282,34.5 292,31 308.8,34.5 312.2,38.6 295.4,40.4ZM211.5,51.1 224.9,47.3 241.7,46.6 250.1,50 241.7,52.1 228.3,53.5ZM261.8,56.9 278.6,55.2 290.4,55.2 292,60.4 282,62.8 271.9,63.8 261.8,60.4ZM255.1,46.6 268.5,45.9 276.9,50 268.5,51.7 258.5,50ZM315.5,83.5 322.2,82.8 332.3,88 334,90.4 325.6,91.4 317.2,92.1 312.2,89.7ZM405.1,145.9 409.5,139.7 413.5,133.5 417.9,132.8 417.2,138 424.6,139.7 427,144.9 426.3,149.4 419.6,148.3 416.2,146.6ZM173.5,135.2 182.9,137.3 189.7,142.8 189.7,143.8 182.9,142.1 175.2,138ZM157.8,124.2 161.8,124.2 163.8,130 160.4,128.3ZM85.6,112.1 92.3,109.7 93,112.8 87.3,114.5ZM27.9,91.1 37.6,92.1 33.6,93.1ZM387.7,138.7 396.8,140.7 392.7,140.7ZM318.9,234.9 325.6,231.1 334,230.8 344.1,235.3 350.8,238.7 355.1,240.8 352.5,241.8 343.4,241.8 340.7,238 334,235.3 329,233.2 322.2,235.3ZM354.1,247 358.5,241.8 365.9,241.8 370.9,243.5 374.6,246.3 369.2,247.3 364.2,249.4 359.2,247.7ZM341.4,247 348.1,248 345.7,249 341.4,248ZM378.6,246.6 383.7,247.3 382.7,248.7 378.6,248.4ZM522.6,84.2 530.4,81.4 543.8,82.1 553.9,81.8 558.5,86.2 553.9,88.7 542.1,91.8 533.7,90.4 528,89.7 530.4,86.9 523.6,86.6 530.4,84.9ZM585.1,137.6 592.5,136.9 599.2,135.6 607.6,134.9 608.9,133.8 606.9,132.8 609.9,129 605.2,127.6 604.2,125.2 600.2,122.1 598.8,119 594.1,117.3 597.5,112.1 590.8,111.8 593.5,108.3 587.4,108.3 584.7,112.1 585.7,116.2 587.4,119 588.1,121.4 593.5,121.1 594.1,124.5 593.8,126.6 589.1,126.6 589.8,129 586.7,131.8 592.5,132.8 594.1,133.8 589.1,134.5ZM570.6,132.5 577.3,132.1 583.1,130.4 584.1,125.9 585.4,122.1 582.4,120 576.7,120 575.7,123.1 570.6,123.5 572.3,126.9 570,130.4ZM640.5,35.9 657.9,34.5 671.3,33.5 694.8,33.8 684.8,37.3 674.7,39.3 676.4,42.1 661.3,46.2 651.2,43.1 642.8,39.7ZM777.1,63.8 782.1,60.4 790.5,55.2 797.2,50.7 809,47.6 825.7,45.2 835.8,45.9 825.7,49 807.3,51.7 798.9,55.9 793.9,60.4 797.2,65.5 788.8,66.6 782.1,65.9ZM923.1,37.9 929.8,32.8 939.9,30.4 956.6,36.2 956.6,40.4 939.9,41.4ZM1064.1,50 1074.1,48.3 1090.9,49 1107.7,51.1 1097.6,52.4 1080.8,52.1ZM1074.1,56.9 1084.2,55.9 1084.2,58 1074.1,57.6ZM762,33.5 778.7,31.4 798.9,29.7 815.7,31 805.6,33.5 785.5,33.8ZM1203.4,65.2 1208.4,63.8 1208.4,65.5 1205,65.9ZM0,63.8 8.4,64.8 6.7,65.9 0,65.5ZM1080.8,123.1 1084.2,127.6 1085.2,134.5 1087.6,141.4 1084.2,148.3 1085.9,151.1 1080.8,151.8 1080.8,144.9 1081.5,138 1080.2,131.1ZM1075.1,167.3 1074.1,163.8 1075.8,161.1 1079.2,154.2 1082.5,156.3 1089.2,158.7 1092.6,161.1 1087.6,162.5 1085.2,165.6 1079.2,163.8ZM1077.5,168 1080.8,174.2 1077.5,179.4 1076.8,184.5 1074.8,189 1070.8,189.7 1067.4,191.1 1064.1,190.8 1063.4,192.1 1060,194.9 1057.4,191.4 1050.6,192.1 1043.9,193.2 1043.9,191.4 1049,188 1054,187.6 1060.7,187.3 1063.4,182.1 1065.1,183.5 1069.1,181.4 1072.5,177.6 1074.1,172.5 1075.1,169ZM1040.6,194.9 1045.6,194.5 1047.3,197.3 1044.9,202.1 1042.2,203.2 1041.2,198.3 1039.2,196.6ZM1049,193.2 1055.7,192.5 1054.7,194.9 1050.6,197.3 1048.3,195.6ZM1010.4,223.5 1013.7,224.2 1012,229.4 1009.7,234.6 1007.3,231.1ZM969.1,243.9 973.4,241.5 976.8,242.5 975.1,245.9 971.8,247.7 969.1,246.3ZM1008.7,246.6 1014.4,247 1014.7,253.5 1012,257 1013,261.5 1017.1,262.8 1020.4,267 1018.1,265.6 1013.7,263.5 1009.3,262.8 1007.7,259.4 1006.3,254.6 1008.3,250.1ZM1013.7,284.6 1017.1,281.1 1022.1,281.1 1025.5,276.6 1028.8,282.9 1027.8,288 1025.5,290.4 1022.1,289.1 1018.7,284.6 1013.7,286.3ZM1021.4,267.3 1025.5,268 1026.1,272.5 1023.8,275.3 1022.8,271.8ZM1013.7,269.7 1017.1,270.8 1018.1,276 1016.4,278.7 1014.4,275.3 1013.4,272.5ZM997.6,281.1 1002,276.6 1005.3,271.8 1004.7,274.9 1000.3,280.1ZM1008.3,264.2 1011.7,264.6 1011.4,268 1009.7,267.7ZM970.1,305.3 971.8,303.6 976.8,304.6 978.5,301.1 983.5,299.4 986.9,294.9 991.9,291.5 996.3,286.6 999.3,289.1 1003.6,292.2 1000.3,295.6 999.3,298.4 1000.3,302.9 1003.6,307 999.6,307.7 998.6,313.2 995.3,315.6 994.6,321.5 993.6,324.2 988.9,324.6 985.2,321.8 980.1,322.2 974.1,320.5 973.4,315.6 970.7,312.2 970.1,308.7ZM924.1,291.1 931.5,292.5 935.5,297.3 940.9,301.8 944.9,304.2 949.9,308.7 952.6,313.2 955,316.7 960,320.1 960,326 959.3,330.5 955.3,330.5 951.6,327 947.3,323.6 943.2,319.1 940.9,313.9 936.5,309.4 934.8,304.6 930.5,300.1 926.4,295.6ZM957.3,333.9 961.7,331.1 968.4,333.2 976.1,332.5 982.5,334.3 988.5,337 988.2,340.5 980.1,339.4 971.8,337.4 965,337 961.3,335.6ZM990.2,338.7 996.9,339.1 1003.6,339.4 1010.4,339.4 1017.1,339.1 1016.4,340.8 1007,341.2 1000.3,341.2 993.6,341.2 990.2,340.5ZM1018.7,346 1023.8,342.2 1030.5,339.4 1028.8,341.5 1022.1,345.3ZM1003.6,343.2 1008.7,343.6 1008.7,345.6 1005.3,344.6ZM1005.3,329.4 1005.3,322.5 1003,319.8 1004.7,314.6 1006.3,309.8 1009.7,306 1017.1,307.3 1023.8,304.9 1021.4,309.1 1013.7,308.7 1008.7,309.4 1007.3,313.2 1012,313.6 1018.1,313.2 1015.4,316 1012,317 1014.7,320.8 1017.7,324.9 1015.4,328.4 1013,327 1011.4,322.5 1009.7,319.8 1008.3,321.8 1008.3,327.7ZM1032.2,303.6 1033.9,307 1036.5,308.7 1033.9,313.2 1032.2,308.7ZM1033.9,320.8 1043.3,320.8 1042.2,322.9 1035.5,322.5ZM1027.1,321.5 1031.2,321.5 1030.5,323.6 1027.8,323.2ZM1043.9,313.2 1049,311.8 1054,313.2 1054.7,319.1 1059,321.8 1064.1,317.3 1069.1,316.7 1077.5,319.4 1084.2,322.2 1090.9,325.6 1094.3,329.4 1099.3,331.1 1100.3,334.6 1102,338.7 1106,342.2 1110.4,346 1106,346.3 1101,345.3 1097,342.2 1092.6,337.7 1087.6,337 1084.2,339.8 1082.5,342.2 1077.5,341.8 1072.5,338.4 1067.4,339.4 1070.1,335.3 1067.4,329.4 1060.7,326.3 1054,323.9 1050.6,324.6 1050,320.8 1053.3,319.4 1052.3,322.5 1047.3,320.1 1044.9,315.6ZM1102.7,329.8 1109.4,329.4 1115.1,324.9 1114.4,329.4 1109.4,332.2ZM1110.4,319.8 1116.1,323.6 1117.8,326.7 1115.1,324.2 1110.4,320.8ZM1129.5,333.9 1139.6,338.7 1144,343.9 1139.6,341.5 1131.2,336.3ZM1154.7,380.1 1164.1,387 1162.1,387.4 1154.7,381.9ZM1199.3,370.8 1203.7,371.2 1202.4,373.2 1199.3,372.5ZM1089.9,450.8 1096,452.2 1102,451.5 1101.7,456 1099.3,459.5 1094.9,460.8 1091.9,457.1ZM1183.9,429.1 1189.3,432.9 1193.3,436.4 1195,439.8 1201.7,440.1 1202.7,443.3 1198.3,446.7 1196.7,451.9 1192.6,453.9 1190.9,452.6 1192,448.4 1187.6,446 1190.6,441.5 1190.3,437.4 1184.9,431.2ZM1183.9,450.2 1188.9,452.9 1188.3,455.3 1184.9,459.5 1184.2,461.9 1179.2,463.6 1177.5,468.4 1173.2,471.2 1168.1,470.8 1163.1,469.1 1164.8,465.7 1169.8,462.2 1174.8,458.8 1179.2,455.3 1181.5,451.2ZM769.7,351.8 773,362.2 771.4,367.4 769.7,374.3 766.3,384.6 762.6,396 756.9,398.4 751.9,396 749.5,388.1 752.6,379.4 751.9,372.5 753.6,366.3 759.6,364.6 763.6,361.5 767,356ZM872.7,277 876.8,281.1 878.8,286.3 876.1,289.4 873.1,289.8 871.7,284.6ZM646.2,179.4 656.2,178.7 655.2,182.8 651.2,183.5 646.2,180.8ZM631.7,169 636.4,168.7 636.8,175.2 632.7,175.9 632.1,172.5ZM633.1,163.8 635.8,162.1 636.1,165.9 634.4,167.6 633.1,165.6ZM683.1,188 692.5,189 686.4,190.1ZM712.6,189.7 720.3,187.6 716.6,190.8ZM641.1,118.3 646.2,117.3 645.8,120 642.1,120ZM665.3,110.7 668,111.1 666,113.8ZM399.4,488.1 409.5,487.4 407.8,490.5 401.1,490.5ZM476.6,496.7 483.4,498.4 482.4,499.5ZM835.1,479.5 840.8,480.2 837.5,481.9ZM80.6,241.5 83.9,242.5 81.9,244.9ZM297.1,311.5 299.4,312.2 298.1,313.9ZM783.4,267 787.1,267.3 784.8,268ZM0,601.6 51.7,604.7 100.7,605 114.1,604.3 100.7,601.2 89,599.9 85.9,593.6 104.1,590.5 115.5,588.1 105.7,586.8 92.3,586.1 80.6,581.6 71.8,578.1 73.5,576.1 90.6,576.7 101.4,575 112.4,571.2 120.2,570.2 134.3,569.8 151.4,568.8 162.8,567.1 170.2,571.2 181.3,565.7 189,562.6 201.4,565 210.8,565.7 221.5,565.7 226.2,568.8 235,567.8 245,565.7 258.5,568.5 266.9,567.1 263.5,562.3 269.9,559.5 285.3,561.9 295.4,560.2 307.5,560.9 322.2,562.3 338.7,560.9 347.8,562.6 355.8,561.6 359.2,557.1 369.2,555.4 374.3,550.2 372.9,543.6 381,540.9 388.4,536 396.1,532.9 404.1,529.8 411.2,528.5 419.6,528.1 410.2,532.9 401.1,535.4 397.8,540.5 391.1,543.3 396.1,547.8 400.8,553.3 399.4,560.5 397.8,565.7 386,571.9 375.9,576.4 389.4,577.1 400.8,578.8 419.6,579.5 432,581.2 449.8,582.3 463.2,581.9 482,579.5 496.8,576.7 506.9,573.3 516.9,570.9 525.7,567.1 540.4,564.3 550.5,562.6 560.6,558.8 566.3,557.8 577.3,555.4 588.1,554.7 600.8,554 614.3,552.6 627.7,552.6 642.1,551.6 657.9,551.6 671.3,552.6 689.1,553.3 704.9,550.5 717,546.7 728.4,549.2 741.8,543.6 755.2,544 770,542.3 782.4,536.7 794.9,539.1 802.2,542.3 813.7,542.3 825.7,543.6 835.5,543.6 841.9,553.3 847.9,549.8 856,550.5 863.7,546.7 876.1,543.3 888.5,542.3 906.3,540.9 922.7,540.2 936.5,538.8 947.9,536.7 960,538.8 969.7,539.1 985.2,536 996.9,540.5 1010,540.2 1027.1,538.8 1041.2,537.4 1054,538.5 1069.4,540.2 1080.8,540.9 1094.3,542.3 1107.7,545.7 1125.5,546.7 1137.9,550.2 1150.3,553.3 1161.4,553.6 1175.5,556.4 1178.5,559.5 1164.8,560.9 1156.7,562.6 1153.7,570.2 1158.1,574.3 1166.1,576.4 1156.7,579.5 1142.6,582.6 1142.6,589.2 1156.7,593.6 1171.5,596.8 1187.9,598.5 1208.4,599.9M352.5,548.5 365.9,547.8 372.6,553.6 367.6,559.8 355.8,557.1ZM57.1,583 65.5,582.3 63.8,585.7 57.1,585.4ZM436.4,581.2 449.8,582.3 449.8,587.1 438,586.4ZM191.3,47.6 204.8,43.8 214.8,45.5 206.4,48.6 194.7,49.3ZM251.8,38.6 268.5,37.3 278.6,40.4 268.5,42.1 255.1,41.4ZM280.3,50 288.7,49.7 290.4,52.4 282,52.8ZM270.2,70.7 282,69.7 283.6,73.1 275.2,74.2ZM345.7,75.2 352.5,75.9 349.1,78.3ZM332.3,56.9 347.4,56.6 345.7,59.3 335.7,59ZM325.6,93.1 335.7,93.8 330.6,96.6ZM329,126.9 334,127.6 330.6,128.7ZM388.4,149 396.1,150.1 392.7,151.8ZM340.7,219 345.7,218.3 344.1,222.5ZM342.4,225.9 344.1,224.9 343.7,228.4ZM396.4,273.2 399.8,273.2 399.4,275.6 396.4,275.6ZM50.4,121.4 56.4,120.7 55.4,122.5ZM42,124.5 46.3,124.2 44.3,126.2ZM36.9,126.6 40.3,125.9 39.3,128ZM18.5,130 21.8,130 20.1,131.1ZM10.1,131.4 12.1,131.4 11.1,132.5ZM1183.2,127.6 1186.2,128 1184.6,128.7ZM43.6,102.8 48.7,102.4 47,104.2ZM1094.3,156.9 1102.7,153.5 1101,154.5 1094.9,158ZM1107.7,151.8 1114.4,148.3 1113.7,149.7ZM1124.5,138 1128.5,135.2 1127.2,137.3ZM1027.8,194.9 1030.2,194.9 1029.2,195.9ZM1032.8,218.3 1034.9,218 1033.2,220.4ZM915.4,263.9 916.4,264.6 915.7,270.4 914.7,269.7ZM957.7,316 962.4,317.3 961.7,320.8 958.7,318.4ZM1054.7,329.4 1056.7,330.5 1055.7,333.9 1054.3,332.2ZM1044.6,335.6 1046.6,336.3 1045.6,338ZM1059,313.2 1061.7,313.9 1060.7,314.6ZM1123.1,329.1 1127.2,332.2 1126.5,333.9 1123.8,331.1ZM1163.4,362.2 1165.4,364.3 1164.1,364.6ZM1168.5,366.3 1169.8,369.1 1168.8,369.1ZM1204.4,367.7 1208.4,366.3 1206.7,368.4ZM78.2,238.4 80.6,238.7 79.2,239.4ZM73.2,236.3 74.9,236.3 74.2,237ZM67.8,234.2 69.5,234.2 68.8,234.9ZM547.8,212.5 549.8,212.1 548.8,213.9ZM556.5,211.8 557.9,211.1 557.2,213.5ZM551.2,213.9 552.5,213.5 551.8,214.6ZM612.3,174.2 615.6,172.8 614.6,174.9ZM579.4,95.9 582.4,95.5 581.4,98ZM599.2,101.8 600.8,101.4 599.8,103.8ZM789.8,382.5 791.5,382.9 790.5,383.9ZM796.9,379.8 798.2,380.1 797.5,381.2ZM735.8,330.5 736.8,331.1 736.5,332.5ZM632.7,297.7 634.1,298 633.1,299.1ZM399.4,526 409.5,524.3 407.8,525.4ZM355.1,455 357.5,455.3 356.8,460.2 354.5,458.8ZM434.7,311.1 441.1,311.5 439.7,315.6 434.7,314.6ZM1062.7,433.6 1067.4,433.9 1065.7,434.6ZM1041.6,349.8 1045.6,349.8 1043.9,351.5ZM1062,358.1 1063.7,358.4 1063.1,359.8ZM1166.4,471.9 1168.8,472.2 1167.4,473.6ZM10.7,461.5 12.8,461.5 11.7,462.6ZM767,71.4 771.4,71.4 770.4,73.1 767,72.8ZM800.6,68 806.6,69 803.9,70ZM574.7,65.2 577.7,65.2 576.3,66.2ZM315.5,268.4 318.9,269.7 317.9,271.8 315.9,270.4ZM362.5,80 369.2,80 368.2,82.1 364.2,82.1ZM267.9,131.1 270.9,130 273.6,135.2 271.9,135.9ZM305.5,137.3 308.8,138 307.8,140 305.5,139.4ZM939.9,52.4 953.3,52.1 949.9,54.2 941.5,53.8ZM860,163.5 866.7,162.8 866,164.9 861,164.9ZM725,294.9 726,295.6 725.7,301.8 724.7,300.8ZM755.2,178.7 757.9,179.4 757.6,182.1 755.9,181.8ZM746.9,176.3 750.2,176.6 749.5,178.3 747.2,178ZM1047.3,154.2 1050,154.2 1049.3,156.6 1047.6,156.3ZM952.3,264.6 955,266 954,267.7 952.6,266.3ZM993.6,208.3 995.6,208.7 994.9,211.1ZM1063.4,407 1066.7,407.7 1066.1,411.5 1064.1,410.5ZM763.6,153.5 770.4,150.1 777.1,148.7 782.1,150.1 782.1,154.2 776.4,155.2 773.7,156.9 777.1,161.1 781.4,163.5 781.4,168 784.8,169.7 782.1,172.5 784.8,177.6 785.5,181.8 780.4,183.5 773.7,182.1 768.7,179.4 768.3,174.2 772,171.1 768.7,167.3 764.6,162.8 763,159.4 761.3,156.6ZM295.4,149 303.8,144.9 308.8,142.8 315.5,144.2 319.9,148.3 319.6,150.1 312.2,150.1 307.1,148.3 300.4,149.7ZM309.5,165.6 313.8,166.3 314.5,160.4 317.2,155.2 318.9,152.1 313.8,152.5 310.5,155.2 308.8,156.9 310.2,161.1ZM320.6,152.1 323.9,151.4 332.3,151.8 335.7,155.2 334,156.9 330,156.9 330,161.1 327.3,162.1 326.9,159.4 322.9,159.7 324.6,155.2ZM324.3,166.6 330.6,167.3 339,163.2 335.7,162.8 330.6,163.8 325.6,164.9ZM336.3,161.1 342.4,161.1 348.1,160.1 347.4,158 342.4,158.7 337.3,159.7ZM184.6,82.1 194.7,79.3 204.8,79.7 208.8,82.8 201.4,86.2 193,85.5 191.3,82.8ZM211.5,100 218.2,95.5 228.3,93.8 236.6,93.8 229.9,97.3 221.5,100 216.5,100.7ZM229.9,108 238.3,105.2 246.7,105.6 238.3,106.9ZM271.9,124.9 276.9,124.2 280.3,132.8 280.3,136.3 278.6,136.3 273.6,129.4ZM260.1,110.4 263.5,110.4 261.8,115.6 258.5,114.9ZM952.6,132.5 958.3,131.1 966.7,125.9 972.8,119 970.7,118 965,124.2 958.3,128.3 953.3,131.1ZM850.9,153.5 857.6,149 869.4,149 867.7,150.7 859.3,150.7 854.3,154.5ZM800.6,153.5 805.6,149.4 810.6,150.7 809,156.3 802.9,158ZM707.6,103.5 714.3,101.8 713.3,99 706.6,98.3 704.9,100.7ZM720,100 725,99 725,95.5 721.7,94.2 720,96.6ZM711.6,309.4 718.3,309.8 718.3,315.6 715,320.1 711.6,319.1 710.6,313.9ZM702.6,322.2 704.6,326 706.6,332.9 708.9,340.5 706.9,340.1 703.9,332.9 702.2,326ZM718,343.2 720.3,346.7 721,353.6 722.4,359.8 720.3,359.4 719,353.6 718.3,348.4ZM649.5,263.9 653.5,263.5 653.9,266.3 650.5,266.6ZM369.2,363.6 372.6,365 373.3,367.4 369.9,365.6ZM646.2,108.7 650.5,106.2 651.2,108 647.8,109Z" fill="none" stroke="#000" stroke-width="1.4" stroke-linejoin="round"/>
</defs>
<rect width="2500" height="2348" fill="#fff"/>
<g id="panel-a">
<g clip-path="url(#ma)">
<rect x="24.5" y="97" width="1208.5" height="620.7" fill="#d4562b"/>
<path d="M68.3,156.2C103.4,145.8 419.5,146.5 454.6,156.2C489.7,165.8 462.4,251.9 454.6,262.4C446.9,272.9 378.4,271.4 369.3,271.4C360.2,271.4 357.3,263 354.8,262.4C352.3,261.8 344.6,264.7 341.9,264.7C339.3,264.7 328.8,261.9 325.8,262.4C322.9,262.9 312.7,268.8 309.7,270.5C306.8,272.1 296.6,280 293.6,280.8C290.7,281.5 279.9,279.4 277.5,278.5C275.2,277.6 270.2,270.5 267.9,270.5C265.5,270.5 255,277.3 251.8,278.5C248.6,279.7 236,284.1 232.5,283.3C229,282.6 228.1,271.6 213.2,270.5C198.2,269.3 81.5,280.8 68.3,270.5C55.1,260.1 33.2,166.6 68.3,156.2Z" fill="#c43818"/>
<path d="M263.1,236.6C264.4,234 270.3,231 274.3,230.2C278.4,229.4 283.4,229.9 287.2,231.8C291,233.7 294.2,237.5 296.9,241.5C299.5,245.5 302.8,251.9 303.3,256C303.8,260 302.8,262.9 300.1,265.6C297.4,268.3 290.2,272.6 287.2,272.1C284.3,271.5 284.5,265.4 282.4,262.4C280.2,259.5 277,257 274.3,254.4C271.6,251.7 268.2,249.3 266.3,246.3C264.4,243.4 261.7,239.3 263.1,236.6Z" fill="#ae2910"/>
<path d="M293,301C293.8,295.6 294.1,291.5 296.9,288.2C299.7,284.8 304.4,281.9 309.7,281.1C315.1,280.3 322.6,282.4 329.1,283.3C335.5,284.2 342.2,285.9 348.4,286.5C354.5,287.2 363.1,284.5 366.1,287.5C369,290.6 376.5,301.7 366.1,304.9C355.6,308.1 314.4,303.9 303.3,306.5C292.2,309.1 301.3,317.9 299.4,320.4C297.6,322.8 293.1,324.2 292,321C291,317.8 292.2,306.5 293,301Z" fill="#e8903a"/>
<path d="M245.4,295.2C246.8,295.8 255.6,305.2 258.2,307.5C260.9,309.8 272.2,318 274.3,320.4C276.4,322.7 279.7,331.5 281.4,333.2C283.2,335 291.7,338.3 293.6,339.7C295.6,341.1 299.9,347.9 303.3,348.7C306.7,349.5 328.2,348.3 330.7,348.7C333.2,349.1 333.4,352.8 330.7,353.2C327.9,353.6 304.9,354.4 300.1,353.2C295.3,352 281.9,343.8 277.5,340.3C273.2,336.8 255,318.1 251.8,314.6C248.6,311 242.7,302.8 242.1,301C241.5,299.3 243.9,294.7 245.4,295.2Z" fill="#e8903a"/>
<path d="M369.3,376.7C372.2,373.9 382.9,376.3 387,377.7C391.1,379 393.4,380.9 394.1,384.7C394.7,388.6 392.5,396 390.9,400.8C389.3,405.7 387.2,410.4 384.4,413.7C381.6,417 378.3,419.6 374.1,420.8C370,422 362.1,423.6 359.6,420.8C357.2,418 358,408.5 359.6,404.1C361.2,399.7 367.7,399 369.3,394.4C370.9,389.8 366.3,379.5 369.3,376.7Z" fill="#e8903a"/>
<path d="M396,499C397.9,495.5 401.9,493.1 406.3,492.6C410.7,492 417.6,496.3 422.4,495.8C427.2,495.3 431,489.6 435.3,489.4C439.6,489.1 443.9,494.7 448.2,494.2C452.5,493.7 456.2,488.8 461,486.1C465.9,483.5 472.3,481.6 477.1,478.1C482,474.6 484.1,467.9 490,465.2C495.9,462.5 508.8,447.2 512.6,462C516.3,476.8 529.5,538.5 512.6,553.8C495.7,569 429.4,555.1 411.1,553.8C392.9,552.4 405,550.3 403.1,545.7C401.2,541.1 401.2,531.8 399.9,526.4C398.5,521 395.7,518.1 395.1,513.5C394.4,509 394.1,502.5 396,499Z" fill="#e8903a"/>
<path d="M398.3,545.7C399.4,543.7 407,541.5 407.9,545.7C408.8,549.9 409.2,588.1 407.9,592.4C406.6,596.6 394.6,594.6 393.4,592.4C392.3,590.2 394.6,572.5 395.1,568.2C395.5,564 397.1,547.8 398.3,545.7Z" fill="#e8903a"/>
<path d="M414.4,527C416,524 418.6,522.2 420.8,523.2C423.1,524.1 427.2,529.8 427.9,532.8C428.5,535.9 427.5,540.1 424.7,541.5C421.9,543 412.9,543.9 411.1,541.5C409.4,539.1 412.8,530.1 414.4,527Z" fill="#f2cc50"/>
<path d="M432.1,404.1 437.5,398.6 442.4,404.1 437.5,409.5Z" fill="#c43818"/>
<path d="M401.5,133C405,131.5 414.6,133.5 422.4,135.2C430.2,137 442.3,140.1 448.2,143.3C454.1,146.5 454.6,151.1 457.8,154.6C461,158 464.8,160.7 467.5,164.2C470.2,167.7 472.4,170.7 473.9,175.5C475.4,180.3 478.1,190.2 476.5,193.2C474.9,196.1 468.5,195.6 464.3,193.2C460.1,190.8 454.6,184.9 451.4,178.7C448.2,172.5 447.1,161.5 444.9,156.2C442.8,150.8 445.8,148.5 438.5,146.5C431.3,144.5 407.7,146.2 401.5,143.9C395.3,141.7 398,134.4 401.5,133Z" fill="#e8903a"/>
<path d="M542.2,133C543.5,131.2 554.7,130.1 556,133C557.4,135.9 557.7,162.3 557,165.2C556.3,168.1 549.4,166.3 548,165.2C546.6,164.1 542.1,155.9 541.5,152.9C541,150 540.9,134.8 542.2,133Z" fill="#e8903a"/>
<path d="M450.7,152.3C451.5,151.7 460.6,155.1 461.7,156.2C462.8,157.2 463.4,163.6 462.7,164.2C461.9,164.8 454.1,163.7 453,162.6C451.9,161.5 450,152.9 450.7,152.3Z" fill="#f2cc50"/>
<path d="M466.8,178.1C467.4,177.2 473.8,178.2 474.6,179.3C475.4,180.5 476.1,190.1 475.5,190.9C474.9,191.8 468.9,190.2 468.1,189C467.3,187.8 466.3,178.9 466.8,178.1Z" fill="#f2cc50"/>
<path d="M470.7,122.7C476.3,122.1 526.3,121.5 531.9,122.7C537.5,123.9 533.8,135.2 532.5,136.2C531.2,137.2 519.5,134.3 517.4,133.6C515.3,132.9 513.6,128.9 509.3,128.5C505.1,128.1 474.2,129.7 470.7,129.1C467.2,128.6 465.1,123.3 470.7,122.7Z" fill="#c43818"/>
<path d="M772.2,169C763.4,177.1 768.7,184.1 772.2,188.4C775.7,192.7 784.3,191.6 793.2,194.8C802,198 816.8,201.8 825.4,207.7C833.9,213.6 839.8,223.8 844.7,230.2C849.5,236.6 850.6,241.5 854.3,246.3C858.1,251.1 862.4,256 867.2,259.2C872,262.4 876.3,263.5 883.3,265.6C890.3,267.8 899.9,272.1 909.1,272.1C918.2,272.1 928.9,267.8 938,265.6C947.1,263.5 959,262.4 963.8,259.2C968.6,256 963.8,250.1 967,246.3C970.2,242.6 975.1,239.3 983.1,236.6C991.1,234 1004,232.4 1015.3,230.2C1026.6,228.1 1040.5,225.9 1050.7,223.8C1060.9,221.6 1070,220.8 1076.5,217.3C1082.9,213.8 1081.8,206.6 1089.3,202.8C1096.8,199.1 1110.8,196.7 1121.5,194.8C1132.3,192.9 1143,191.8 1153.7,191.6C1164.5,191.3 1171.4,192.9 1185.9,193.2C1200.4,193.5 1231.5,199.9 1240.6,193.2C1249.8,186.5 1266.9,159.7 1240.6,152.9C1214.4,146.2 1114.6,155.1 1082.9,152.9C1051.2,150.8 1093.6,142.2 1050.7,140.1C1007.8,137.9 871.8,135.2 825.4,140.1C778.9,144.9 781.1,161 772.2,169Z" fill="#c43818"/>
<path d="M1182.7,169.7C1187.2,167.6 1228.1,167.7 1232.6,169.7C1237.1,171.7 1237.1,189.5 1232.6,191.6C1228.1,193.6 1187.9,194.2 1183.3,192.2C1178.8,190.2 1178.2,171.7 1182.7,169.7Z" fill="#c43818"/>
<path d="M835,172.3C837.2,169.6 843.1,165.8 857.5,162.6C872,159.4 900.5,154.3 921.9,152.9C943.4,151.6 969.7,152.9 986.3,154.6C1003,156.2 1016.4,159.1 1021.7,162.6C1027.1,166.1 1024.4,172.3 1018.5,175.5C1012.6,178.7 992.2,178.2 986.3,181.9C980.4,185.7 988.5,194.8 983.1,198C977.7,201.2 967,200.2 954.1,201.2C941.2,202.3 917.6,205.5 905.8,204.5C894,203.4 891.3,197.5 883.3,194.8C875.3,192.1 864,191 857.5,188.4C851.1,185.7 848.4,181.4 844.7,178.7C840.9,176 832.9,174.9 835,172.3Z" fill="#ae2910"/>
<path d="M630.6,240.5C633.8,236.6 643.7,230.9 651.5,230.2C659.3,229.6 669.8,237.2 677.3,236.6C684.8,236.1 689.1,227.5 696.6,227C704.1,226.5 716.4,230.2 722.3,233.4C728.2,236.6 730.9,241.2 732,246.3C733.1,251.4 734.7,261.1 728.8,264C722.9,267 701.9,265.8 696.6,264C691.2,262.2 707.3,255.2 696.6,253.4C685.8,251.6 643.2,255.5 632.2,253.4C621.2,251.2 627.4,244.4 630.6,240.5Z" fill="#c43818"/>
<path d="M601.6,259.8 629.6,259.8 629.6,271.4 601.6,271.4Z" fill="#c43818"/>
<path d="M781.9,236.6C784.1,236 803.5,236 806,236.6C808.5,237.3 811.5,243.1 809.3,243.7C807.1,244.4 784.4,244.4 781.9,243.7C779.4,243.1 779.7,237.3 781.9,236.6Z" fill="#ae2910"/>
<path d="M818.9,276.9C822.6,275 834.7,271.8 838.2,273.7C841.7,275.5 842,285.1 839.8,288.2C837.7,291.2 829.3,292.6 825.4,292C821.4,291.5 817.4,287.5 816.3,284.9C815.3,282.4 815.3,278.8 818.9,276.9Z" fill="#c43818"/>
<path d="M825.4,304.3C828.6,304 837.7,313.1 844.7,312.3C851.6,311.5 861,302.6 867.2,299.4C873.4,296.2 877.7,292.7 881.7,293C885.7,293.3 886.8,298.9 891.3,301C895.9,303.2 901.8,303.7 909.1,305.9C916.3,308 927.3,314.2 934.8,313.9C942.3,313.6 947.7,304 954.1,304.3C960.6,304.5 965.9,312.8 973.4,315.5C981,318.2 991.7,320.6 999.2,320.4C1006.7,320.1 1012.1,316.3 1018.5,313.9C1024.9,311.5 1034.6,295.1 1037.8,305.9C1041,316.6 1057.1,366.2 1037.8,378.3C1018.5,390.4 941.2,386.9 921.9,378.3C902.6,369.7 924.1,337 921.9,326.8C919.8,316.6 914.4,320.1 909.1,317.1C903.7,314.2 895.6,309.6 889.7,309.1C883.8,308.5 877.9,312 873.6,313.9C869.3,315.8 868.8,319.3 864,320.4C859.2,321.4 851.1,321.4 844.7,320.4C838.2,319.3 828.6,316.6 825.4,313.9C822.1,311.2 822.1,304.5 825.4,304.3Z" fill="#e8903a"/>
<path d="M883.3,349.3 899.4,349.3 899.4,365.4 883.3,365.4Z" fill="#e8903a"/>
<path d="M587.1,301C592.5,295.9 607,295.1 619.3,294.6C631.7,294.1 651,295.9 661.2,297.8C671.4,299.7 672.4,305.3 680.5,305.9C688.5,306.4 702.5,300.8 709.5,301C716.4,301.3 721.3,304.3 722.3,307.5C723.4,310.7 720.2,317.4 715.9,320.4C711.6,323.3 705.2,324.4 696.6,325.2C688,326 675.1,325.7 664.4,325.2C653.7,324.6 640.8,321.7 632.2,322C623.6,322.2 620.4,326.3 612.9,326.8C605.4,327.3 591.4,329.5 587.1,325.2C582.8,320.9 581.8,306.1 587.1,301Z" fill="#c43818"/>
<path d="M601.1,288.2C606.7,286.4 658.2,284.9 663.9,288.2C669.6,291.4 666.8,320.9 663.9,324.2C660.9,327.5 636.6,324.6 631.7,324.2C626.7,323.9 611.8,321.9 609.1,320.4C606.4,318.8 602.8,310.4 602.1,307.5C601.3,304.5 595.5,289.9 601.1,288.2Z" fill="#c43818"/>
<path d="M643.5,341.3C649.6,338.6 666.3,334 680.5,332.6C694.7,331.1 717.4,334 728.8,332.6C740.1,331.2 745.8,322.8 748.7,324.2C751.7,325.7 750.9,337.5 746.5,341.3C742.1,345 730.7,345 722.3,346.8C714,348.5 706.2,351 696.6,351.9C686.9,352.8 673.2,352.4 664.4,351.9C655.5,351.4 646.9,350.5 643.5,348.7C640,346.9 637.3,344 643.5,341.3Z" fill="#e8903a"/>
<path d="M574.2,369.3C579.5,354.4 624.6,365.6 632.2,365.4C639.8,365.2 652.4,367.3 657.9,367C663.5,366.7 689,361.4 693.4,362.2C697.8,363 703.6,375.6 706.2,375.7C708.9,375.9 718.8,365 722.3,363.8C725.8,362.6 740.8,362 744.9,362.2C749,362.4 761.8,365.7 767.4,366.1C773,366.4 802.5,351.2 806,366.1C809.5,380.9 827.1,514.7 806,529.6C785,544.5 595.3,544.2 574.2,529.6C553.2,515 569,384.2 574.2,369.3Z" fill="#e8903a"/>
<path d="M576.9,325.2 587.2,325.2 587.2,363.8 596.3,363.8 596.3,384.7 576.9,384.7Z" fill="#e8903a"/>
<path d="M647.8,336.4C649,335 662.4,333.4 663.9,334.8C665.3,336.3 665.1,351.1 663.9,352.5C662.6,354 651.8,352.4 650.3,350.9C648.9,349.5 646.5,337.9 647.8,336.4Z" fill="#e8903a"/>
<path d="M683.7,429.8C685.6,428.5 689.1,426.1 693.4,428.2C697.7,430.3 703.6,438.1 709.5,442.7C715.4,447.2 723.4,451.8 728.8,455.6C734.1,459.3 740,460.9 741.6,465.2C743.3,469.5 738.4,476.5 738.4,481.3C738.4,486.1 743.3,491 741.6,494.2C740,497.4 732,497.4 728.8,500.6C725.6,503.9 727.7,510.8 722.3,513.5C717,516.2 702.5,518.9 696.6,516.7C690.7,514.6 689.9,506 686.9,500.6C684,495.3 681.4,490.4 678.9,484.5C676.3,478.6 672.7,469.8 671.5,465.2C670.2,460.7 670,459.3 671.5,457.2C673,455 678.7,455.8 680.5,452.3C682.3,448.9 681.6,440 682.1,436.2C682.6,432.5 681.8,431.2 683.7,429.8Z" fill="#d4562b"/>
<path d="M685.3,462C686.2,460.1 695.8,463.2 696.6,465.2C697.3,467.3 694.2,482.6 693.4,484.5C692.5,486.4 687.7,488.2 686.9,486.1C686.2,484.1 684.4,463.9 685.3,462Z" fill="#c43818"/>
<path d="M1002.4,442.7 1153.7,442.7 1153.7,545.7 1002.4,545.7Z" fill="#e8903a"/>
<path d="M1095.8,486.1C1096.8,483.5 1103.2,480.9 1107,481.3C1110.9,481.7 1118.1,485.4 1119,488.4C1119.8,491.4 1114.9,497.5 1111.9,499C1108.8,500.5 1103.3,499.6 1100.6,497.4C1097.9,495.3 1094.7,488.8 1095.8,486.1Z" fill="#f2cc50"/>
<path d="M1085.5,482.9 1090.9,478.1 1097.4,482.9 1091.6,487.1Z" fill="#f2cc50"/>
<path d="M773.8,465.2 793.2,465.2 793.2,494.2 773.8,494.2Z" fill="#e8903a"/>
<path d="M954.1,384.7 1128,384.7 1128,436.2 954.1,436.2Z" fill="#e8903a"/>
<path d="M20,646.8C76.4,641.4 584.2,644.2 640.6,646.8C697,649.3 643.2,671.4 640.6,674.8C638.1,678.3 617.9,683.1 612.6,684.2C607.2,685.3 588.5,686.8 581.4,687.3C574.3,687.9 540.8,689.6 534.6,690.4C528.4,691.3 519.8,695.9 512.8,696.7C505.7,697.5 467.4,698.8 456.6,699.2C445.8,699.5 405.6,700.3 394.2,700.4C382.9,700.5 338,700.6 331.9,700.4C325.8,700.2 330,698.1 327.2,698.2C324.4,698.4 311.6,701.6 300.7,702.3C289.8,703 224.1,705.6 207.1,706C190.1,706.5 130.6,707.6 113.6,707.6C96.6,707.6 28.5,711.6 20,706C11.5,700.5 -36.4,652.2 20,646.8Z" fill="#e8903a"/>
<path d="M391.1,685.1C384.5,685.8 418.3,691.5 425.4,692C432.5,692.5 462.4,691.1 469.1,690.4C475.8,689.8 505.8,685.6 498.7,685.1C491.6,684.7 397.8,684.5 391.1,685.1Z" fill="#d4562b"/>
<path d="M363.1,664.9 385.5,664.9 385.5,672.4 363.1,672.4Z" fill="#d4562b"/>
<path d="M23.1,684.8C24.3,684.5 32.2,689.8 35.6,690.4C39,691.1 61.7,691.7 60.5,692C59.4,692.3 26.5,694.8 23.1,694.2C19.7,693.5 22,685.2 23.1,684.8Z" fill="#d4562b"/>
<path d="M616.9,631.2C673.6,626.9 1183.9,624.4 1240.6,631.2C1297.3,638 1244.6,699.2 1240.6,706C1236.7,712.8 1205.2,706.5 1197,706C1188.7,705.6 1156.1,702.2 1150.2,701.4C1144.2,700.5 1131.5,697.7 1131.5,696.7C1131.5,695.7 1147.9,691.9 1150.2,690.4C1152.4,689 1156.4,683.2 1156.4,681.1C1156.4,679 1152.4,669.2 1150.2,667.1C1147.9,664.9 1135.4,659.1 1131.5,657.7C1127.5,656.3 1112.8,651.9 1106.5,651.5C1100.3,651 1070.2,653 1062.9,653C1055.5,653 1033.1,651.7 1025.4,651.5C1017.8,651.2 986.9,649.6 978.7,649.9C970.4,650.2 940.4,653.6 935,654.6C929.6,655.6 922.5,659.7 919.4,660.8C916.3,661.9 905.8,666.5 900.7,667.1C895.6,667.6 868.5,667.5 863.3,667.1C858,666.6 845.3,663.9 843,662.4C840.7,660.8 842.7,650.9 838.3,649.9C833.9,648.9 801.7,650.9 794.6,651.5C787.6,652 767.7,655.3 760.3,656.1C753,657 722.1,660.1 713.6,660.8C705.1,661.5 673.9,663.4 666.8,663.9C659.7,664.5 640.1,665.8 635.6,667.1C631.1,668.3 618.6,681.2 616.9,678C615.2,674.7 560.2,635.4 616.9,631.2Z" fill="#e8903a"/>
<path d="M1175.1,684.8C1180.5,684.3 1234.7,684 1240.6,684.8C1246.6,685.7 1243.2,693.4 1240.6,694.2C1238.1,695 1217.9,693.9 1212.6,693.6C1207.2,693.2 1184.8,691.2 1181.4,690.4C1178,689.6 1169.7,685.3 1175.1,684.8Z" fill="#d4562b"/>
<path d="M651.2,704.5C654.6,702.9 697.1,693.7 704.2,690.4C711.3,687.2 724.3,670.9 729.2,668.6C734,666.3 751.3,665 757.2,664.9C763.2,664.7 790.1,665.9 794.6,667.1C799.2,668.2 806.3,675.8 807.1,678C808,680.1 801.7,689.3 804,690.4C806.3,691.6 826.1,690.6 832.1,690.4C838,690.3 861.8,688.9 869.5,688.9C877.2,688.9 910.6,690 916.3,690.4C921.9,690.9 930.7,692.9 931.9,693.6C933,694.3 931.6,698 928.8,698.2C925.9,698.5 907.8,696.7 900.7,696.7C893.6,696.7 856.5,697.5 850.8,698.2C845.1,698.9 842.3,704.3 838.3,704.5C834.3,704.6 812.2,699.7 807.1,699.8C802,699.9 790.7,705.2 782.2,706C773.7,706.9 724.1,709 713.6,709.2C703.1,709.3 672.5,708 666.8,707.6C661.1,707.2 647.8,706 651.2,704.5Z" fill="#c43818"/>
<path d="M838.3,684.8 847,680.5 853.9,684.8 847,689.8Z" fill="#f2cc50"/>
</g>
<g clip-path="url(#fa)"><use href="#coast" transform="translate(24.5,97) scale(1.00008,0.99968)"/></g>
<rect x="24.5" y="97" width="1208.5" height="620.7" fill="none" stroke="#000" stroke-width="1.5"/>
</g>
<g id="panel-b">
<g clip-path="url(#mb)">
<rect x="1257.2" y="91.8" width="1208.4" height="620.3" fill="#d4562b"/>
<path d="M1298.3,147.9C1323.2,145.3 1547.1,146 1571.9,147.9C1596.8,149.9 1573.1,167.8 1571.9,169.8C1570.8,171.9 1562,170.1 1559.1,170.5C1556.1,170.8 1543.8,172.5 1539.7,173.7C1535.6,174.9 1518.1,182.2 1514,183.4C1509.9,184.5 1499.6,186.9 1494.7,186.6C1489.7,186.3 1465.1,181.2 1459.3,180.1C1453.4,179.1 1435,175 1430.3,175.3C1425.6,175.6 1411.6,182.4 1407.7,183.4C1403.9,184.3 1391.1,186.2 1388.4,185.6C1385.8,185 1382.6,177.9 1378.8,176.9C1375,176 1352,175.3 1346.6,175.3C1341.2,175.3 1323.6,176.8 1319.2,176.9C1314.8,177.1 1300.2,179.6 1298.3,176.9C1296.4,174.3 1273.4,150.6 1298.3,147.9Z" fill="#e8903a"/>
<path d="M1386.8,185 1401.3,185 1401.3,190.4 1386.8,190.4Z" fill="#f2cc50"/>
<path d="M1446.4,218.8C1449.7,214.7 1456.6,212.9 1462.5,210.7C1468.4,208.6 1474.3,206.4 1481.8,205.9C1489.3,205.4 1499,206.7 1507.5,207.5C1516.1,208.3 1524.7,209.9 1533.3,210.7C1541.9,211.5 1551.4,212.3 1559.1,212.3C1566.7,212.3 1575.7,209.1 1579,210.7C1582.3,212.3 1582.3,219.6 1579,222C1575.7,224.4 1565.6,224.9 1559.1,225.2C1552.5,225.5 1545.6,222.5 1539.7,223.6C1533.8,224.7 1530.1,229.8 1523.6,231.6C1517.2,233.5 1509.2,233.3 1501.1,234.9C1493.1,236.5 1482.3,239.2 1475.4,241.3C1468.4,243.5 1464.1,246.1 1459.3,247.7C1454.4,249.4 1449.2,253.1 1446.4,251C1443.6,248.8 1442.5,240.2 1442.5,234.9C1442.5,229.5 1443.1,222.8 1446.4,218.8Z" fill="#c43818"/>
<path d="M1592.9,247.7 1605.7,247.7 1605.7,259 1592.9,259Z" fill="#c43818"/>
<path d="M1489.8,296C1489.3,292.3 1491.7,289.1 1494.7,286.4C1497.6,283.7 1502.7,282.4 1507.5,279.9C1512.4,277.5 1517.2,273.5 1523.6,271.9C1530.1,270.3 1538.1,269.7 1546.2,270.3C1554.2,270.8 1563.3,274 1571.9,275.1C1580.5,276.2 1593.4,274.6 1597.7,276.7C1602,278.9 1607.3,285.8 1597.7,288C1588,290.1 1550.7,287.7 1539.7,289.6C1528.7,291.5 1532.9,292.3 1531.7,299.3C1530.5,306.2 1534.3,325.5 1532.7,331.4C1531,337.4 1526.2,337.4 1522,334.7C1517.8,332 1511.6,319.6 1507.5,315.4C1503.5,311.1 1500.8,312.1 1497.9,308.9C1494.9,305.7 1490.4,299.8 1489.8,296Z" fill="#e8903a"/>
<path d="M1520.4,302.5C1520.9,301.9 1531.5,312.9 1532.7,315.4C1533.8,317.8 1533.2,329.3 1532.7,329.8C1532.1,330.4 1528,324.3 1526.9,321.8C1525.7,319.3 1519.9,303.1 1520.4,302.5Z" fill="#d4562b"/>
<path d="M1567.1,345.9 1579,345.9 1579,357.8 1567.1,357.8Z" fill="#e8903a"/>
<path d="M1462.5,119 1599.3,119 1599.3,159.2 1462.5,159.2Z" fill="#e8903a"/>
<path d="M1549.4,135.1C1551.2,134.3 1568.7,133.2 1571.9,133.5C1575.2,133.8 1584.8,137.3 1584.8,138.3C1584.8,139.3 1574.9,144.4 1571.9,144.7C1569,145 1554.7,142.4 1552.6,141.5C1550.6,140.6 1547.6,135.8 1549.4,135.1Z" fill="#f2cc50"/>
<path d="M1626.7,119C1634.7,117.9 1663.1,122.7 1674.9,125.4C1686.8,128.1 1692.1,131.3 1697.5,135.1C1702.9,138.8 1706.6,143.7 1707.1,147.9C1707.7,152.2 1699.6,157.3 1700.7,160.8C1701.8,164.3 1706.9,167.5 1713.6,168.9C1720.3,170.2 1736.4,166.2 1740.9,168.9C1745.5,171.6 1751.1,182.3 1740.9,185C1730.8,187.7 1690.5,192.7 1679.8,185C1669,177.2 1685.4,147.1 1676.6,138.3C1667.7,129.4 1635,135.1 1626.7,131.9C1618.3,128.6 1618.6,120 1626.7,119Z" fill="#e8903a"/>
<path d="M1692.7,173.1C1694.6,172.4 1715.2,172.4 1717.4,173.1C1719.7,173.8 1719.4,180.1 1717.4,180.8C1715.5,181.5 1698.1,181.5 1695.9,180.8C1693.6,180.1 1690.7,173.8 1692.7,173.1Z" fill="#f2cc50"/>
<path d="M1761.9,119C1763.5,117.8 1795.5,117.2 1798.9,119C1802.3,120.7 1800.5,137.1 1798.9,138.3C1797.3,139.5 1784.6,133.6 1781.2,131.9C1777.8,130.1 1760.3,120.1 1761.9,119Z" fill="#e8903a"/>
<path d="M1628.3,378.1C1629.9,374.1 1637.4,374.6 1641.1,376.5C1644.9,378.4 1646.8,384 1650.8,389.4C1654.8,394.8 1660.7,402.3 1665.3,408.7C1669.9,415.2 1674.4,421.6 1678.2,428C1681.9,434.5 1683.5,442.5 1687.8,447.3C1692.1,452.2 1700.7,453.2 1703.9,457C1707.1,460.8 1708.8,466.1 1707.1,469.9C1705.5,473.6 1699.6,477.7 1694.3,479.5C1688.9,481.4 1680.3,479.8 1674.9,481.1C1669.6,482.5 1664.8,483.6 1662.1,487.6C1659.4,491.6 1661.3,501.8 1658.9,505.3C1656.4,508.8 1650,510.1 1647.6,508.5C1645.2,506.9 1644.1,500.5 1644.4,495.6C1644.6,490.8 1650.8,485.4 1649.2,479.5C1647.6,473.6 1638.5,466.4 1634.7,460.2C1631,454.1 1630.1,446.5 1626.7,442.5C1623.2,438.5 1615.7,438.2 1613.8,436.1C1611.9,433.9 1613.5,431.8 1615.4,429.6C1617.3,427.5 1623.7,425.9 1625.1,423.2C1626.4,420.5 1622.4,417.3 1623.4,413.5C1624.5,409.8 1630.7,406.6 1631.5,400.7C1632.3,394.8 1626.7,382.2 1628.3,378.1Z" fill="#c43818"/>
<path d="M1604.1,366.9 1616.4,366.9 1616.4,387.8 1604.1,387.8Z" fill="#e8903a"/>
<path d="M1647.6,367.5C1648.2,366.8 1659,374.1 1662.1,375.9C1665.1,377.6 1679.4,384.7 1681.4,386.8C1683.4,389 1685.1,398.8 1684,399.7C1682.8,400.6 1671.1,397.9 1668.5,396.5C1665.9,395 1657.5,386.2 1655.6,383.6C1653.7,381 1647,368.2 1647.6,367.5Z" fill="#e8903a"/>
<path d="M1707.1,417.7C1708.8,416.5 1737.9,415.9 1740.9,417.7C1744,419.6 1742.3,435.6 1740.9,438.3C1739.6,441.1 1728.1,448.6 1726.5,448C1724.8,447.3 1724.4,434 1722.6,431.2C1720.8,428.5 1705.5,419 1707.1,417.7Z" fill="#e8903a"/>
<path d="M1641.1,531C1644.2,529 1663.7,524.6 1665.9,525.3C1668.2,525.9 1668,536.1 1665.9,538.1C1663.9,540.2 1646,545.2 1643.4,547.8C1640.8,550.4 1638,567.1 1637,567.1C1636,567.1 1632.1,551.1 1632.5,547.8C1632.8,544.5 1638.1,533.1 1641.1,531Z" fill="#e8903a"/>
<path d="M1586.4,406.5 1598.3,406.5 1598.3,415.8 1586.4,415.8Z" fill="#e8903a"/>
<path d="M1620.2,524.6C1621,522.6 1627.2,529 1628.3,531C1629.3,533.1 1631.6,544.4 1631.5,547.1C1631.3,549.9 1627.7,561 1626.7,561.6C1625.6,562.2 1620.8,556.9 1620.2,553.6C1619.6,550.2 1619.5,526.7 1620.2,524.6Z" fill="#c43818"/>
<path d="M1615.4,566.5 1625.1,566.5 1625.1,587.4 1615.4,587.4Z" fill="#e8903a"/>
<path d="M1923.4,230.4C1923.9,226.7 1925.5,217.5 1929.8,212.3C1934.1,207.2 1941.6,202.7 1949.1,199.5C1956.6,196.2 1964.7,193.4 1974.9,193C1985.1,192.6 2000.1,196.6 2010.3,196.9C2020.5,197.2 2028.5,194.5 2036,194.9C2043.5,195.4 2049.7,196.6 2055.4,199.5C2061,202.4 2066.2,208.5 2069.8,212.3C2073.5,216.2 2078.6,219 2077.2,222.6C2075.9,226.3 2086.9,232.3 2061.8,234.2C2036.7,236.2 1949.7,234.9 1926.6,234.2C1903.5,233.6 1922.8,234 1923.4,230.4Z" fill="#e8903a"/>
<path d="M1986.1,218.8C1987,217.8 1997.6,214.1 2000.6,213.9C2003.7,213.8 2017.9,216.4 2019.9,217.2C2022,217.9 2024,221.3 2023.2,222C2022.3,222.7 2013.2,225 2010.3,225.2C2007.4,225.4 1993.2,225.2 1991,224.6C1988.8,224 1985.3,219.7 1986.1,218.8Z" fill="#f2cc50"/>
<path d="M2301.6,154.4C2301.6,152.4 2300.3,151.2 2312.9,150.5C2325.5,149.9 2365.9,149.1 2377.3,150.5C2388.7,152 2370.1,157.5 2381.1,159.2C2392.1,160.9 2434.3,159.5 2443.3,160.8C2452.3,162.2 2440.9,165.7 2435.2,167.3C2429.6,168.9 2421.8,169.4 2409.5,170.5C2397.1,171.6 2374.1,173.7 2361.2,173.7C2348.3,173.7 2340.3,172.4 2332.2,170.5C2324.2,168.6 2318,165.1 2312.9,162.4C2307.8,159.8 2301.6,156.4 2301.6,154.4Z" fill="#e8903a"/>
<path d="M2019.9,276.7C2021.4,275.3 2032.8,274.4 2036,273.5C2039.3,272.6 2051,268.5 2055.4,267.1C2059.7,265.6 2079.6,259.5 2084.3,257.4C2089,255.4 2104.5,246.7 2106.9,244.5C2109.2,242.3 2108,235 2110.1,233.3C2112.1,231.5 2126.2,225.1 2129.4,225.2C2132.6,225.4 2142,233.4 2145.5,234.9C2149,236.3 2163.1,240 2168,241.3C2173,242.6 2198.8,247.7 2200.2,249.4C2201.7,251 2187.6,258 2184.1,259C2180.6,260 2163.9,259.6 2161.6,260.6C2159.2,261.6 2159.2,268.5 2158.4,270.3C2157.5,272 2151.9,278.5 2151.9,279.9C2151.9,281.4 2160.1,285.5 2158.4,286.4C2156.6,287.3 2136.1,290.2 2132.6,289.6C2129.1,289 2121.5,281.7 2119.7,279.9C2118,278.2 2115.3,270.9 2113.3,270.3C2111.3,269.7 2099.8,272.6 2097.2,273.5C2094.6,274.4 2085.2,277.9 2084.3,279.9C2083.4,282 2088.4,294 2087.5,296C2086.7,298.1 2077.6,302.2 2074.7,302.5C2071.7,302.8 2058.9,299.8 2055.4,299.3C2051.8,298.7 2039.3,296.9 2036,296C2032.8,295.2 2021.4,291.4 2019.9,289.6C2018.5,287.8 2018.5,278.2 2019.9,276.7Z" fill="#c43818"/>
<path d="M1862.2,234.9C1863.7,233.8 1874.5,234.3 1878.3,234.9C1882.1,235.5 1899.9,239.8 1904,241.3C1908.1,242.8 1920.4,249.4 1923.4,251C1926.3,252.5 1936.2,257.3 1936.2,258C1936.2,258.8 1927.2,260.6 1923.4,259.7C1919.6,258.7 1899.9,249 1894.4,247.7C1888.8,246.5 1865.1,247.3 1862.2,246.1C1859.3,245 1860.7,235.9 1862.2,234.9Z" fill="#c43818"/>
<path d="M1831.6,251 1860.6,251 1860.6,258 1831.6,258Z" fill="#ae2910"/>
<path d="M1842.2,258 1853.2,258 1853.2,274.1 1842.2,274.1Z" fill="#c43818"/>
<path d="M1834.3,249.4 1860.1,249.4 1860.1,259 1852,259 1852,274.1 1842.4,274.1 1842.4,259 1834.3,259Z" fill="#c43818"/>
<path d="M2031.2,161.5 2074.7,161.5 2074.7,168.9 2031.2,168.9Z" fill="#c43818"/>
<path d="M2229.2,254.2C2230.3,248.8 2233,242.4 2238.9,238.1C2244.8,233.8 2256.6,230.6 2264.6,228.4C2272.7,226.3 2280.2,225.2 2287.1,225.2C2294.1,225.2 2301.9,225.7 2306.5,228.4C2311,231.1 2321.5,234.3 2314.5,241.3C2307.5,248.3 2272.4,259 2264.6,270.3C2256.8,281.5 2273.2,300.3 2267.8,308.9C2262.5,317.5 2238.6,313.5 2232.4,321.8C2226.2,330.1 2237.5,352.6 2230.8,358.8C2224.1,365 2198.6,362.3 2192.2,358.8C2185.7,355.3 2194.1,343 2192.2,337.9C2190.3,332.8 2187.6,331.4 2180.9,328.2C2174.2,325 2156.2,321.8 2151.9,318.6C2147.6,315.4 2150.9,312.1 2155.2,308.9C2159.4,305.7 2170.2,301.4 2177.7,299.3C2185.2,297.1 2191.6,298.7 2200.2,296C2208.8,293.4 2223.8,287.5 2229.2,283.2C2234.6,278.9 2232.4,275.1 2232.4,270.3C2232.4,265.5 2228.1,259.6 2229.2,254.2Z" fill="#e8903a"/>
<path d="M2097.2,308.9C2096.9,307.2 2101,300.3 2103.6,299.3C2106.3,298.2 2123.3,297.1 2126.2,297.6C2129.1,298.2 2135.1,304.1 2135.8,305.7C2136.6,307.3 2133.2,313.8 2134.2,315.4C2135.2,316.9 2147.8,321.8 2147.1,322.4C2146.4,323.1 2128,319.1 2126.2,322.4C2124.3,325.7 2127.8,355.5 2126.8,358.8C2125.9,362.1 2116.9,360.7 2115.9,358.8C2114.9,356.9 2116.7,340.7 2115.9,337.9C2115.1,335.1 2107.7,330 2106.9,328.2C2106,326.5 2107.7,320.3 2106.9,318.6C2106,316.8 2097.5,310.7 2097.2,308.9Z" fill="#e8903a"/>
<path d="M2010.3,315.4C2012.5,314.4 2033.4,317.9 2036,319.2C2038.7,320.5 2040.4,328.1 2039.3,329.8C2038.1,331.5 2025.6,337.9 2023.2,337.9C2020.7,337.9 2013.1,331.9 2011.9,329.8C2010.7,327.8 2008.1,316.3 2010.3,315.4Z" fill="#c43818"/>
<path d="M1810.7,278.3C1823.6,265.2 1871.9,275.4 1887.9,278.3C1904,281.3 1900.8,292 1907.3,296C1913.7,300.1 1919.1,300.9 1926.6,302.5C1934.1,304.1 1944.3,304.1 1952.3,305.7C1960.4,307.3 1971.4,307.3 1974.9,312.1C1978.4,317 1977,330.4 1973.3,334.7C1969.5,339 1958.5,338.5 1952.3,337.9C1946.2,337.2 1942.1,332.5 1936.2,330.8C1930.3,329.1 1923.9,327.2 1916.9,327.6C1909.9,328 1903,331.9 1894.4,333.1C1885.8,334.2 1874,333.3 1865.4,334.7C1856.8,336 1852,337.4 1842.9,341.1C1833.8,344.9 1816,367.7 1810.7,357.2C1805.3,346.7 1797.8,291.5 1810.7,278.3Z" fill="#c43818"/>
<path d="M1827.9,315.4C1830.5,306.8 1828.4,295.5 1839.1,289.6C1849.9,283.7 1883.4,270.3 1892.3,279.9C1901.1,289.6 1897.4,336.8 1892.3,347.5C1887.2,358.3 1870.5,343.3 1861.7,344.3C1852.8,345.4 1843.9,351.3 1839.1,354C1834.4,356.7 1836,362.6 1833.3,360.4C1830.7,358.3 1824,348.6 1823,341.1C1822.1,333.6 1825.2,323.9 1827.9,315.4Z" fill="#c43818"/>
<path d="M1923.4,315.4C1923.9,314.3 1938.9,309.7 1942.7,308.9C1946.5,308.1 1962.6,306 1965.2,306.3C1967.8,306.6 1972.2,311.3 1971.6,312.1C1971.1,313 1962,314.6 1958.8,315.4C1955.6,316.1 1939.5,320.2 1936.2,320.2C1933,320.2 1922.8,316.4 1923.4,315.4Z" fill="#d4562b"/>
<path d="M1971.6,370.1C1974.3,367.4 1982.4,364.2 1987.7,363.6C1993.1,363.1 1996.6,367.3 2003.8,366.9C2011.1,366.4 2026.5,360.4 2031.2,361.1C2035.9,361.7 2035.7,364.9 2032.2,370.7C2028.7,376.5 2016.1,388.4 2010.3,395.8C2004.5,403.2 2000.6,408.3 1997.4,415.2C1994.2,422 1999.6,433.4 1991,437C1982.4,440.7 1953.9,438.5 1945.9,437C1937.8,435.5 1941.6,432.7 1942.7,428C1943.7,423.3 1951.3,414.1 1952.3,408.7C1953.4,403.3 1948,400.1 1949.1,395.8C1950.2,391.5 1955,385.6 1958.8,383C1962.5,380.3 1969.5,381.9 1971.6,379.7C1973.8,377.6 1969,372.8 1971.6,370.1Z" fill="#e8903a"/>
<path d="M1886.3,374.9C1887.1,374 1897.7,376.7 1899.2,379.7C1900.8,382.8 1903.8,405.5 1903.4,408.1C1903,410.6 1895.5,409.8 1894.4,408.1C1893.3,406.4 1891.9,392.4 1891.2,389.4C1890.4,386.4 1885.6,375.8 1886.3,374.9Z" fill="#e8903a"/>
<path d="M1874.5,368.5 1892.3,365.3 1892.3,379.7 1874.5,379.7Z" fill="#e8903a"/>
<path d="M1980.7,389.4 1984.5,384.6 1988.4,394.2 1983.9,396.5Z" fill="#f2cc50"/>
<path d="M1920.1,345.9C1921.9,345.6 1937.7,345.6 1939.5,345.9C1941.2,346.3 1941.2,349.7 1939.5,350.1C1937.7,350.5 1921.9,350.5 1920.1,350.1C1918.4,349.7 1918.4,346.3 1920.1,345.9Z" fill="#e8903a"/>
<path d="M1968.4,345.9C1969.9,345.5 1983.1,345.5 1984.5,345.9C1986,346.4 1986,350.3 1984.5,350.8C1983.1,351.2 1969.9,351.2 1968.4,350.8C1967,350.3 1967,346.4 1968.4,345.9Z" fill="#e8903a"/>
<path d="M1923.4,474.7C1925.8,472 1930.3,472.8 1936.2,473.1C1942.1,473.4 1955.6,473.6 1958.8,476.3C1962,479 1957.2,485.2 1955.6,489.2C1953.9,493.2 1951.8,497.5 1949.1,500.5C1946.4,503.4 1942.9,506.6 1939.5,506.9C1936,507.2 1931.1,505 1928.2,502.1C1925.2,499.1 1922.6,493.8 1921.8,489.2C1920.9,484.6 1920.9,477.4 1923.4,474.7Z" fill="#c43818"/>
<path d="M2232.4,440.9 2383.7,440.9 2383.7,540.7 2232.4,540.7Z" fill="#e8903a"/>
<path d="M2287.1,500.5C2289,500.2 2298.6,501.6 2300,502.1C2301.5,502.6 2304.4,505.6 2303.2,505.9C2302.1,506.3 2289.5,505.1 2287.8,505.9C2286,506.8 2285,514.7 2283.9,515.6C2282.8,516.5 2276.3,516.5 2275.9,515.6C2275.4,514.7 2278.1,506.7 2279.1,505.3C2280.1,503.9 2285.2,500.8 2287.1,500.5Z" fill="#f2cc50"/>
<path d="M2007.1,460.2 2026.4,460.2 2026.4,489.2 2007.1,489.2Z" fill="#e8903a"/>
<path d="M2184.1,379.7 2358,379.7 2358,431.2 2184.1,431.2Z" fill="#e8903a"/>
<path d="M1250,638.7 1870.6,638.7 1870.6,719.7 1250,719.7Z" fill="#e8903a"/>
<path d="M1250,682.3C1255.7,681.3 1303.9,682.3 1312.4,682.3C1320.9,682.3 1337.3,683.2 1343.6,682.3C1349.8,681.5 1375,674.7 1381,673C1386.9,671.2 1401.4,663.9 1409.1,663C1416.7,662.1 1460.1,662.1 1465.2,663C1470.3,663.9 1463.2,671.9 1465.2,673C1467.2,674 1483.1,673.4 1487,674.5C1491,675.7 1504.9,684.5 1508.9,685.4C1512.8,686.4 1527,685.9 1530.7,685.4C1534.4,685 1545.1,680.9 1549.4,680.8C1553.6,680.6 1576.3,683.2 1577.5,683.9C1578.6,684.6 1566.1,687.7 1561.9,688.6C1557.6,689.4 1539.2,692.7 1530.7,693.2C1522.2,693.8 1479.7,694.4 1468.3,694.8C1457,695.2 1415.9,697.5 1405.9,697.9C1396,698.3 1367.7,699.8 1359.2,699.5C1350.6,699.2 1319.5,694.9 1312.4,694.8C1305.3,694.7 1286.9,698.1 1281.2,697.9C1275.5,697.8 1252.8,694.7 1250,693.2C1247.2,691.8 1244.3,683.3 1250,682.3Z" fill="#f2cc50"/>
<path d="M1505.7,707.9C1522.7,707.6 1573.8,706.6 1593.1,706.3C1612.3,706.1 1698,704.9 1717.8,704.8C1737.7,704.6 1801.4,705.1 1811.4,704.8C1821.3,704.4 1824.1,703.4 1827,701C1829.8,698.7 1840.6,681.8 1842.6,679.2C1844.5,676.7 1846.1,673.8 1848.8,673C1851.5,672.1 1870.1,665.6 1872.2,669.8C1874.3,674.1 1928.7,715.2 1872.2,719.7C1815.6,724.3 1306.6,721.6 1250,719.7C1193.4,717.9 1247.2,700.8 1250,699.5C1252.8,698.1 1275.5,703.9 1281.2,704.8C1286.9,705.7 1301,709 1312.4,709.5C1323.7,709.9 1388.4,709.9 1405.9,709.8C1423.5,709.6 1488.7,708.2 1505.7,707.9Z" fill="#d4562b"/>
<path d="M1589.9,663.6C1589.7,663 1604.1,664.4 1605.5,663.6C1607,662.8 1601.2,655.7 1605.5,654.9C1609.8,654.1 1648.6,653.3 1652.9,654.9C1657.2,656.5 1647.7,670.8 1652.9,672.3C1658.2,673.9 1705.7,671.3 1710.9,672.3C1716.2,673.4 1712,682.4 1710.9,683.9C1709.9,685.4 1702.7,687.9 1699.1,688.6C1695.5,689.3 1675.8,691.7 1671,691.7C1666.2,691.7 1650.3,690 1646.1,688.6C1641.8,687.1 1627.6,677.8 1624.2,676.1C1620.8,674.4 1611.8,671 1608.7,669.8C1605.5,668.7 1590.2,664.2 1589.9,663.6Z" fill="#d4562b"/>
<path d="M1846.9,626.2 2470.6,626.2 2470.6,719.7 1846.9,719.7Z" fill="#e8903a"/>
<path d="M1821.9,671.4C1827.3,666.7 1865.9,665.8 1881.2,665.2C1896.5,664.5 1977.6,664.1 1990.3,664.2C2003.1,664.4 2017,665.9 2021.5,666.7C2026.1,667.5 2040.2,671.4 2040.2,673C2040.2,674.5 2021.2,682.5 2021.5,683.9C2021.8,685.3 2036.3,688.2 2043.4,688.6C2050.4,688.9 2090.7,688.4 2099.5,687.9C2108.3,687.5 2134.4,685 2140,683.9C2145.7,682.8 2159,678.1 2161.9,676.1C2164.7,674.1 2168.4,663.5 2171.2,662.1C2174.1,660.6 2179.7,660.4 2193.1,660.5C2206.4,660.6 2303.6,662 2317.8,663C2332,664 2348.1,668.7 2349,671.4C2349.8,674.2 2327.2,690.4 2327.2,693.2C2327.2,696.1 2342.8,701.3 2349,702.6C2355.2,703.9 2385.1,706.4 2395.8,707.3C2406.4,708.1 2459.6,711.1 2465.9,712C2472.3,712.8 2524.5,716.2 2465.9,716.6C2407.4,717.1 1880.5,720.7 1821.9,716.6C1763.4,712.5 1816.5,676.1 1821.9,671.4Z" fill="#d4562b"/>
<path d="M2411.4,653.6 2429.5,653.6 2429.5,669.8Z" fill="#f2cc50"/>
</g>
<g clip-path="url(#fb)"><use href="#coast" transform="translate(1257.2,91.8) scale(1.00000,0.99903)"/></g>
<rect x="1257.2" y="91.8" width="1208.4" height="620.3" fill="none" stroke="#000" stroke-width="1.5"/>
</g>
<g id="panel-c">
<g clip-path="url(#mc)">
<rect x="39.5" y="834.8" width="1208.3" height="620.9" fill="#d4562b"/>
<path d="M83.3,887.9C116.9,886.7 419.9,884.1 453.5,887.9C487.2,891.8 462.3,926 453.5,929.8C444.7,933.6 368.8,930.1 356.9,929.8C345.1,929.5 328.1,927.2 323.1,926.6C318.2,926 306.7,923.5 302.2,923.4C297.7,923.2 278.5,924.7 273.2,925C268,925.3 249.5,926.6 244.3,926.6C239,926.6 220.5,925.4 215.3,925C210,924.5 191,922.8 186.3,921.8C181.6,920.7 168.7,915 163.8,913.7C158.8,912.4 137.1,908.4 131.6,907.3C126,906.2 107,902 102.6,901.5C98.2,900.9 85,902.7 83.3,901.5C81.5,900.2 49.6,889.2 83.3,887.9Z" fill="#e8903a"/>
<path d="M384.3,931.4 400.4,931.4 400.4,940.1 384.3,940.1Z" fill="#e8903a"/>
<path d="M218.5,965.2C219,959.3 224.4,953.4 228.2,949.1C231.9,944.8 234.6,941.9 241,939.5C247.5,937 256.6,935.7 266.8,934.6C277,933.6 292.5,932.7 302.2,933C311.9,933.3 321,934.1 324.7,936.2C328.5,938.4 322.6,943.2 324.7,945.9C326.9,948.6 331.7,951 337.6,952.3C343.5,953.7 356.4,952.9 360.2,953.9C363.9,955 358,956.9 360.2,958.8C362.3,960.7 368.2,965.2 373,965.2C377.9,965.2 383.8,960.4 389.1,958.8C394.5,957.2 399.2,954.5 405.2,955.6C411.2,956.6 422.5,960.4 425.2,965.2C427.9,970 425.7,979.2 421.3,984.5C416.9,989.9 404.7,993.1 398.8,997.4C392.9,1001.7 390.7,1007.6 385.9,1010.3C381.1,1013 376.8,1013.5 369.8,1013.5C362.8,1013.5 352.6,1010.3 344.1,1010.3C335.5,1010.3 325.3,1011.9 318.3,1013.5C311.3,1015.1 307,1018.3 302.2,1019.9C297.4,1021.5 295.2,1023.2 289.3,1023.2C283.4,1023.2 272.7,1019.9 266.8,1019.9C260.9,1019.9 258.2,1023.4 253.9,1023.2C249.6,1022.9 244.8,1021.5 241,1018.3C237.3,1015.1 234.1,1009.5 231.4,1003.8C228.7,998.2 227.1,991 224.9,984.5C222.8,978.1 218,971.1 218.5,965.2Z" fill="#c43818"/>
<path d="M241,981.3C241.6,975.9 244.3,970 247.5,965.2C250.7,960.4 253.9,955.3 260.4,952.3C266.8,949.4 277.5,948 286.1,947.5C294.7,947 307.6,945.6 311.9,949.1C316.2,952.6 309.7,965.2 311.9,968.4C314,971.6 321,970 324.7,968.4C328.5,966.8 329,959.3 334.4,958.8C339.8,958.2 351.6,963.1 356.9,965.2C362.3,967.4 363.9,968.4 366.6,971.6C369.3,974.9 369.8,981.3 373,984.5C376.2,987.7 384.3,988.3 385.9,991C387.5,993.6 387.5,998.2 382.7,1000.6C377.9,1003 364.4,1004.9 356.9,1005.5C349.4,1006 345.1,1003.3 337.6,1003.8C330.1,1004.4 319.4,1008.4 311.9,1008.7C304.3,1008.9 299,1006.8 292.5,1005.5C286.1,1004.1 278.6,1000.6 273.2,1000.6C267.9,1000.6 265.2,1006 260.4,1005.5C255.5,1004.9 247.5,1001.4 244.3,997.4C241,993.4 240.5,986.7 241,981.3Z" fill="#ae2910"/>
<path d="M299,1042.5C299.5,1038.6 302.2,1033.4 305.4,1029.6C308.6,1025.8 312.9,1022.4 318.3,1019.9C323.7,1017.5 331.2,1016.5 337.6,1015.1C344.1,1013.8 350.5,1012.2 356.9,1011.9C363.4,1011.6 371.7,1012.7 376.2,1013.5C380.8,1014.3 384.3,1014 384.3,1016.7C384.3,1019.4 379.2,1026.3 376.2,1029.6C373.3,1032.9 375.2,1035.5 366.6,1036.7C358,1037.9 333.3,1035.7 324.7,1036.7C316.2,1037.6 317.1,1039.8 315.1,1042.5C313,1045.2 314.7,1051.1 312.5,1052.8C310.4,1054.5 304.5,1054.5 302.2,1052.8C299.9,1051.1 298.4,1046.3 299,1042.5Z" fill="#e8903a"/>
<path d="M326.3,1036.7C323.9,1036 338.1,1030.1 340.8,1029.6C343.6,1029.1 354.4,1030.6 356.9,1031.2C359.4,1031.9 371,1036.2 368.2,1036.7C365.4,1037.2 328.8,1037.3 326.3,1036.7Z" fill="#f2cc50"/>
<path d="M279.7,1036C280,1034.3 287.3,1031.1 289.3,1032.8C291.4,1034.6 300.4,1051.8 302.2,1055.4C304,1058.9 309.9,1070.6 309.3,1072.1C308.7,1073.6 297.9,1073.9 295.8,1072.1C293.7,1070.3 287.6,1055.4 286.1,1052.1C284.6,1048.9 279.4,1037.8 279.7,1036Z" fill="#c43818"/>
<path d="M257.8,1030.2C257.8,1028.8 263.9,1027.4 266.8,1030.2C269.7,1033.1 287.9,1058.6 289.3,1061.8C290.8,1065 284.9,1067.1 282.9,1065.7C280.8,1064.2 269.1,1048.9 266.8,1045.7C264.5,1042.5 257.8,1031.6 257.8,1030.2Z" fill="#e8903a"/>
<path d="M323.1,1082.7C324.4,1082.3 337,1083.3 339.2,1084.3C341.5,1085.4 348.1,1092.8 347.9,1094C347.8,1095.2 339.7,1097.6 337.6,1097.2C335.5,1096.8 326.1,1090.5 324.7,1089.2C323.4,1087.8 321.8,1083.2 323.1,1082.7Z" fill="#c43818"/>
<path d="M352.1,1095.6 360.8,1095.6 360.8,1103 352.1,1103Z" fill="#e8903a"/>
<path d="M414.9,849.3 582.3,849.3 582.3,936.2 414.9,936.2Z" fill="#e8903a"/>
<path d="M459.9,868.6C462.1,865.9 469.6,864.1 479.3,862.2C488.9,860.3 506.1,857.4 517.9,857.4C529.7,857.4 542.6,859.8 550.1,862.2C557.6,864.6 561.9,867.6 563,871.9C564,876.1 560.8,883.1 556.5,887.9C552.2,892.8 544.7,897.1 537.2,900.8C529.7,904.6 518.4,908.3 511.5,910.5C504.5,912.6 499.7,914.8 495.4,913.7C491.1,912.6 487.9,908.3 485.7,904C483.6,899.8 485.7,892.2 482.5,887.9C479.3,883.7 470.1,881.5 466.4,878.3C462.6,875.1 457.8,871.3 459.9,868.6Z" fill="#d4562b"/>
<path d="M480.9,870.2C481.9,866.2 490.8,864.9 498.6,863.8C506.4,862.7 519,862.7 527.6,863.8C536.1,864.9 546.3,866.8 550.1,870.2C553.8,873.7 553.3,880.2 550.1,884.7C546.9,889.3 537.7,894.1 530.8,897.6C523.8,901.1 514.1,904.8 508.2,905.7C502.3,906.5 498,905.4 495.4,902.4C492.7,899.5 494.6,893.3 492.1,887.9C489.7,882.6 479.8,874.3 480.9,870.2Z" fill="#c43818"/>
<path d="M530.8,871.9C531.8,871.5 542.6,872.8 543.7,873.5C544.7,874.1 543.1,878.6 542,878.9C541,879.3 533.4,878.3 532.4,877.6C531.4,877 529.8,872.2 530.8,871.9Z" fill="#ae2910"/>
<path d="M464.8,891.2C465.1,889.7 471.1,892.3 472.8,894.4C474.6,896.4 482.3,911 484.1,913.7C485.9,916.4 492.9,922.9 492.8,924C492.6,925.1 484.6,926.8 482.5,925.6C480.4,924.4 471.2,913.6 469.6,910.5C468,907.4 464.5,892.6 464.8,891.2Z" fill="#f2cc50"/>
<path d="M417.5,861.5C419,860.6 433.3,860.6 434.8,861.5C436.4,862.5 436.4,871.5 434.8,872.5C433.3,873.5 419,873.5 417.5,872.5C415.9,871.5 415.9,862.5 417.5,861.5Z" fill="#f2cc50"/>
<path d="M392.3,1108.5C396.9,1105.7 411.6,1108.1 418.1,1109.4C424.6,1110.8 430,1112.1 431.6,1116.5C433.2,1120.9 427.8,1129.9 427.8,1135.8C427.8,1141.7 433.2,1148.2 431.6,1151.9C430,1155.7 420.9,1155.2 418.1,1158.4C415.3,1161.6 418.1,1169.1 414.9,1171.2C411.7,1173.4 402.5,1169.5 398.8,1171.2C395,1173 395,1181.5 392.3,1181.5C389.7,1181.5 384.9,1176.2 382.7,1171.2C380.4,1166.3 379.3,1157.8 378.8,1151.9C378.4,1146 378.1,1140.1 380.1,1135.8C382.1,1131.5 388.7,1130.7 390.7,1126.2C392.8,1121.6 387.8,1111.3 392.3,1108.5Z" fill="#e8903a"/>
<path d="M394.9,1113.3C396.7,1112.3 416.1,1113.9 418.1,1114.9C420.1,1115.9 418.2,1123.5 416.5,1124.6C414.7,1125.6 400.7,1127.2 398.8,1126.2C396.8,1125.2 393.2,1114.3 394.9,1113.3Z" fill="#d4562b"/>
<path d="M450.3,1158.4C451.4,1155.2 457.3,1151.4 463.2,1151.9C469.1,1152.5 480.8,1158.4 485.7,1161.6C490.6,1164.8 492.8,1165.9 492.8,1171.2C492.8,1176.6 490.1,1189 485.7,1193.8C481.3,1198.6 472.3,1200.2 466.4,1200.2C460.5,1200.2 454,1196.5 450.3,1193.8C446.5,1191.1 442.8,1187.9 443.9,1184.1C444.9,1180.4 455.7,1175.5 456.7,1171.2C457.8,1167 449.2,1161.6 450.3,1158.4Z" fill="#c43818"/>
<path d="M437.4,1226C440.6,1222.2 445.5,1217.4 453.5,1216.3C461.6,1215.2 476.2,1220.4 485.7,1219.5C495.3,1218.6 506,1199.3 510.8,1210.8C515.6,1222.4 528.4,1275.8 514.7,1288.8C500.9,1301.7 442.6,1294.9 428.4,1288.8C414.2,1282.6 428.4,1260 429.4,1251.7C430.3,1243.4 432.9,1243.1 434.2,1238.9C435.5,1234.6 434.2,1229.7 437.4,1226Z" fill="#e8903a"/>
<path d="M397.2,1303.2 421.3,1303.2 421.3,1338.7 397.2,1338.7Z" fill="#e8903a"/>
<path d="M398.1,1322.6C399.1,1321.2 407.5,1321.2 408.4,1322.6C409.4,1323.9 409.4,1335.7 408.4,1337C407.5,1338.4 399.1,1338.4 398.1,1337C397.2,1335.7 397.2,1323.9 398.1,1322.6Z" fill="#f2cc50"/>
<path d="M401.4,1184.1C402.4,1183.2 411.3,1183.2 412.3,1184.1C413.3,1185.1 413.3,1193.5 412.3,1194.4C411.3,1195.4 402.4,1195.4 401.4,1194.4C400.4,1193.5 400.4,1185.1 401.4,1184.1Z" fill="#e8903a"/>
<path d="M510.8,1160.9 525.9,1160.9 525.9,1178.3 510.8,1178.3Z" fill="#e8903a"/>
<path d="M645.6,984.5C646,982.8 648.5,973.6 650.4,971.6C652.3,969.7 663,964.8 666.5,963.6C670,962.4 684.1,959.3 689,958.8C694,958.3 715.7,957.9 721.2,958.1C726.8,958.4 745.8,960.6 750.2,961.3C754.6,962.1 766,965.7 769.5,966.8C773,967.9 785,974 788.8,973.3C792.6,972.5 806.7,961 811.4,958.8C816.1,956.6 835.4,950.9 840.4,949.1C845.3,947.4 863.2,941.5 866.1,939.5C869,937.4 872.3,929.5 872.5,926.6C872.8,923.7 868.7,910.2 869.3,907.3C869.9,904.3 875.8,895.6 879,894.4C882.2,893.2 900.6,893.5 904.7,894.4C908.8,895.3 922,902 924.1,904C926.1,906.1 928.2,914.9 927.3,916.9C926.4,919 913.5,925.1 914.4,926.6C915.3,928 932,932.7 936.9,933C941.9,933.3 964.1,930.7 969.1,929.8C974.1,928.9 987,923.4 991.7,923.4C996.3,923.4 1015.7,928.3 1020.6,929.8C1025.6,931.3 1043.4,937.4 1046.4,939.5C1049.4,941.5 1053.8,949.4 1053.5,952.3C1053.2,955.3 1044.1,968.7 1043.2,971.6C1042.2,974.6 1045.5,982.5 1043.2,984.5C1040.8,986.6 1021.2,992.4 1017.4,994.2C1013.6,995.9 1003.1,1001.5 1001.3,1003.8C999.6,1006.2 1001,1018.8 998.1,1019.9C995.2,1021.1 974.7,1016.4 969.1,1016.7C963.6,1017 942.8,1022 936.9,1023.2C931.1,1024.3 909.7,1029.3 904.7,1029.6C899.8,1029.9 885.7,1025.5 882.2,1026.4C878.7,1027.3 869.9,1037.5 866.1,1039.3C862.3,1041 845,1045.1 840.4,1045.7C835.7,1046.3 818.1,1046.6 814.6,1045.7C811.1,1044.8 802.9,1039.3 801.7,1036C800.5,1032.8 804.6,1013.2 801.7,1010.3C798.8,1007.4 774.8,1003.8 769.5,1003.8C764.3,1003.8 749,1010.9 743.8,1010.3C738.5,1009.7 717.4,999.7 711.6,997.4C705.7,995.1 685.4,985.1 679.4,984.5C673.4,983.9 648.7,991 645.6,991C642.5,991 645.1,986.3 645.6,984.5Z" fill="#c43818"/>
<path d="M743.8,1005.5C746.1,1003.8 764.3,1005 769.5,1005.5C774.8,1005.9 798.2,1007.5 801.7,1010.3C805.2,1013.1 806.4,1032.2 808.2,1036C809.9,1039.8 819.6,1049.2 821,1052.1C822.5,1055.1 824.8,1065.9 824.3,1068.2C823.7,1070.6 816.9,1076.1 814.6,1077.9C812.3,1079.6 801.1,1087.8 798.5,1087.5C795.9,1087.3 788,1077.6 785.6,1074.7C783.3,1071.7 774.5,1058.9 772.7,1055.4C771,1051.8 768.9,1039 766.3,1036C763.7,1033.1 745.8,1025.9 743.8,1023.2C741.7,1020.4 741.4,1007.1 743.8,1005.5Z" fill="#c43818"/>
<path d="M1204.1,906.6C1208.1,905 1243.6,905 1247.6,906.6C1251.5,908.2 1251.5,922.4 1247.6,924C1243.6,925.6 1208.1,925.6 1204.1,924C1200.2,922.4 1200.2,908.2 1204.1,906.6Z" fill="#c43818"/>
<path d="M616.6,997.4 639.1,997.4 639.1,1010.3 616.6,1010.3Z" fill="#c43818"/>
<path d="M679.4,978.1C679.9,975.9 689,973 695.5,971.6C701.9,970.3 710,970.6 718,970C726.1,969.5 738.7,967.4 743.8,968.4C748.9,969.5 749.7,973.3 748.6,976.5C747.5,979.7 743.5,984.8 737.3,987.7C731.2,990.7 719.1,994.7 711.6,994.2C704.1,993.6 697.6,987.2 692.3,984.5C686.9,981.8 678.8,980.2 679.4,978.1Z" fill="#ae2910"/>
<path d="M862.9,962C862.9,960.5 878.4,956 882.2,955.6C886,955.1 900.9,957.3 904.7,957.2C908.5,957 919.7,954.1 924.1,953.9C928.4,953.8 948.9,955.1 953,955.6C957.1,956 965.6,959.4 969.1,958.8C972.6,958.2 988.1,950.1 991.7,949.1C995.2,948.1 1005.7,946.6 1007.8,947.5C1009.8,948.4 1014.2,956.6 1014.2,958.8C1014.2,961 1010.4,970.5 1007.8,971.6C1005.1,972.8 988.7,970.5 985.2,971.6C981.7,972.8 972.1,982.2 969.1,984.5C966.2,986.9 956.5,995.6 953,997.4C949.5,999.2 934.9,1003.6 930.5,1003.8C926.1,1004.1 908.5,1000 904.7,1000.6C900.9,1001.2 891.6,1008.8 888.6,1010.3C885.7,1011.7 874.9,1016.7 872.5,1016.7C870.2,1016.7 862.9,1012 862.9,1010.3C862.9,1008.5 871.7,999.7 872.5,997.4C873.4,995.1 871.7,986.9 872.5,984.5C873.4,982.2 883.1,973.7 882.2,971.6C881.3,969.6 862.9,963.5 862.9,962Z" fill="#ae2910"/>
<path d="M814.6,1019.9C817.3,1016.5 831.8,1014.6 837.1,1015.1C842.5,1015.6 846.3,1019.7 846.8,1023.2C847.3,1026.6 844.6,1033.9 840.4,1036C836.1,1038.2 825.3,1038.7 821,1036C816.7,1033.4 811.9,1023.4 814.6,1019.9Z" fill="#ae2910"/>
<path d="M840.4,1046.3C840.4,1044.2 853.2,1044.7 859.7,1042.5C866.1,1040.2 873.1,1035.5 879,1032.8C884.9,1030.1 889.7,1025.8 895.1,1026.4C900.4,1026.9 904.2,1033.4 911.2,1036C918.2,1038.7 928.3,1040.3 936.9,1042.5C945.5,1044.6 954.6,1046.5 962.7,1048.9C970.7,1051.3 978.2,1056.4 985.2,1057C992.2,1057.5 1000.7,1055.6 1004.5,1052.1C1008.4,1048.6 1005.2,1041.4 1008.4,1036C1011.6,1030.7 1020.2,1025.3 1023.9,1019.9C1027.5,1014.6 1025.7,1006.8 1030.3,1003.8C1034.9,1000.9 1047.2,982.9 1051.2,1002.2C1055.2,1021.5 1082.6,1100.2 1054.4,1119.7C1026.3,1139.3 911.4,1129.4 882.2,1119.7C853,1110.1 882.7,1072.5 879,1061.8C875.2,1051.1 866.1,1057.9 859.7,1055.4C853.2,1052.8 840.4,1048.5 840.4,1046.3Z" fill="#e8903a"/>
<path d="M882.2,1039.3C884.6,1037.1 892.1,1035.2 895.1,1036C898,1036.8 899.9,1041.4 899.9,1044.1C899.9,1046.8 898.3,1051.3 895.1,1052.1C891.9,1052.9 882.7,1051.1 880.6,1048.9C878.4,1046.8 879.8,1041.4 882.2,1039.3Z" fill="#f2cc50"/>
<path d="M957.9,1057C958.7,1055.1 962.4,1054 965.9,1057C969.4,1059.9 974.5,1071.7 978.8,1074.7C983.1,1077.6 987.9,1072.5 991.7,1074.7C995.4,1076.8 999.1,1082.7 1001.3,1087.5C1003.6,1092.4 1006,1100.3 1005.2,1103.6C1004.4,1107 1000.9,1108.6 996.5,1107.5C992.1,1106.4 983.9,1101.6 978.8,1097.2C973.7,1092.8 968.9,1085.9 965.9,1081.1C963,1076.3 962.4,1072.3 961.1,1068.2C959.7,1064.2 957.1,1058.8 957.9,1057Z" fill="#f2cc50"/>
<path d="M911.2,1059.2C912.6,1058.1 928.9,1056.3 930.5,1057C932.1,1057.6 930.3,1065.5 928.9,1066.6C927.4,1067.7 916,1069.5 914.4,1068.9C912.8,1068.2 909.7,1060.3 911.2,1059.2Z" fill="#d4562b"/>
<path d="M808.2,1084.3C808.2,1083.1 818,1076.2 821,1074.7C824.1,1073.1 840.1,1067.5 842,1067.6C843.9,1067.6 843.9,1073.4 842,1075.3C840.1,1077.2 824.1,1087.4 821,1088.2C818,1089 808.2,1085.6 808.2,1084.3Z" fill="#e8903a"/>
<path d="M1036.7,893.7C1039.9,893 1074.8,893.2 1078.6,893.7C1082.4,894.2 1075.1,898.7 1078.6,899.2C1082.1,899.7 1114.3,898.5 1117.2,899.2C1120.1,899.9 1113.1,906.4 1110.8,907.3C1108.4,908.1 1095.6,909 1091.5,908.9C1087.4,908.7 1070.1,906.2 1065.7,905.7C1061.3,905.1 1045.8,903.5 1043.2,902.4C1040.5,901.4 1033.5,894.5 1036.7,893.7Z" fill="#e8903a"/>
<path d="M668.1,923.4C670.3,921.2 690.1,910.9 692.3,912.1C694.5,913.3 694.5,934 692.3,936.2C690.1,938.4 670.3,937.4 668.1,936.2C665.9,935.1 665.9,925.6 668.1,923.4Z" fill="#e8903a"/>
<path d="M598.9,1036C609.6,1028.3 650.4,1024.2 663.3,1023.2C676.2,1022.1 670.8,1026.9 676.2,1029.6C681.5,1032.3 688,1037.1 695.5,1039.3C703,1041.4 712.1,1041.9 721.2,1042.5C730.4,1043 743.8,1040.3 750.2,1042.5C756.6,1044.6 758.8,1051.1 759.9,1055.4C760.9,1059.6 760.4,1066.6 756.6,1068.2C752.9,1069.8 744.8,1064.5 737.3,1065C729.8,1065.5 721.2,1070.9 711.6,1071.4C701.9,1072 690.1,1069.8 679.4,1068.2C668.7,1066.6 660.6,1061.5 647.2,1061.8C633.8,1062.1 607,1074.1 598.9,1069.8C590.9,1065.5 588.2,1043.8 598.9,1036Z" fill="#c43818"/>
<path d="M614.5,1036C620,1033.3 673,1028.1 678.9,1031.2C684.7,1034.3 681.8,1066.5 678.9,1069.8C675.9,1073.2 652.2,1069 646.7,1068.2C641.1,1067.5 620.6,1064.7 617.7,1061.8C614.8,1058.9 608.9,1038.8 614.5,1036Z" fill="#c43818"/>
<path d="M606.4,1098.8C607.6,1096.9 621.3,1096.2 624.1,1097.2C627,1098.2 637.1,1108 637.7,1110.1C638.2,1112.1 633,1119 630.6,1119.7C628.2,1120.5 613.5,1120 611.3,1118.1C609.1,1116.2 605.3,1100.7 606.4,1098.8Z" fill="#c43818"/>
<path d="M593.6,1055.4 605.5,1055.4 605.5,1105.3 593.6,1105.3Z" fill="#e8903a"/>
<path d="M608.6,1098.8C610.3,1097.6 625.5,1102.3 627.9,1103.6C630.2,1105 634.9,1111.8 634.3,1113.3C633.7,1114.8 623.8,1119.4 621.4,1119.7C619.1,1120 609.7,1118.4 608.6,1116.5C607.4,1114.6 606.8,1100 608.6,1098.8Z" fill="#c43818"/>
<path d="M697.1,1113.3C699.5,1110.1 707,1106.3 711.6,1106.9C716.1,1107.4 719.1,1115.7 724.5,1116.5C729.8,1117.3 738.4,1111.7 743.8,1111.7C749.1,1111.7 756.6,1114.1 756.6,1116.5C756.6,1118.9 748.6,1123 743.8,1126.2C738.9,1129.4 730.1,1131.5 727.7,1135.8C725.3,1140.1 730.9,1147.6 729.3,1151.9C727.7,1156.2 721.5,1161.6 718,1161.6C714.5,1161.6 711.3,1155.7 708.4,1151.9C705.4,1148.2 702.2,1143.3 700.3,1139.1C698.4,1134.8 697.6,1130.5 697.1,1126.2C696.6,1121.9 694.7,1116.5 697.1,1113.3Z" fill="#c43818"/>
<path d="M700.3,1132.6C700.5,1131 705.8,1123 706.8,1123C707.7,1123 711.1,1131 710.9,1132.6C710.8,1134.2 706.1,1140.7 705.1,1140.7C704.2,1140.7 700.2,1134.2 700.3,1132.6Z" fill="#ae2910"/>
<path d="M695.5,1184.1C698.2,1178.8 703.5,1169.1 708.4,1168C713.2,1167 721.5,1173.9 724.5,1177.7C727.4,1181.4 724.5,1186.3 726.1,1190.6C727.7,1194.9 730.6,1199.1 734.1,1203.4C737.6,1207.7 745.4,1211.5 747,1216.3C748.6,1221.1 745.9,1227.6 743.8,1232.4C741.6,1237.2 738.4,1242.6 734.1,1245.3C729.8,1248 722.8,1249.6 718,1248.5C713.2,1247.4 708.6,1243.7 705.1,1238.9C701.7,1234 699.2,1226 697.1,1219.5C694.9,1213.1 692.5,1206.1 692.3,1200.2C692,1194.3 692.8,1189.5 695.5,1184.1Z" fill="#c43818"/>
<path d="M700.3,1187.3C702.7,1183.9 708.1,1179.3 711.6,1179.3C715.1,1179.3 720.2,1183.3 721.2,1187.3C722.3,1191.4 716.9,1198.6 718,1203.4C719.1,1208.3 725.3,1211.5 727.7,1216.3C730.1,1221.1 733,1228.1 732.5,1232.4C732,1236.7 727.9,1241.5 724.5,1242.1C721,1242.6 715.3,1239.9 711.6,1235.6C707.8,1231.3 704.3,1222.2 701.9,1216.3C699.5,1210.4 697.4,1205.1 697.1,1200.2C696.8,1195.4 697.9,1190.8 700.3,1187.3Z" fill="#ae2910"/>
<path d="M727.7,1155.2C729.1,1153.7 742.3,1153.2 743.8,1151.9C745.2,1150.7 741.7,1142.6 743.8,1141.6C745.8,1140.7 763.3,1140.7 766.3,1141.6C769.3,1142.6 775.7,1148.1 776.6,1151.9C777.5,1155.8 777.3,1179.7 776.6,1184.1C776,1188.6 771.3,1199.3 769.5,1200.9C767.7,1202.4 758.4,1201.8 756.6,1200.9C754.9,1199.9 751.4,1193.3 750.2,1190.6C749,1187.9 745.8,1173.3 743.8,1171.2C741.7,1169.2 729.1,1169.5 727.7,1168C726.2,1166.6 726.2,1156.6 727.7,1155.2Z" fill="#e8903a"/>
<path d="M682,1143.9 692.9,1143.9 692.9,1155.8 682,1155.8Z" fill="#e8903a"/>
<path d="M706.8,1248.5 738.9,1248.5 738.9,1263 706.8,1263Z" fill="#e8903a"/>
<path d="M1017.4,1184.1 1168.7,1184.1 1168.7,1283.9 1017.4,1283.9Z" fill="#e8903a"/>
<path d="M1028.7,1227.6C1034.3,1225.2 1055.2,1228.7 1065.7,1227.6C1076.2,1226.5 1083.9,1221.7 1091.5,1221.1C1099,1220.6 1105.4,1221.4 1110.8,1224.4C1116.1,1227.3 1120.4,1233.2 1123.7,1238.9C1126.9,1244.5 1128.4,1251.3 1130.1,1258.2C1131.8,1265 1136.6,1276.7 1134,1280.1C1131.3,1283.4 1118.9,1281.8 1114,1278.1C1109.1,1274.5 1108.1,1263.6 1104.3,1258.2C1100.6,1252.7 1096.8,1248.5 1091.5,1245.3C1086.1,1242.1 1078,1239.7 1072.1,1238.9C1066.2,1238 1060.3,1238.3 1056,1240.5C1051.8,1242.6 1050.4,1248.4 1046.4,1251.7C1042.4,1255.1 1034.3,1262.4 1031.9,1260.7C1029.5,1259.1 1032.4,1247.6 1031.9,1242.1C1031.4,1236.5 1023,1230 1028.7,1227.6Z" fill="#d4562b"/>
<path d="M1143,1238.9C1144.1,1237.4 1152.3,1233.6 1153.3,1235.6C1154.3,1237.7 1154.9,1258.9 1153.9,1261.4C1153,1263.9 1144.2,1263.9 1143,1263C1141.7,1262.1 1140.4,1253.9 1140.4,1251.7C1140.4,1249.5 1141.8,1240.3 1143,1238.9Z" fill="#f2cc50"/>
<path d="M788.8,1197 811.4,1197 811.4,1235.6 788.8,1235.6Z" fill="#e8903a"/>
<path d="M969.1,1119.7 1143,1119.7 1143,1177.7 969.1,1177.7Z" fill="#e8903a"/>
<path d="M35,1381.8 657.2,1381.8 657.2,1466 35,1466Z" fill="#e8903a"/>
<path d="M141,1416.7C142.7,1416.1 175.1,1417.3 178.5,1416.7C181.9,1416.1 174.1,1410.5 178.5,1409.8C182.9,1409.2 222.3,1409 226.8,1409.8C231.3,1410.7 227.1,1417.8 228.4,1419.2C229.6,1420.6 238.6,1424.5 240.8,1425.4C243.1,1426.4 253.3,1429.3 253.3,1430.1C253.3,1431 244.8,1434.4 240.8,1434.8C236.9,1435.2 214.8,1435.4 209.6,1434.8C204.5,1434.2 189.2,1429.6 184.7,1428.6C180.2,1427.6 163.7,1425 159.7,1423.9C155.8,1422.8 139.3,1417.4 141,1416.7Z" fill="#f2cc50"/>
<path d="M35,1452.9C52,1451.5 196.6,1451.6 222.1,1451C247.6,1450.4 298.7,1447.3 315.7,1446.6C332.7,1446 395.1,1444.5 409.2,1444.2C423.4,1443.8 460.3,1442.6 471.6,1442.6C483,1442.6 522.7,1444.2 534,1444.2C545.3,1444.2 585.2,1443 596.4,1442.6C607.6,1442.2 651.7,1437.4 657.2,1439.5C662.7,1441.6 713.7,1463.6 657.2,1466C600.6,1468.4 91.6,1467.2 35,1466C-21.6,1464.8 18,1454.2 35,1452.9Z" fill="#d4562b"/>
<path d="M387.4,1409.2C388.3,1408.7 400.2,1412.2 403,1413C405.8,1413.7 416.2,1416.7 418.6,1417.6C421,1418.6 420.6,1422.7 429.5,1423.3C438.4,1423.8 510.2,1422.8 516.8,1423.3C523.5,1423.7 506.4,1427.5 502.8,1428.6C499.3,1429.6 480.7,1433.5 477.9,1434.8C475,1436.1 476.4,1442.5 471.6,1443.2C466.8,1444 429.9,1444 424.8,1443.2C419.7,1442.5 418,1436.1 415.5,1434.8C412.9,1433.5 398.8,1430 396.8,1428.6C394.8,1427.1 394.5,1421 393.7,1419.2C392.8,1417.4 386.6,1409.8 387.4,1409.2Z" fill="#d4562b"/>
<path d="M416.1,1390.5 436.7,1390.5 436.7,1398 416.1,1398Z" fill="#d4562b"/>
<path d="M35,1425.4C36.7,1424.9 51,1426.6 53.7,1427C56.4,1427.4 65.2,1429.5 64.6,1430.1C64.1,1430.8 50.2,1433.9 47.5,1434.2C44.8,1434.5 36.1,1434 35,1433.2C33.9,1432.4 33.3,1426 35,1425.4Z" fill="#d4562b"/>
<path d="M631.9,1366.2 1255.6,1366.2 1255.6,1466 631.9,1466Z" fill="#d4562b"/>
<path d="M610.1,1366.2C668.7,1362.1 1196.9,1358.3 1255.6,1366.2C1314.3,1374.1 1259.6,1445.4 1255.6,1452.9C1251.7,1460.4 1220.2,1449.8 1212,1448.8C1203.7,1447.9 1172.8,1443.7 1165.2,1442.6C1157.5,1441.5 1131.4,1437.6 1127.8,1436.4C1124.1,1435.1 1122.9,1429.7 1124.6,1428.6C1126.3,1427.4 1144.2,1425 1146.5,1423.9C1148.7,1422.7 1149.4,1417.8 1149.6,1416.1C1149.7,1414.4 1149.4,1406.3 1148,1405.2C1146.6,1404 1136.4,1403.2 1134,1403.6C1131.6,1404 1124.4,1409 1121.5,1409.8C1118.7,1410.7 1107.3,1412.7 1102.8,1413C1098.3,1413.2 1077.3,1412.6 1071.6,1412.3C1065.9,1412.1 1046.1,1409.7 1040.4,1409.8C1034.8,1410 1014.9,1413.8 1009.2,1414.5C1003.6,1415.2 983.7,1417.1 978.1,1417.6C972.4,1418.2 954,1420.1 946.9,1420.8C939.8,1421.4 908,1424.8 900.1,1424.8C892.2,1424.8 865.5,1421.8 859.5,1420.8C853.6,1419.7 837.7,1415.1 834.6,1413C831.5,1410.8 827.5,1398.5 825.2,1397.4C823,1396.2 814.2,1399.8 809.6,1400.5C805.1,1401.2 784.1,1404.5 775.3,1405.2C766.6,1405.8 723.5,1407.1 713,1407.4C702.5,1407.6 669.3,1407.9 659.9,1408.3C650.6,1408.7 614.6,1415.2 610.1,1411.4C605.5,1407.6 551.4,1370.3 610.1,1366.2Z" fill="#e8903a"/>
<path d="M610.1,1411.4C614,1409 648,1412 653.7,1413C659.4,1414 669,1420.3 672.4,1422.3C675.8,1424.3 690.3,1433.2 691.1,1434.8C692,1436.4 685.2,1439.1 681.8,1439.5C678.4,1439.9 660.2,1439.5 653.7,1439.5C647.2,1439.5 614,1442 610.1,1439.5C606.1,1436.9 606.1,1413.8 610.1,1411.4Z" fill="#e8903a"/>
<path d="M897,1392.7C898.4,1390.9 907.7,1385 915.7,1384.3C923.6,1383.5 978.1,1384.9 984.3,1384.3C990.5,1383.7 983.2,1378 984.3,1377.4C985.4,1376.8 995.6,1376.8 996.8,1377.4C997.9,1378 984.9,1383.7 996.8,1384.3C1008.7,1384.9 1118.1,1383.9 1127.8,1384.3C1137.4,1384.6 1110.7,1387.8 1102.8,1388C1094.9,1388.2 1050.1,1386.5 1040.4,1386.5C1030.8,1386.5 1002.4,1387.3 996.8,1388C991.1,1388.7 982.6,1393.4 978.1,1394.3C973.5,1395.1 951.1,1396.8 946.9,1397.4C942.6,1397.9 932.1,1399.5 931.3,1400.5C930.4,1401.5 937.8,1407.2 937.5,1408.3C937.2,1409.4 930.7,1412.7 928.2,1413C925.6,1413.3 912,1412.3 909.4,1411.4C906.9,1410.6 901.2,1405.3 900.1,1403.6C899,1401.9 895.6,1394.5 897,1392.7Z" fill="#f2cc50"/>
<path d="M974.9,1444.2C976.4,1443.4 986.3,1441.2 993.7,1441C1001,1440.9 1049.6,1442 1056,1442.6C1062.4,1443.2 1065.2,1446.5 1063.8,1447.3C1062.4,1448 1048.2,1450.8 1040.4,1451C1032.6,1451.2 984,1450.4 978.1,1449.8C972.1,1449.1 973.5,1444.9 974.9,1444.2Z" fill="#c43818"/>
<path d="M1224.4,1425.4C1226.1,1424.9 1243.4,1423.9 1246.3,1423.9C1249.1,1423.9 1254.8,1424.7 1255.6,1425.4C1256.5,1426.2 1258.2,1431.9 1255.6,1432.3C1253.1,1432.7 1230.4,1430.7 1227.6,1430.1C1224.7,1429.5 1222.7,1426 1224.4,1425.4Z" fill="#d4562b"/>
</g>
<g clip-path="url(#fc)"><use href="#coast" transform="translate(39.5,834.8) scale(0.99992,1.00000)"/></g>
<rect x="39.5" y="834.8" width="1208.3" height="620.9" fill="none" stroke="#000" stroke-width="1.5"/>
</g>
<g id="panel-d">
<g clip-path="url(#md)">
<rect x="1258.7" y="832.5" width="1208.4" height="622.1" fill="#e8903a"/>
<path d="M1370.9,924.6C1370,923.4 1385.5,921.4 1390.2,921.4C1394.9,921.4 1417.7,923.7 1422.4,924.6C1427.1,925.5 1438.2,931 1441.7,931C1445.2,931 1458.1,926.3 1461,924.6C1464,922.8 1472.5,914.6 1473.9,911.7C1475.4,908.8 1474.2,894.1 1477.1,892.4C1480.1,890.6 1502.9,890.9 1506.1,892.4C1509.3,893.8 1509,907.3 1512.5,908.5C1516.1,909.7 1539.2,905 1544.7,905.3C1550.3,905.6 1570.8,910.2 1573.7,911.7C1576.6,913.2 1579.6,920.2 1576.9,921.4C1574.3,922.5 1547.7,922.8 1544.7,924.6C1541.8,926.3 1541.2,938.3 1544.7,940.7C1548.3,943 1579,948.3 1583.4,950.3C1587.8,952.4 1590.7,962 1593,963.2C1595.4,964.4 1607.7,966.4 1609.1,963.2C1610.6,960 1607.7,930.4 1609.1,927.8C1610.6,925.2 1621.4,933.1 1625.2,934.2C1629,935.4 1646.8,938.6 1651,940.7C1655.1,942.7 1670.9,955 1670.9,956.8C1670.9,958.5 1654.8,960 1651,960C1647.1,960 1632.2,956.2 1628.4,956.8C1624.6,957.4 1612.1,965 1609.1,966.4C1606.2,967.9 1596.5,970.8 1596.2,972.9C1596,974.9 1606.2,986.9 1605.9,989C1605.6,991 1596.8,994.5 1593,995.4C1589.2,996.3 1568.4,998.6 1564.1,998.6C1559.7,998.6 1548,996.3 1544.7,995.4C1541.5,994.5 1532.2,990.4 1528.6,989C1525.1,987.5 1509.9,979.9 1506.1,979.3C1502.3,978.7 1489.7,983.1 1486.8,982.5C1483.9,981.9 1476.3,974.3 1473.9,972.9C1471.6,971.4 1463.4,968.2 1461,966.4C1458.7,964.7 1451.1,955.6 1448.2,953.6C1445.2,951.5 1433.2,945.7 1428.8,943.9C1424.5,942.1 1405.1,936 1399.9,934.2C1394.6,932.5 1371.8,925.8 1370.9,924.6Z" fill="#d4562b"/>
<path d="M1494.8,956.8C1496,955.7 1508,952.4 1512.5,951.9C1517.1,951.5 1541.2,951.5 1544.7,951.9C1548.3,952.4 1552.1,955.7 1551.2,956.8C1550.3,957.8 1536.8,961.5 1535.1,963.2C1533.3,965 1533,974.8 1531.9,976.1C1530.7,977.4 1523.4,978.6 1522.2,977.7C1521,976.8 1521,967.7 1519,966.4C1516.9,965.1 1501.9,964.1 1499.7,963.2C1497.5,962.3 1493.7,957.8 1494.8,956.8Z" fill="#c43818"/>
<path d="M1454.6,989C1455.9,986.9 1465.4,979 1467.5,979.3C1469.5,979.6 1476.3,990.1 1477.1,992.2C1478,994.2 1478,1000.8 1477.1,1001.8C1476.3,1002.9 1468.2,1002.4 1467.5,1003.5C1466.7,1004.5 1469.7,1012.2 1469.1,1013.1C1468.5,1014 1462.5,1014.1 1461,1013.1C1459.6,1012.1 1453.6,1004 1453,1001.8C1452.4,999.6 1453.3,991 1454.6,989Z" fill="#d4562b"/>
<path d="M1556,1008.3C1557.5,1007.3 1572,1005.9 1573.7,1006.7C1575.4,1007.5 1575.8,1016.3 1574.4,1017.3C1572.9,1018.3 1559.3,1018.8 1557.6,1017.9C1555.9,1017.1 1554.5,1009.3 1556,1008.3Z" fill="#d4562b"/>
<path d="M1618.8,897.2C1620.2,895.5 1639.1,896.6 1641.3,898.8C1643.5,901 1644.4,919.6 1642.9,921.4C1641.5,923.1 1627.4,920.3 1625.2,918.1C1623,915.9 1617.3,899 1618.8,897.2Z" fill="#d4562b"/>
<path d="M1258.2,903.7 1284,905.3 1284,915.6 1258.2,914.3Z" fill="#d4562b"/>
<path d="M1502.9,1005.1C1504.8,1004 1510.4,1011 1512.5,1014.7C1514.7,1018.5 1513.1,1024.4 1515.8,1027.6C1518.4,1030.8 1525.3,1031.9 1528.6,1034C1532,1036.2 1535.1,1033.9 1535.7,1040.5C1536.4,1047 1534.8,1067.3 1532.5,1073.3C1530.3,1079.3 1525.5,1078.2 1522.2,1076.5C1518.9,1074.8 1515.8,1066.9 1512.5,1063C1509.3,1059.1 1506.6,1057.6 1502.9,1053.4C1499.1,1049.1 1491.9,1041.5 1490,1037.3C1488.1,1033 1489.7,1030.3 1491.6,1027.6C1493.5,1024.9 1499.4,1024.9 1501.3,1021.2C1503.2,1017.4 1501,1006.1 1502.9,1005.1Z" fill="#f2cc50"/>
<path d="M1512.5,1037.3C1513.3,1036.1 1520.7,1039 1522.2,1040.5C1523.7,1041.9 1528,1050.4 1528.6,1053.4C1529.3,1056.3 1529.9,1072.1 1529.3,1073.3C1528.7,1074.5 1523.6,1068 1522.2,1066.2C1520.8,1064.4 1515,1056 1514.2,1053.4C1513.3,1050.7 1511.8,1038.4 1512.5,1037.3Z" fill="#e8903a"/>
<path d="M1548,1082.3C1548.1,1080.9 1559.1,1072.7 1560.8,1072.7C1562.6,1072.7 1566.1,1080.6 1567.3,1082.3C1568.4,1084.1 1572.5,1090.7 1573.7,1092C1574.9,1093.3 1580.6,1096.4 1580.2,1096.8C1579.7,1097.3 1570.8,1097.5 1568.9,1096.8C1567,1096.1 1561.1,1090.1 1559.2,1088.8C1557.3,1087.4 1547.8,1083.8 1548,1082.3Z" fill="#d4562b"/>
<path d="M1625.2,862.8C1630.1,860.1 1646.7,857.5 1654.2,857.6C1661.7,857.7 1665.5,859.2 1670.3,863.4C1675.1,867.6 1678.3,877.9 1683.2,882.7C1688,887.6 1694.4,889.2 1699.3,892.4C1704.1,895.6 1707.9,898.8 1712.1,902C1716.4,905.3 1723.3,907.7 1725,911.7C1726.7,915.7 1725.7,923.8 1722.4,926.2C1719.2,928.6 1710.6,928.6 1705.7,926.2C1700.8,923.8 1696,916.3 1692.8,911.7C1689.6,907.1 1689.6,903.7 1686.4,898.8C1683.2,894 1678.3,887 1673.5,882.7C1668.7,878.4 1665.5,874.6 1657.4,873.1C1649.4,871.6 1630.6,875.4 1625.2,873.7C1619.9,872 1620.4,865.5 1625.2,862.8Z" fill="#f2cc50"/>
<path d="M1718.6,874.7C1719.8,873.7 1733.5,873.9 1734.7,874.7C1735.8,875.4 1731.2,881.1 1731.5,882.7C1731.8,884.3 1738.2,891.1 1737.9,892.4C1737.6,893.7 1729.7,897.8 1728.2,897.2C1726.8,896.6 1722.7,888 1721.8,885.9C1720.9,883.9 1717.4,875.7 1718.6,874.7Z" fill="#d4562b"/>
<path d="M1771.7,882.7C1772.9,881.3 1785.5,878.2 1786.8,879.5C1788.2,880.8 1788.1,895.8 1786.8,897.2C1785.6,898.7 1774.7,896.9 1773.3,895.6C1771.9,894.3 1770.5,884.2 1771.7,882.7Z" fill="#d4562b"/>
<path d="M1715.4,853.1C1717.7,852.5 1738.8,852.5 1741.1,853.1C1743.5,853.8 1743.5,859.5 1741.1,860.2C1738.8,860.8 1717.7,860.8 1715.4,860.2C1713,859.5 1713,853.8 1715.4,853.1Z" fill="#f2cc50"/>
<path d="M1604.3,1109.7C1608.2,1105.8 1620.7,1109.3 1625.2,1110.7C1629.8,1112 1626.8,1115.5 1631.7,1117.7C1636.5,1120 1651,1121 1654.2,1124.2C1657.4,1127.4 1649.4,1133.3 1651,1137.1C1652.6,1140.8 1662.2,1142.4 1663.9,1146.7C1665.5,1151 1666,1159.6 1660.6,1162.8C1655.3,1166 1637,1163.9 1631.7,1166C1626.3,1168.2 1630.6,1175.7 1628.4,1175.7C1626.3,1175.7 1622,1166 1618.8,1166C1615.6,1166 1610.1,1171.7 1609.1,1175.7C1608.2,1179.7 1615.4,1191 1613,1190.2C1610.6,1189.4 1598.2,1177.6 1594.6,1170.9C1591,1164.2 1590.2,1156.1 1591.4,1149.9C1592.7,1143.8 1599.9,1140.5 1602,1133.8C1604.2,1127.1 1600.4,1113.6 1604.3,1109.7Z" fill="#f2cc50"/>
<path d="M1632.3,1233C1635.5,1229.8 1641.4,1227.6 1647.8,1227.2C1654.1,1226.8 1662.2,1230.4 1670.3,1230.4C1678.3,1230.4 1689.1,1229.1 1696,1227.2C1703,1225.3 1705.7,1221.9 1712.1,1219.1C1718.6,1216.4 1730.9,1189.8 1734.7,1210.5C1738.4,1231.1 1755.9,1321 1734.7,1343.1C1713.5,1365.2 1626.3,1353.8 1607.5,1343.1C1588.7,1332.4 1618.5,1294.8 1622,1278.7C1625.5,1262.6 1626.7,1254.1 1628.4,1246.5C1630.2,1238.9 1629.1,1236.2 1632.3,1233Z" fill="#f2cc50"/>
<path d="M1625.2,1269C1626.4,1267 1633.7,1261.1 1634.9,1262.6C1636,1264.1 1638.2,1281.9 1638.1,1285.1C1638,1288.4 1634.4,1296.6 1633.3,1298C1632.1,1299.5 1626.2,1302.4 1625.2,1301.2C1624.2,1300.1 1622,1288.1 1622,1285.1C1622,1282.2 1624.1,1271.1 1625.2,1269Z" fill="#e8903a"/>
<path d="M1663.9,1129C1663.9,1127.5 1671.5,1126.7 1673.5,1127.4C1675.6,1128.1 1684,1135 1686.4,1137.1C1688.7,1139.1 1696.6,1148.2 1699.3,1149.9C1701.9,1151.7 1713.3,1154.9 1715.4,1156.4C1717.4,1157.8 1722.1,1164.4 1721.8,1166C1721.5,1167.6 1714.2,1174.1 1712.1,1174.1C1710.1,1174.1 1701.6,1167.6 1699.3,1166C1696.9,1164.4 1688.7,1158.4 1686.4,1156.4C1684,1154.3 1675.6,1146 1673.5,1143.5C1671.5,1141 1663.9,1130.5 1663.9,1129Z" fill="#d4562b"/>
<path d="M1675.1,1177.3C1676.3,1176.4 1691.1,1175.2 1692.8,1175.7C1694.6,1176.1 1695.6,1181.2 1694.4,1182.1C1693.3,1183 1681.7,1185.8 1679.9,1185.3C1678.2,1184.9 1674,1178.2 1675.1,1177.3Z" fill="#d4562b"/>
<path d="M1989.5,979.3C1990.7,977 1998.9,971.1 2002.4,969.6C2005.9,968.2 2023.5,964.4 2028.2,963.2C2032.8,962 2050.7,958.5 2053.9,956.8C2057.1,955 2062.4,946.8 2063.6,943.9C2064.7,941 2067.4,927.5 2066.8,924.6C2066.2,921.7 2057.1,913.5 2057.1,911.7C2057.1,909.9 2063.6,906.4 2066.8,905.3C2070,904.1 2090.2,900.1 2092.5,898.8C2094.9,897.5 2089.6,891.5 2092.5,890.8C2095.5,890 2120.1,891.2 2124.7,890.8C2129.4,890.3 2141.1,887 2144.1,885.9C2147,884.9 2151.4,880.7 2156.9,879.5C2162.5,878.3 2197.8,873.1 2205.2,873.1C2212.7,873.1 2236.1,877.8 2239,879.5C2242,881.3 2237.9,889.5 2237.4,892.4C2237,895.3 2233.6,909.1 2234.2,911.7C2234.8,914.3 2240.6,920.5 2243.9,921.4C2247.1,922.2 2265.8,922.5 2269.6,921.4C2273.4,920.2 2281.9,910.1 2285.7,908.5C2289.5,906.9 2306.8,904.7 2311.5,903.7C2316.1,902.6 2332.5,897.9 2337.2,897.2C2341.9,896.5 2358.9,895.2 2363,895.6C2367.1,896 2372.6,901.5 2382.3,902C2391.9,902.6 2461.3,900.4 2469.2,902C2477.1,903.7 2473.3,917.7 2469.2,919.8C2465.1,921.8 2432,923.6 2424.1,924.6C2416.2,925.6 2389,931 2382.3,931C2375.6,931 2355.9,925.5 2350.1,924.6C2344.2,923.7 2323.8,921.4 2317.9,921.4C2312,921.4 2291.6,924.3 2285.7,924.6C2279.9,924.9 2258.2,924.3 2253.5,924.6C2248.8,924.9 2237.1,926.6 2234.2,927.8C2231.3,929 2225.1,934.8 2221.3,937.5C2217.5,940.1 2195.3,953.8 2192.3,956.8C2189.4,959.7 2188.5,967 2189.1,969.6C2189.7,972.3 2195.9,983.4 2198.8,985.7C2201.7,988.1 2219.9,993.9 2221.3,995.4C2222.8,996.9 2217.8,1001.3 2214.9,1001.8C2212,1002.4 2194.4,1002.1 2189.1,1001.8C2183.9,1001.6 2162.8,998.3 2156.9,998.6C2151.1,998.9 2128.5,1003.9 2124.7,1005.1C2120.9,1006.2 2115.1,1010 2115.1,1011.5C2115.1,1013 2125.9,1020.3 2124.7,1021.2C2123.6,1022 2106.3,1020.6 2102.2,1021.2C2098.1,1021.7 2083.8,1026.4 2079.7,1027.6C2075.6,1028.8 2060.6,1032.9 2057.1,1034C2053.6,1035.2 2043.7,1038.7 2041,1040.5C2038.4,1042.2 2030.5,1051.6 2028.2,1053.4C2025.8,1055.1 2018.2,1059.8 2015.3,1059.8C2012.4,1059.8 1998.6,1055.7 1996,1053.4C1993.3,1051 1987.2,1038.1 1986.3,1034C1985.4,1029.9 1986,1011.8 1986.3,1008.3C1986.6,1004.8 1989.2,998 1989.5,995.4C1989.8,992.8 1988.4,981.6 1989.5,979.3Z" fill="#d4562b"/>
<path d="M1815.7,1024.4C1820.4,1020.6 1860.2,1022.3 1867.2,1022.8C1874.2,1023.2 1890.6,1027.6 1892.9,1029.2C1895.3,1030.8 1890.9,1038.9 1892.9,1040.5C1895,1042.1 1910.8,1046 1915.5,1046.9C1920.2,1047.8 1940.1,1049.5 1944.5,1050.1C1948.8,1050.7 1960.3,1053.6 1963.8,1053.4C1967.3,1053.1 1979.6,1046.6 1983.1,1046.9C1986.6,1047.2 2000.1,1054.8 2002.4,1056.6C2004.7,1058.3 2010,1065.1 2008.8,1066.2C2007.7,1067.4 1993.6,1069.4 1989.5,1069.4C1985.4,1069.4 1969,1066.8 1963.8,1066.2C1958.5,1065.6 1937.4,1064 1931.6,1063C1925.7,1062 1904.7,1054.7 1899.4,1055C1894.1,1055.3 1878.3,1064.9 1873.6,1066.2C1868.9,1067.6 1853.1,1070.2 1847.9,1070.1C1842.6,1069.9 1818.6,1068.8 1815.7,1064.6C1812.8,1060.5 1811,1028.2 1815.7,1024.4Z" fill="#d4562b"/>
<path d="M1834.5,1034C1844.9,1028.7 1886.8,1015.7 1897.3,1021.2C1907.7,1026.6 1902.4,1058.8 1897.3,1066.9C1892.2,1074.9 1875.5,1069.6 1866.7,1069.4C1857.8,1069.3 1849.5,1068.9 1844.1,1066.2C1838.8,1063.5 1836.1,1058.7 1834.5,1053.4C1832.9,1048 1824,1039.4 1834.5,1034Z" fill="#d4562b"/>
<path d="M2102.2,905.3C2102.7,902 2111.9,900.2 2118.3,898.8C2124.7,897.5 2133.3,896.9 2140.8,897.2C2148.3,897.5 2156.9,898.6 2163.4,900.4C2169.8,902.3 2176.2,905.5 2179.5,908.5C2182.7,911.4 2185.4,915.7 2182.7,918.1C2180,920.6 2170.9,921.9 2163.4,923C2155.9,924 2145.7,925.4 2137.6,924.6C2129.6,923.8 2121,921.4 2115.1,918.1C2109.2,914.9 2101.7,908.5 2102.2,905.3Z" fill="#c43818"/>
<path d="M2094.2,891.7C2094.9,890 2107.9,890.2 2109.3,891.7C2110.7,893.3 2110.1,906.8 2109.3,908.5C2108.5,910.2 2102,911.9 2100.6,910.4C2099.2,908.9 2093.4,893.4 2094.2,891.7Z" fill="#c43818"/>
<path d="M2021.1,985.7C2021.8,983 2029.3,978.1 2031.4,977.7C2033.5,977.3 2043.1,979.9 2044.3,980.9C2045.4,981.9 2045.1,987.6 2044.3,989C2043.4,990.3 2034.9,993.6 2034.6,995.4C2034.3,997.2 2040,1006.2 2041,1008.3C2042.1,1010.3 2046.7,1016.9 2045.9,1017.9C2045,1019 2033.4,1020.4 2031.4,1019.5C2029.3,1018.7 2024.3,1011.4 2023.3,1008.3C2022.4,1005.2 2020.3,988.5 2021.1,985.7Z" fill="#e8903a"/>
<path d="M1921.9,974.5C1923,973.2 1933.3,971.5 1934.8,972.2C1936.3,973 1939,980.9 1938.7,982.5C1938.4,984.1 1933,989.3 1931.6,989.6C1930.1,989.9 1923.4,987.1 1922.6,985.7C1921.7,984.4 1920.8,975.7 1921.9,974.5Z" fill="#d4562b"/>
<path d="M1835,995.4 1864,995.4 1864,1008.9 1835,1008.9Z" fill="#d4562b"/>
<path d="M1837.7,995.4 1866.7,995.4 1866.7,1016.3 1850.6,1016.3 1850.6,1008.3 1837.7,1008.3Z" fill="#d4562b"/>
<path d="M2391.9,939.1 2411.9,939.1 2411.9,951 2391.9,951Z" fill="#d4562b"/>
<path d="M1996,1067.8C1997,1066.2 2007.8,1072.7 2015.3,1072.7C2022.8,1072.7 2033.5,1071.1 2041,1067.8C2048.5,1064.6 2056.3,1053.6 2060.4,1053.4C2064.4,1053.1 2066.3,1062.5 2065.2,1066.2C2064.1,1070 2059,1072.1 2053.9,1075.9C2048.8,1079.6 2041,1085.4 2034.6,1088.8C2028.2,1092.1 2019.6,1096.9 2015.3,1095.8C2011,1094.8 2012.1,1087 2008.8,1082.3C2005.6,1077.7 1994.9,1069.4 1996,1067.8Z" fill="#f2cc50"/>
<path d="M2074.8,1050.1C2075.9,1048 2084.8,1046.4 2089.3,1043.7C2093.9,1041 2098.4,1036.7 2102.2,1034C2106,1031.4 2108.1,1027.1 2111.9,1027.6C2115.6,1028.1 2119.4,1035.1 2124.7,1037.3C2130.1,1039.4 2138.7,1040.2 2144.1,1040.5C2149.4,1040.7 2152.1,1038.3 2156.9,1038.9C2161.8,1039.4 2167.7,1041.8 2173,1043.7C2178.4,1045.6 2184.3,1046.4 2189.1,1050.1C2194,1053.9 2198.2,1064.6 2202,1066.2C2205.8,1067.8 2208.4,1062.5 2211.7,1059.8C2214.9,1057.1 2216.5,1051.2 2221.3,1050.1C2226.1,1049.1 2235.8,1055 2240.6,1053.4C2245.5,1051.7 2249.2,1043.7 2250.3,1040.5C2251.4,1037.3 2244.9,1035.1 2247.1,1034C2249.2,1033 2259.1,1032.4 2263.2,1034C2267.2,1035.6 2269.9,1029.7 2271.2,1043.7C2272.6,1057.6 2301,1105.4 2271.2,1117.7C2241.4,1130.1 2122.3,1126.3 2092.5,1117.7C2062.8,1109.2 2094.2,1076.4 2092.5,1066.2C2090.9,1056 2085.8,1059.3 2082.9,1056.6C2079.9,1053.9 2073.8,1052.3 2074.8,1050.1Z" fill="#f2cc50"/>
<path d="M2118.3,1046.9C2121,1042.9 2126.9,1041.5 2131.2,1042.1C2135.5,1042.6 2140.3,1047.2 2144.1,1050.1C2147.8,1053.1 2153.7,1056.6 2153.7,1059.8C2153.7,1063 2148.9,1067.3 2144.1,1069.4C2139.2,1071.6 2129.6,1073.2 2124.7,1072.7C2119.9,1072.1 2116.2,1070.5 2115.1,1066.2C2114,1061.9 2115.6,1050.9 2118.3,1046.9Z" fill="#e8903a"/>
<path d="M2086.1,1044.3C2087,1042.9 2100.3,1034.5 2102.2,1034C2104.1,1033.5 2107.9,1037.4 2107,1038.9C2106.2,1040.3 2094.4,1049.6 2092.5,1050.1C2090.6,1050.6 2085.2,1045.8 2086.1,1044.3Z" fill="#fbfaff"/>
<path d="M2279.3,995.4C2278.2,992.2 2282.5,984.1 2285.7,979.3C2288.9,974.5 2294.3,969.6 2298.6,966.4C2302.9,963.2 2307.2,960.5 2311.5,960C2315.8,959.5 2321.1,961.6 2324.3,963.2C2327.6,964.8 2331.8,966.4 2330.8,969.6C2329.7,972.9 2323.3,978.8 2317.9,982.5C2312.5,986.3 2302.9,989.5 2298.6,992.2C2294.3,994.9 2295.4,998.1 2292.1,998.6C2288.9,999.2 2280.3,998.6 2279.3,995.4Z" fill="#f2cc50"/>
<path d="M1967,937.5C1968,936.7 1977.2,936.7 1978.3,937.5C1979.3,938.2 1979.3,944.8 1978.3,945.5C1977.2,946.2 1968,946.2 1967,945.5C1966,944.8 1966,938.2 1967,937.5Z" fill="#f2cc50"/>
<path d="M1907.4,935.8 1915.5,935.8 1915.5,943.9 1907.4,943.9Z" fill="#f2cc50"/>
<path d="M1899.4,1082.3C1900.3,1081.3 1914.6,1077.9 1918.7,1077.5C1922.8,1077.1 1940.4,1077.1 1944.5,1077.5C1948.6,1077.9 1960,1082.2 1963.8,1082.3C1967.6,1082.5 1984,1078.8 1986.3,1079.1C1988.6,1079.4 1992.2,1084.6 1989.5,1085.5C1986.9,1086.5 1962.6,1089.4 1957.3,1089.4C1952.1,1089.4 1936,1085.6 1931.6,1085.5C1927.2,1085.5 1912,1089.1 1909,1088.8C1906.1,1088.5 1898.5,1083.4 1899.4,1082.3Z" fill="#f2cc50"/>
<path d="M1864,1081.7 1889.7,1081.7 1889.7,1084.6 1864,1084.6Z" fill="#f2cc50"/>
<path d="M1810.3,1053.4C1812.2,1047.3 1818.1,1049.1 1821.6,1050.1C1825.1,1051.2 1829.1,1055.5 1831.3,1059.8C1833.4,1064.1 1835.5,1071.5 1834.5,1075.9C1833.4,1080.3 1828.8,1084.5 1824.8,1086.2C1820.8,1087.9 1812.7,1091.7 1810.3,1086.2C1807.9,1080.7 1808.5,1059.4 1810.3,1053.4Z" fill="#f2cc50"/>
<path d="M1824.8,1111.3C1826.6,1110 1844,1113.9 1850.6,1114.5C1857.2,1115.1 1893,1116.4 1897.3,1117.7C1901.5,1119.1 1903.3,1128 1897.3,1129C1891.3,1130 1837.8,1130.6 1831.3,1129C1824.7,1127.4 1823.1,1112.6 1824.8,1111.3Z" fill="#f2cc50"/>
<path d="M1828.6,1116.1C1832.7,1115.3 1868.7,1117 1873.6,1117.7C1878.6,1118.5 1887.4,1123.3 1883.3,1124.2C1879.2,1125.1 1833.5,1128.1 1828.6,1127.4C1823.6,1126.7 1824.5,1117 1828.6,1116.1Z" fill="#f2cc50"/>
<path d="M1976.6,1111.3C1977.8,1109.3 1987.2,1101.3 1989.5,1101.6C1991.9,1101.9 1998.7,1114 2002.4,1114.5C2006.1,1115 2027.3,1106.3 2029.8,1107.4C2032.3,1108.6 2031.1,1125 2029.8,1127.4C2028.5,1129.8 2018.4,1131.5 2015.3,1133.8C2012.2,1136.2 1997.7,1148.8 1996,1153.2C1994.3,1157.5 1997.5,1178 1996.6,1182.1C1995.7,1186.3 1988.7,1198.3 1986.3,1198.9C1983.9,1199.5 1972.8,1190.4 1970.2,1188.6C1967.6,1186.7 1960,1179.2 1957.3,1178.9C1954.7,1178.6 1943,1186.2 1941.2,1185.3C1939.5,1184.5 1939.8,1171.3 1938,1169.2C1936.3,1167.2 1923.4,1164.9 1921.9,1162.8C1920.5,1160.8 1923.1,1149.1 1921.9,1146.7C1920.8,1144.4 1911.4,1138.8 1909,1137.1C1906.6,1135.3 1896.8,1129.2 1895.5,1127.4C1894.3,1125.6 1893.7,1117.7 1895.5,1117.7C1897.3,1117.7 1911.3,1125.9 1915.5,1127.4C1919.6,1128.9 1937.4,1133.5 1941.2,1133.8C1945,1134.1 1954.7,1130.3 1957.3,1130.6C1960,1130.9 1968.5,1137.6 1970.2,1137.1C1972,1136.5 1976.1,1126.5 1976.6,1124.2C1977.2,1121.8 1975.5,1113.3 1976.6,1111.3Z" fill="#f2cc50"/>
<path d="M1947.7,1159.6C1948.4,1158.9 1955,1158.9 1955.7,1159.6C1956.5,1160.3 1956.5,1166.9 1955.7,1167.6C1955,1168.4 1948.4,1168.4 1947.7,1167.6C1946.9,1166.9 1946.9,1160.3 1947.7,1159.6Z" fill="#e8903a"/>
<path d="M1957.3,1224C1959.4,1221 1968.3,1214.3 1970.2,1214.3C1972.1,1214.3 1978.3,1221.6 1978.3,1224C1978.3,1226.3 1972,1237 1970.2,1240.1C1968.5,1243.1 1962.9,1255.9 1958.9,1257.8C1955,1259.7 1929.8,1261.4 1926.8,1261C1923.7,1260.6 1923.9,1254.3 1925.8,1252.9C1927.7,1251.6 1944.8,1249.1 1947.7,1246.5C1950.5,1243.9 1955.3,1226.9 1957.3,1224Z" fill="#f2cc50"/>
<path d="M1903.2,1198.2 1912.3,1198.2 1912.3,1230.4 1903.2,1230.4Z" fill="#f2cc50"/>
<path d="M2008.8,1195 2031.4,1195 2031.4,1233.6 2008.8,1233.6Z" fill="#f2cc50"/>
<path d="M2237.4,1178.9 2475.6,1178.9 2475.6,1310.9 2237.4,1310.9Z" fill="#f2cc50"/>
<path d="M2276,1201.4C2278.1,1199.7 2291.6,1192.1 2295.4,1191.8C2299.2,1191.5 2316.4,1197.1 2317.9,1198.2C2319.4,1199.4 2313.8,1203.8 2311.5,1204.7C2309.1,1205.5 2294.8,1207 2292.1,1207.9C2289.5,1208.8 2284.2,1214 2282.5,1214.3C2280.7,1214.6 2273.4,1212.3 2272.8,1211.1C2272.2,1209.9 2274,1203.2 2276,1201.4Z" fill="#e8903a"/>
<path d="M2317.9,1222.4C2318.8,1220.8 2323.3,1218.4 2324.3,1219.1C2325.4,1219.9 2329.5,1228.2 2329.2,1230.4C2328.9,1232.6 2322.4,1242.7 2321.1,1243.3C2319.8,1243.9 2315,1238.8 2314.7,1236.9C2314.4,1235 2317,1224 2317.9,1222.4Z" fill="#e8903a"/>
<path d="M2332.4,1249.7C2333.1,1248.9 2339.7,1248.9 2340.4,1249.7C2341.2,1250.6 2341.2,1258.5 2340.4,1259.4C2339.7,1260.3 2333.1,1260.3 2332.4,1259.4C2331.7,1258.5 2331.7,1250.6 2332.4,1249.7Z" fill="#e8903a"/>
<path d="M2182.7,1117.7 2363,1117.7 2363,1175.7 2182.7,1175.7Z" fill="#f2cc50"/>
<path d="M2245.5,1143.5C2245.8,1142 2249.7,1136.5 2250.3,1137.1C2250.9,1137.6 2252.2,1148.5 2251.9,1149.9C2251.6,1151.4 2247.7,1153.7 2247.1,1153.2C2246.5,1152.6 2245.2,1145 2245.5,1143.5Z" fill="#e8903a"/>
<path d="M1255,1359.5 2476.2,1359.5 2476.2,1436.3 2439.4,1433.2 2408.7,1427.1 2396.4,1417.8 2378,1403.7 2347.4,1396.4 2298.3,1399.4 2236.9,1395.1 2169.4,1395.1 2151,1402.5 2132.6,1403.7 2114.2,1393.3 2089.6,1390.2 2071.2,1382.9 2040.5,1384.1 1991.4,1389 1930.1,1391.5 1868.7,1393.3 1831.9,1399.4 1807.3,1407.4 1776.6,1413.6 1733.7,1419.7 1684.6,1417.8 1647.8,1413.6 1632.4,1414.8 1644.7,1420.9 1635.5,1425.8 1610.9,1428.3 1561.8,1432 1500.5,1436.3 1439.1,1440.6 1377.7,1444.2 1316.4,1442.4 1255,1438.1Z" fill="#f2cc50"/>
</g>
<g clip-path="url(#fd)"><use href="#coast" transform="translate(1258.7,832.5) scale(1.00000,1.00193)"/></g>
<rect x="1258.7" y="832.5" width="1208.4" height="622.1" fill="none" stroke="#000" stroke-width="1.5"/>
</g>
<g id="panel-e">
<g clip-path="url(#me)">
<rect x="28.4" y="1590.1" width="1208.4" height="620.8" fill="#c43818"/>
<path d="M223.6,1726.6C225.2,1722.4 229,1719.4 233.3,1717C237.5,1714.6 241.3,1713.8 249.4,1712.2C257.4,1710.6 272.4,1708.4 281.5,1707.3C290.7,1706.3 298.7,1706.8 304.1,1705.7C309.4,1704.7 309.4,1700.6 313.7,1700.9C318,1701.2 323.9,1704.7 329.8,1707.3C335.7,1710 343.2,1714.3 349.2,1717C355.1,1719.7 360.4,1722.9 365.2,1723.4C370.1,1724 372.8,1719.7 378.1,1720.2C383.5,1720.7 392.1,1724 397.4,1726.6C402.8,1729.3 409.2,1733.1 410.3,1736.3C411.4,1739.5 407.6,1743.3 403.9,1746C400.1,1748.6 393.1,1749.7 387.8,1752.4C382.4,1755.1 378.7,1760.7 371.7,1762.1C364.7,1763.4 354,1761 345.9,1760.5C337.9,1759.9 330.9,1758.3 323.4,1758.8C315.9,1759.4 307.8,1763.4 300.9,1763.7C293.9,1763.9 288,1760.2 281.5,1760.5C275.1,1760.7 267.6,1765.3 262.2,1765.3C256.9,1765.3 254.7,1762.1 249.4,1760.5C244,1758.8 234.3,1758.6 230,1755.6C225.7,1752.7 224.7,1747.6 223.6,1742.7C222.5,1737.9 222,1730.9 223.6,1726.6Z" fill="#ae2910"/>
<path d="M178.5,1684.8C181.2,1682.4 193,1680 197.8,1680C202.7,1680 206.4,1682.4 207.5,1684.8C208.6,1687.2 203.2,1691.8 204.3,1694.5C205.4,1697.1 213.9,1698.7 213.9,1700.9C213.9,1703 208,1707.9 204.3,1707.3C200.5,1706.8 195.2,1699.8 191.4,1697.7C187.6,1695.5 183.9,1696.6 181.7,1694.5C179.6,1692.3 175.8,1687.2 178.5,1684.8Z" fill="#ae2910"/>
<path d="M249.4,1657.4C253.2,1656.4 287.4,1656.4 291.2,1657.4C295,1658.5 295,1668.3 291.2,1669.3C287.4,1670.4 253.2,1670.4 249.4,1669.3C245.5,1668.3 245.5,1658.5 249.4,1657.4Z" fill="#ae2910"/>
<path d="M213.9,1778.2C216.6,1767.3 224.1,1777 230,1777.5C235.9,1778.1 242.9,1779.7 249.4,1781.4C255.8,1783.1 263.3,1788.4 268.7,1787.8C274,1787.3 276.2,1780.7 281.5,1778.2C286.9,1775.6 293.3,1773.7 300.9,1772.4C308.4,1771 319.1,1770.8 326.6,1770.1C334.1,1769.5 337.6,1768.7 345.9,1768.5C354.2,1768.3 371.4,1756.8 376.5,1769.1C381.6,1781.5 403.6,1830.3 376.5,1842.5C349.4,1854.8 241,1853.3 213.9,1842.5C186.8,1831.8 211.3,1789 213.9,1778.2Z" fill="#d4562b"/>
<path d="M294.4,1832.9C295,1831.7 302.3,1829.1 304.1,1829.7C305.8,1830.3 311.1,1839.3 313.7,1839.3C316.4,1839.3 330.9,1829.4 333.1,1829.7C335.2,1830 336.7,1840.8 337.9,1842.5C339.1,1844.3 345.2,1847.8 345.9,1849C346.7,1850.2 347.7,1855.7 345.9,1856.1C344.2,1856.4 330.1,1853.9 326.6,1852.8C323.1,1851.8 309.9,1845.7 307.3,1844.8C304.7,1843.9 298.8,1843.6 297.6,1842.5C296.5,1841.5 293.8,1834.1 294.4,1832.9Z" fill="#e8903a"/>
<path d="M78.7,1681.6C79.6,1681 94.2,1687.1 98,1688C101.8,1688.9 119.4,1690.5 120.6,1691.2C121.8,1692 113.8,1695.8 110.9,1696.1C108,1696.4 91.3,1695.8 88.4,1694.5C85.5,1693.1 77.9,1682.2 78.7,1681.6Z" fill="#d4562b"/>
<path d="M391,1604.3 597,1604.3 597,1694.5 391,1694.5Z" fill="#d4562b"/>
<path d="M426.4,1630.1C430.7,1626.9 455.9,1619.6 474.7,1617.2C493.5,1614.8 524.1,1615 539.1,1615.6C554.1,1616.1 562.7,1616.9 564.8,1620.4C567,1623.9 556.3,1632.8 552,1636.5C547.7,1640.3 543.4,1639.2 539.1,1642.9C534.8,1646.7 532.7,1654.8 526.2,1659C519.8,1663.3 507.4,1667.6 500.5,1668.7C493.5,1669.8 488.7,1667.6 484.4,1665.5C480.1,1663.3 477.9,1659 474.7,1655.8C471.5,1652.6 469.3,1649.4 465,1646.2C460.8,1642.9 455.4,1639.2 448.9,1636.5C442.5,1633.8 422.1,1633.3 426.4,1630.1Z" fill="#c43818"/>
<path d="M461.8,1659C462.4,1658.2 472.9,1663.7 474.7,1665.5C476.5,1667.2 480,1676.3 481.1,1678.4C482.3,1680.5 488.2,1687.7 487.6,1688.7C487,1689.6 476.5,1689.9 474.7,1688.7C472.9,1687.4 469.4,1677.8 468.3,1675.1C467.1,1672.4 461.2,1659.9 461.8,1659Z" fill="#e8903a"/>
<path d="M539.1,1642.9C540.6,1640.6 554,1632.1 555.2,1633.3C556.4,1634.5 554.1,1653.5 552.6,1655.8C551.1,1658.2 540.3,1660.2 539.1,1659C537.9,1657.9 537.6,1645.3 539.1,1642.9Z" fill="#e8903a"/>
<path d="M558.4,1671.9 587.4,1671.9 587.4,1681.6 558.4,1681.6Z" fill="#e8903a"/>
<path d="M345.9,1858.6 526.2,1858.6 526.2,2106.5 345.9,2106.5Z" fill="#d4562b"/>
<path d="M376.5,1866.7C380.4,1863.9 389.1,1866.9 397.4,1867.7C405.8,1868.5 421,1869.8 426.4,1871.5C431.8,1873.2 432.3,1875.8 429.6,1878C427,1880.1 416.2,1882.5 410.3,1884.4C404.4,1886.3 398.5,1888.7 394.2,1889.2C389.9,1889.8 387.2,1885.7 384.6,1887.6C381.9,1889.5 381.6,1897.2 378.1,1900.5C374.6,1903.8 366.1,1908.6 363.6,1907.6C361.2,1906.5 361.9,1897.9 363.6,1894.1C365.4,1890.2 372.1,1889 374.3,1884.4C376.4,1879.8 372.7,1869.5 376.5,1866.7Z" fill="#e8903a"/>
<path d="M394.2,2003.5C397.7,1995.5 405.2,1990.9 408.7,1987.4C412.2,1983.9 412.7,1981.2 415.1,1982.6C417.6,1983.9 419.2,1990.9 423.2,1995.5C427.2,2000 434.5,2009.4 439.3,2009.9C444.1,2010.5 448.4,2003.2 452.2,1998.7C455.9,1994.1 455.9,1986.6 461.8,1982.6C467.7,1978.6 481.1,1979.1 487.6,1974.5C494,1970 494.8,1962.2 500.5,1955.2C506.1,1948.2 517.9,1908.5 521.4,1932.7C524.9,1956.8 545.3,2072.2 521.4,2100.1C497.5,2128 400.4,2110.8 378.1,2100.1C355.9,2089.4 385.1,2051.8 387.8,2035.7C390.5,2019.6 390.7,2011.6 394.2,2003.5Z" fill="#e8903a"/>
<path d="M391,2026C391.9,2023.7 399.3,2018.7 400.7,2019.6C402,2020.5 404.8,2032.2 405.5,2035.7C406.2,2039.2 409.1,2055.3 408.7,2058.2C408.3,2061.2 402.1,2067.3 400.7,2067.9C399.2,2068.5 393.5,2066.7 392.6,2064.7C391.7,2062.6 391.1,2048.9 391,2045.4C390.9,2041.9 390.1,2028.4 391,2026Z" fill="#d4562b"/>
<path d="M387.8,1940.7C388.9,1939.1 398,1939.7 403.9,1939.1C409.8,1938.6 418.9,1935.9 423.2,1937.5C427.5,1939.1 428,1945.3 429.6,1948.8C431.2,1952.3 433.9,1956 432.9,1958.4C431.8,1960.9 427,1963.8 423.2,1963.3C419.4,1962.7 414.6,1957.6 410.3,1955.2C406,1952.8 401.2,1951.2 397.4,1948.8C393.7,1946.4 386.7,1942.3 387.8,1940.7Z" fill="#c43818"/>
<path d="M810,1665.5C813,1664.6 831.1,1663.1 835.8,1662.3C840.5,1661.4 856.3,1657 861.5,1655.8C866.8,1654.7 887.9,1650.6 893.7,1649.4C899.6,1648.2 920.1,1644 925.9,1642.9C931.8,1641.9 952.3,1638.3 958.1,1638.1C964,1638 984.5,1640.5 990.3,1641.3C996.2,1642.2 1016.7,1647 1022.5,1647.8C1028.4,1648.5 1050.6,1648.7 1054.7,1649.4C1058.8,1650.1 1066.7,1654.1 1067.6,1655.8C1068.5,1657.6 1064.1,1666.4 1064.4,1668.7C1064.7,1671 1071.7,1679.5 1070.8,1681.6C1069.9,1683.6 1055.6,1688.9 1054.7,1691.2C1053.8,1693.6 1061.7,1705 1061.1,1707.3C1060.6,1709.7 1051.8,1716.4 1048.3,1717C1044.8,1717.6 1027.8,1714.5 1022.5,1713.8C1017.2,1713 996.2,1709.5 990.3,1708.9C984.5,1708.4 964,1706.9 958.1,1707.3C952.3,1707.8 930,1712.3 925.9,1713.8C921.8,1715.2 913.1,1722 913.1,1723.4C913.1,1724.9 922.4,1728.7 925.9,1729.9C929.4,1731 948.5,1735.1 951.7,1736.3C954.9,1737.5 962.2,1741.6 961.3,1742.7C960.5,1743.9 944.7,1747.7 942,1749.2C939.4,1750.6 935,1758.6 932.4,1758.8C929.7,1759.1 916.6,1753.6 913.1,1752.4C909.5,1751.2 897,1747.1 893.7,1746C890.5,1744.8 880.6,1741.3 877.6,1739.5C874.7,1737.8 863,1729 861.5,1726.6C860.1,1724.3 859.8,1716.1 861.5,1713.8C863.3,1711.4 880.9,1702.9 880.9,1700.9C880.9,1698.8 865.1,1692.7 861.5,1691.2C858,1689.8 845.7,1686 842.2,1684.8C838.7,1683.6 826.4,1679.5 822.9,1678.4C819.4,1677.2 804.8,1673.1 803.6,1671.9C802.4,1670.8 807.1,1666.4 810,1665.5Z" fill="#ae2910"/>
<path d="M633,1736.3C635.7,1732.6 644.8,1726.6 652.3,1723.4C659.8,1720.2 670,1719.1 678,1717C686.1,1714.8 694.7,1713.2 700.6,1710.6C706.5,1707.9 707,1703 713.5,1700.9C719.9,1698.7 731.7,1698.7 739.2,1697.7C746.7,1696.6 753.2,1693.4 758.5,1694.5C763.9,1695.5 769.8,1700.4 771.4,1704.1C773,1707.9 771.9,1714.3 768.2,1717C764.4,1719.7 755.8,1718.6 748.9,1720.2C741.9,1721.8 734.4,1724.8 726.3,1726.6C718.3,1728.5 707.6,1729.9 700.6,1731.5C693.6,1733.1 690.9,1735 684.5,1736.3C678,1737.6 670,1737.9 661.9,1739.5C653.9,1741.1 641,1746.5 636.2,1746C631.4,1745.4 630.3,1740.1 633,1736.3Z" fill="#d4562b"/>
<path d="M655.5,1691.2C655.5,1688.9 665.5,1683 668.4,1681.6C671.3,1680.1 684.8,1675.1 687.7,1675.1C690.6,1675.1 700.3,1679.8 700.6,1681.6C700.9,1683.3 692.7,1692.1 690.9,1694.5C689.2,1696.8 683.3,1706.2 681.3,1707.3C679.2,1708.5 670.7,1708.8 668.4,1707.3C666,1705.9 655.5,1693.6 655.5,1691.2Z" fill="#d4562b"/>
<path d="M600.8,1691.2 639.4,1691.2 639.4,1726.6 600.8,1726.6Z" fill="#e8903a"/>
<path d="M605.6,1755.6C608.3,1753.4 619.4,1753.9 623.3,1755C627.2,1756.1 629.1,1759.7 629.1,1762.1C629.1,1764.4 627,1768.1 623.3,1769.1C619.7,1770.2 610.2,1770.8 607.2,1768.5C604.3,1766.2 602.9,1757.9 605.6,1755.6Z" fill="#ae2910"/>
<path d="M607.3,1755C609,1753.9 624.3,1753.9 626,1755C627.7,1756.1 627.7,1765.8 626,1766.9C624.3,1768 609,1768 607.3,1766.9C605.6,1765.8 605.6,1756.1 607.3,1755Z" fill="#ae2910"/>
<path d="M871.2,1778.2C872.3,1776.5 880.3,1773.9 884.1,1774.9C887.8,1776 888.9,1784.1 893.7,1784.6C898.6,1785.1 905,1780.3 913.1,1778.2C921.1,1776 931.8,1772.8 942,1771.7C952.2,1770.6 964.6,1770.6 974.2,1771.7C983.9,1772.8 993,1778.2 1000,1778.2C1007,1778.2 1011.2,1774.4 1016.1,1771.7C1020.9,1769 1024.9,1763.1 1028.9,1762.1C1033,1761 1038.3,1759.9 1040.2,1765.3C1042.1,1770.6 1043.2,1786.7 1040.2,1794.3C1037.3,1801.8 1028.7,1806.6 1022.5,1810.4C1016.3,1814.1 1008.6,1816.8 1003.2,1816.8C997.8,1816.8 995.7,1813 990.3,1810.4C985,1807.7 978.5,1802.3 971,1800.7C963.5,1799.1 952.8,1800.2 945.2,1800.7C937.7,1801.2 931.8,1804.5 925.9,1803.9C920,1803.4 915.2,1799.6 909.8,1797.5C904.5,1795.3 899.1,1793.2 893.7,1791C888.4,1788.9 881.4,1786.7 877.6,1784.6C873.9,1782.5 870.1,1779.8 871.2,1778.2Z" fill="#d4562b"/>
<path d="M755.3,1810.4C756.8,1809.2 774,1815.3 777.8,1816.8C781.6,1818.3 793.1,1825.9 797.2,1826.4C801.3,1827 819.8,1822.9 822.9,1823.2C826,1823.5 832.1,1828.5 831,1829.7C829.8,1830.8 813.7,1835.5 810,1836.1C806.4,1836.7 793.1,1834.6 790.7,1836.1C788.4,1837.6 786,1852.3 784.3,1852.8C782.5,1853.4 773.5,1844.7 771.4,1842.5C769.4,1840.4 763.2,1832.6 761.7,1829.7C760.3,1826.7 753.8,1811.5 755.3,1810.4Z" fill="#d4562b"/>
<path d="M1054.7,1681.6C1055.6,1679.8 1064.7,1673.1 1067.6,1671.9C1070.5,1670.8 1082.2,1668.8 1086.9,1668.7C1091.6,1668.6 1113.2,1669.9 1119.1,1670.3C1124.9,1670.8 1148.6,1672.7 1151.3,1673.5C1153.9,1674.4 1151,1679.2 1148.1,1680C1145.1,1680.7 1124.7,1681.4 1119.1,1681.6C1113.5,1681.7 1091.3,1680.7 1086.9,1681.6C1082.5,1682.5 1073.4,1690.4 1070.8,1691.2C1068.2,1692.1 1059.4,1692.1 1057.9,1691.2C1056.5,1690.4 1053.8,1683.3 1054.7,1681.6Z" fill="#d4562b"/>
<path d="M826.1,1807.1C826.7,1805.5 839.5,1806.1 845.4,1803.9C851.4,1801.8 857.3,1798 861.5,1794.3C865.8,1790.5 867.4,1783 871.2,1781.4C875,1779.8 880.3,1782.5 884.1,1784.6C887.8,1786.7 888.9,1791.6 893.7,1794.3C898.6,1796.9 907.7,1798.5 913.1,1800.7C918.4,1802.8 920.6,1806.6 925.9,1807.1C931.3,1807.7 937.7,1804.5 945.2,1803.9C952.8,1803.4 963.5,1802.3 971,1803.9C978.5,1805.5 984.7,1810.9 990.3,1813.6C996,1816.3 1001.9,1809.8 1004.8,1820C1007.8,1830.2 1029.2,1865.6 1008,1874.7C986.8,1883.9 899.4,1882.3 877.6,1874.7C855.9,1867.2 880.3,1839.3 877.6,1829.7C875,1820 867.4,1819.5 861.5,1816.8C855.6,1814.1 848.1,1815.2 842.2,1813.6C836.3,1812 825.6,1808.7 826.1,1807.1Z" fill="#e8903a"/>
<path d="M871.2,1816.8C872.1,1816.2 882,1818.5 884.1,1820C886.1,1821.5 893.2,1830.8 893.7,1832.9C894.3,1834.9 891.7,1842 890.5,1842.5C889.3,1843.1 882.3,1840.8 880.9,1839.3C879.4,1837.9 875.3,1828.5 874.4,1826.4C873.5,1824.4 870.3,1817.4 871.2,1816.8Z" fill="#d4562b"/>
<path d="M903.4,1803.9C905.2,1804.1 923,1809.3 925.9,1810.4C928.9,1811.4 935.6,1815.1 935.6,1815.5C935.6,1815.9 928.6,1815.5 925.9,1814.9C923.3,1814.2 908.7,1809.7 906.6,1808.7C904.6,1807.7 901.6,1803.8 903.4,1803.9Z" fill="#f2cc50"/>
<path d="M1054.7,1752.4 1119.1,1752.4 1119.1,1791 1054.7,1791Z" fill="#d4562b"/>
<path d="M587.9,1832.9C591.1,1814.2 617.5,1830.4 623.3,1829.7C629.2,1828.9 646.7,1825.1 652.3,1824.8C657.9,1824.5 678.9,1826 684.5,1826.4C690,1826.9 708.5,1830 713.5,1829.7C718.4,1829.4 735.7,1824.5 739.2,1823.2C742.7,1821.9 749.2,1813.4 752.1,1815.2C755,1816.9 769.1,1838.6 771.4,1842.5C773.7,1846.5 774.3,1857.2 777.8,1858.6C781.4,1860.1 807.1,1842.5 810,1858.6C813,1874.7 830.2,2019.6 810,2035.7C789.8,2051.8 608.1,2054.1 587.9,2035.7C567.7,2017.3 584.7,1851.6 587.9,1832.9Z" fill="#d4562b"/>
<path d="M571.3,1832.9C573,1826.2 588,1818.8 590.6,1816.8C593.2,1814.7 599.1,1809.2 600.3,1810.4C601.4,1811.5 600.3,1827 603.5,1829.7C606.7,1832.3 629.8,1839.3 635.7,1839.3C641.5,1839.3 664.9,1825 667.9,1829.7C670.8,1834.4 676.6,1885.3 667.9,1890.8C659.1,1896.4 580.1,1896.1 571.3,1890.8C562.5,1885.6 569.5,1839.6 571.3,1832.9Z" fill="#d4562b"/>
<path d="M633,1842.5C634.6,1840.9 637.3,1838.3 645.9,1837.7C654.4,1837.2 672.7,1838.5 684.5,1839.3C696.3,1840.1 705.9,1842.5 716.7,1842.5C727.4,1842.5 742.4,1839.3 748.9,1839.3C755.3,1839.3 755.8,1840.9 755.3,1842.5C754.8,1844.2 752.1,1847.4 745.6,1849C739.2,1850.6 726.9,1852.5 716.7,1852.2C706.5,1851.9 695.2,1847.9 684.5,1847.4C673.8,1846.8 660.3,1849 652.3,1849C644.2,1849 639.4,1848.4 636.2,1847.4C633,1846.3 631.4,1844.2 633,1842.5Z" fill="#e8903a"/>
<path d="M632.5,1842.5C632.7,1841.2 645.3,1836.8 648.5,1836.1C651.8,1835.4 666.1,1833 667.9,1834.5C669.6,1836 669.9,1850.7 667.9,1852.2C665.8,1853.7 648.5,1851.5 645.3,1850.6C642.1,1849.7 632.2,1843.9 632.5,1842.5Z" fill="#e8903a"/>
<path d="M576.1,1820C577.4,1813.6 589,1818 590.6,1820C592.2,1822.1 594.4,1839.6 593.8,1842.5C593.2,1845.5 584.5,1849.9 584.2,1852.2C583.9,1854.5 587.4,1866.1 590.6,1868.3C593.8,1870.5 612.5,1876.1 619.6,1876.3C626.6,1876.6 663.5,1870.2 667.9,1871.5C672.3,1872.8 676.2,1889.1 667.9,1890.8C659.5,1892.6 584.5,1897.3 576.1,1890.8C567.8,1884.4 574.8,1826.4 576.1,1820Z" fill="#e8903a"/>
<path d="M587.9,1874.7C592.3,1859.8 628.9,1871.7 636.2,1871.5C643.5,1871.4 664.3,1872.7 668.4,1873.1C672.5,1873.6 677.5,1876.8 681.3,1876.3C685.1,1875.9 706.1,1869.6 710.2,1868.3C714.3,1867 723.1,1862.7 726.3,1861.9C729.6,1861 743,1859.5 745.6,1858.6C748.3,1857.8 753,1852.3 755.3,1852.2C757.6,1852.1 766.1,1856.6 771.4,1857C776.7,1857.5 809.5,1840.8 813.3,1857C817.1,1873.3 833.7,2019.5 813.3,2035.7C792.8,2051.9 608.4,2050.3 587.9,2035.7C567.4,2021.1 583.5,1889.7 587.9,1874.7Z" fill="#e8903a"/>
<path d="M710.2,1874.7C713.5,1872.6 726.3,1871.5 732.8,1871.5C739.2,1871.5 746.7,1872.1 748.9,1874.7C751,1877.4 749.4,1884.9 745.6,1887.6C741.9,1890.3 731.7,1891.4 726.3,1890.8C721,1890.3 716.1,1887.1 713.5,1884.4C710.8,1881.7 707,1876.9 710.2,1874.7Z" fill="#d4562b"/>
<path d="M679.7,1910.2C681,1906.4 684.2,1904.8 687.7,1906.9C691.2,1909.1 696.3,1918.2 700.6,1923C704.9,1927.9 708.1,1933.2 713.5,1935.9C718.8,1938.6 727.4,1937 732.8,1939.1C738.1,1941.3 744,1945 745.6,1948.8C747.3,1952.5 741.9,1958.4 742.4,1961.7C743,1964.9 749.4,1964.3 748.9,1968.1C748.3,1971.9 743,1978.8 739.2,1984.2C735.5,1989.6 732.8,1996.5 726.3,2000.3C719.9,2004 706.5,2007.3 700.6,2006.7C694.7,2006.2 693.6,2001.9 690.9,1997.1C688.2,1992.2 686.9,1983.7 684.5,1977.8C682.1,1971.9 677.8,1966.5 676.4,1961.7C675.1,1956.8 675.9,1954.1 676.4,1948.8C677,1943.4 679.1,1935.9 679.7,1929.5C680.2,1923 678.3,1913.9 679.7,1910.2Z" fill="#d4562b"/>
<path d="M686.1,1948.8C688,1946.9 693.3,1945.6 697.4,1947.2C701.4,1948.8 707.3,1954.4 710.2,1958.4C713.2,1962.5 715.6,1968.4 715.1,1971.3C714.5,1974.3 710.5,1976.7 707,1976.1C703.5,1975.6 697.6,1971 694.1,1968.1C690.7,1965.1 687.4,1961.7 686.1,1958.4C684.8,1955.2 684.2,1950.7 686.1,1948.8Z" fill="#c43818"/>
<path d="M1006.4,1935.9 1244.6,1935.9 1244.6,2067.9 1006.4,2067.9Z" fill="#e8903a"/>
<path d="M1020.9,1993.9C1022.5,1990.9 1029.5,1990.6 1032.2,1992.2C1034.9,1993.9 1037.5,2000 1037,2003.5C1036.5,2007 1031.4,2012.1 1028.9,2013.2C1026.5,2014.2 1023.9,2013.2 1022.5,2009.9C1021.2,2006.7 1019.3,1996.8 1020.9,1993.9Z" fill="#d4562b"/>
<path d="M951.7,1874.7 1138.4,1874.7 1138.4,1932.7 951.7,1932.7Z" fill="#e8903a"/>
<path d="M24,2114.5 1245.2,2114.5 1245.2,2225 24,2225Z" fill="#d4562b"/>
<path d="M140.6,2163.6C147.3,2161.6 193.6,2155.2 208.1,2153.8C222.6,2152.5 286.8,2149.1 300.2,2148.9C313.5,2148.7 349.3,2150 355.4,2151.4C361.5,2152.7 364.9,2160.9 367.7,2163.6C370.5,2166.4 383.8,2179.3 386.1,2182.1C388.3,2184.8 393.9,2192.9 392.2,2194.3C390.5,2195.7 374.4,2196.8 367.7,2197.4C361,2198 327.5,2199.9 318.6,2200.5C309.6,2201 277.3,2203.5 269.5,2203.5C261.7,2203.5 238.2,2201.9 232.7,2200.5C227.1,2199.1 213.1,2189 208.1,2188.2C203.1,2187.4 183,2191.3 177.4,2191.3C171.8,2191.3 150.6,2189.6 146.7,2188.2C142.8,2186.8 135,2178.1 134.5,2175.9C133.9,2173.7 133.9,2165.7 140.6,2163.6Z" fill="#e8903a"/>
<path d="M146.7,2166.7C150.6,2165.6 188.6,2161 195.8,2160.6C203.1,2160.2 223.7,2161.6 226.5,2162.4C229.3,2163.3 229.9,2168.8 226.5,2169.8C223.2,2170.7 196.4,2172.6 189.7,2172.8C183,2173.1 156.8,2173.4 152.9,2172.8C149,2172.3 142.8,2167.8 146.7,2166.7Z" fill="#f2cc50"/>
<path d="M502.7,2175.9C506.6,2180.4 536.1,2170.6 545.6,2169.8C555.1,2168.9 598.6,2167.5 607,2166.7C615.4,2165.9 629.3,2162 637.7,2160.6C646.1,2159.2 687.9,2152.3 699.1,2151.4C710.2,2150.4 749.3,2150.6 760.4,2150.1C771.6,2149.7 815.1,2145.8 821.8,2146.5C828.5,2147.1 831.8,2155.4 834.1,2157.5C836.3,2159.6 841.9,2168.4 846.3,2169.8C850.8,2171.2 874.2,2172.8 883.2,2172.8C892.1,2172.8 935.6,2171.7 944.5,2169.8C953.4,2167.8 973.5,2153.2 981.3,2151.4C989.2,2149.6 1022.6,2150.4 1030.4,2150.1C1038.2,2149.9 1058.3,2147.9 1067.3,2148.3C1076.2,2148.7 1120.3,2152.8 1128.6,2154.4C1137,2156.1 1154.8,2165 1159.3,2166.7C1163.8,2168.4 1173.3,2174.2 1177.7,2172.8C1182.2,2171.5 1205.6,2156.1 1208.4,2151.4C1211.2,2146.6 1272.6,2123.5 1208.4,2120.7C1144.2,2117.9 566.8,2115.7 502.7,2120.7C438.5,2125.7 498.8,2171.5 502.7,2175.9Z" fill="#e8903a"/>
<path d="M1018.2,2182.1C1021.5,2180.1 1058.3,2171.2 1067.3,2169.8C1076.2,2168.4 1113,2166.2 1116.4,2166.7C1119.7,2167.3 1108.5,2174 1104.1,2175.9C1099.6,2177.9 1074,2186.8 1067.3,2188.2C1060.6,2189.6 1034.9,2191.8 1030.4,2191.3C1026,2190.7 1014.8,2184 1018.2,2182.1Z" fill="#c43818"/>
<path d="M1183.9,2169.8C1188.9,2168.4 1239.6,2165 1245.2,2166.7C1250.8,2168.4 1250.2,2186.8 1245.2,2188.2C1240.2,2189.6 1195.6,2183.7 1190,2182.1C1184.4,2180.4 1178.8,2171.2 1183.9,2169.8Z" fill="#c43818"/>
<path d="M28.9,2175.9C34,2175.2 77.4,2178.1 85.4,2179C93.3,2179.8 118.3,2184.3 116.1,2185.1C113.8,2186 68.7,2188 60.8,2188.2C52.9,2188.4 31.8,2188.1 28.9,2187C26,2185.8 23.8,2176.6 28.9,2175.9Z" fill="#c43818"/>
<path d="M785,2183.9C788,2183 818.2,2181.4 821.8,2182.1C825.4,2182.7 827.9,2190.4 824.9,2191.3C821.8,2192.2 791.7,2192.5 788,2191.9C784.4,2191.2 781.9,2184.8 785,2183.9Z" fill="#f2cc50"/>
</g>
<g clip-path="url(#fe)"><use href="#coast" transform="translate(28.4,1590.1) scale(1.00000,0.99984)"/></g>
<rect x="28.4" y="1590.1" width="1208.4" height="620.8" fill="none" stroke="#000" stroke-width="1.5"/>
</g>
<g id="panel-f">
<g clip-path="url(#mf)">
<rect x="1259.3" y="1589.4" width="1208.3" height="621.9" fill="#d4562b"/>
<path d="M1309.7,1651C1334,1647.3 1552.6,1648.7 1576.9,1651C1601.2,1653.3 1579.9,1674.3 1576.9,1676.8C1574,1679.2 1550.6,1678.8 1544.7,1678.4C1538.9,1677.9 1518.4,1672.7 1512.5,1671.9C1506.7,1671.1 1486.2,1669.9 1480.4,1669.3C1474.5,1668.8 1454,1666.6 1448.2,1666.1C1442.3,1665.6 1421.2,1664.2 1416,1663.9C1410.7,1663.5 1394.3,1662 1390.2,1662.3C1386.1,1662.6 1374.4,1665.6 1370.9,1667.1C1367.4,1668.6 1354.5,1676.2 1351.6,1678.4C1348.7,1680.6 1342.5,1690.1 1338.7,1691.2C1334.9,1692.4 1312.4,1694.9 1309.7,1691.2C1307.1,1687.6 1285.4,1654.7 1309.7,1651Z" fill="#c43818"/>
<path d="M1422.4,1697.7C1425.6,1695.5 1438.5,1694.7 1448.2,1694.5C1457.8,1694.2 1469.6,1696.6 1480.4,1696.1C1491.1,1695.5 1502.9,1691 1512.5,1691.2C1522.2,1691.5 1532.9,1693.9 1538.3,1697.7C1543.7,1701.4 1540.4,1710 1544.7,1713.8C1549,1717.5 1558.2,1717 1564.1,1720.2C1570,1723.4 1578,1728.8 1580.2,1733.1C1582.3,1737.4 1580.7,1742.7 1576.9,1746C1573.2,1749.2 1564.1,1752.4 1557.6,1752.4C1551.2,1752.4 1545.8,1747 1538.3,1746C1530.8,1744.9 1520.1,1744.9 1512.5,1746C1505,1747 1499.1,1752.4 1493.2,1752.4C1487.3,1752.4 1482,1748.1 1477.1,1746C1472.3,1743.8 1468,1739.5 1464.3,1739.5C1460.5,1739.5 1457.3,1746.5 1454.6,1746C1451.9,1745.4 1451.4,1740.6 1448.2,1736.3C1444.9,1732 1438.5,1725 1435.3,1720.2C1432.1,1715.4 1431,1711.1 1428.8,1707.3C1426.7,1703.6 1419.2,1699.8 1422.4,1697.7Z" fill="#c43818"/>
<path d="M1464.3,1610.8 1654.2,1610.8 1654.2,1681.6 1576.9,1681.6 1576.9,1665.5 1464.3,1665.5Z" fill="#ae2910"/>
<path d="M1506.1,1721.8C1507,1720.8 1520.2,1718.2 1522.2,1718.6C1524.3,1719 1529.5,1725.6 1528.6,1726.6C1527.8,1727.7 1514.6,1730.3 1512.5,1729.9C1510.5,1729.4 1505.2,1722.8 1506.1,1721.8Z" fill="#ae2910"/>
<path d="M1449.8,1752.4C1452.7,1750 1462.9,1749.2 1467.5,1750.8C1472,1752.4 1476.1,1757.5 1477.1,1762.1C1478.2,1766.6 1473.4,1773.3 1473.9,1778.2C1474.5,1783 1481.4,1790 1480.4,1791C1479.3,1792.1 1471.2,1787.8 1467.5,1784.6C1463.7,1781.4 1460.8,1774.9 1457.8,1771.7C1454.9,1768.5 1451.1,1768.5 1449.8,1765.3C1448.4,1762.1 1446.8,1754.8 1449.8,1752.4Z" fill="#e8903a"/>
<path d="M1522.2,1823.2C1523.1,1821.5 1533.6,1819.4 1535.1,1820C1536.5,1820.6 1536.3,1828.2 1538.3,1829.7C1540.3,1831.1 1555,1836.1 1557.6,1836.1C1560.2,1836.1 1565.5,1828.6 1567.3,1829.7C1569,1830.7 1576.1,1845 1576.9,1847.4C1577.8,1849.8 1578.7,1855.6 1576.9,1856.1C1575.2,1856.6 1561.1,1854 1557.6,1852.8C1554.1,1851.7 1541.2,1844.4 1538.3,1843.2C1535.4,1842 1526.9,1841.1 1525.4,1839.3C1524,1837.5 1521.3,1825 1522.2,1823.2Z" fill="#e8903a"/>
<path d="M1651,1707.3C1653,1705.8 1671.5,1705.8 1673.5,1707.3C1675.6,1708.9 1675.6,1722.6 1673.5,1724.1C1671.5,1725.6 1653,1725.6 1651,1724.1C1648.9,1722.6 1648.9,1708.9 1651,1707.3Z" fill="#e8903a"/>
<path d="M1622,1604.3 1828,1604.3 1828,1694.5 1622,1694.5Z" fill="#e8903a"/>
<path d="M1625.2,1623.6C1628.1,1622.1 1650.1,1618.2 1657.4,1617.2C1664.7,1616.2 1696.6,1612.8 1705.7,1612.4C1714.8,1611.9 1748.4,1612.1 1757.2,1612.4C1766,1612.7 1798.2,1612.8 1802.3,1615.6C1806.4,1618.4 1804,1640.2 1802.3,1642.9C1800.5,1645.7 1785.9,1647.6 1783,1646.2C1780,1644.7 1774.2,1628.9 1770.1,1626.9C1766,1624.8 1742.3,1623.3 1737.9,1623.6C1733.5,1623.9 1726.2,1629.8 1721.8,1630.1C1717.4,1630.4 1694,1626.9 1689.6,1626.9C1685.2,1626.9 1676.4,1629.5 1673.5,1630.1C1670.6,1630.7 1661.8,1632.9 1657.4,1633.3C1653,1633.6 1628.1,1634.8 1625.2,1633.9C1622.3,1633.1 1622.3,1625.2 1625.2,1623.6Z" fill="#d4562b"/>
<path d="M1633.3,1619.8C1634.9,1618.9 1650,1618.9 1651.6,1619.8C1653.3,1620.6 1653.3,1628 1651.6,1628.8C1650,1629.6 1634.9,1629.6 1633.3,1628.8C1631.6,1628 1631.6,1620.6 1633.3,1619.8Z" fill="#c43818"/>
<path d="M1699.3,1681.6C1700.7,1680.9 1713.9,1680.9 1715.4,1681.6C1716.8,1682.2 1716.8,1688 1715.4,1688.7C1713.9,1689.3 1700.7,1689.3 1699.3,1688.7C1697.8,1688 1697.8,1682.2 1699.3,1681.6Z" fill="#f2cc50"/>
<path d="M1638.1,1903.7C1640.8,1899.4 1645.6,1897.3 1651,1894.1C1656.3,1890.8 1664.9,1886.3 1670.3,1884.4C1675.7,1882.5 1679.9,1880.6 1683.2,1882.8C1686.4,1884.9 1686.9,1893.2 1689.6,1897.3C1692.3,1901.3 1695,1903.2 1699.3,1906.9C1703.6,1910.7 1713.2,1915 1715.4,1919.8C1717.5,1924.6 1713.8,1931.6 1712.1,1935.9C1710.5,1940.2 1710,1943.4 1705.7,1945.6C1701.4,1947.7 1690.1,1946.1 1686.4,1948.8C1682.6,1951.5 1686.4,1959.2 1683.2,1961.7C1679.9,1964.1 1672.4,1964.3 1667.1,1963.3C1661.7,1962.2 1655.3,1958.2 1651,1955.2C1646.7,1952.3 1642.1,1949.3 1641.3,1945.6C1640.5,1941.8 1647.2,1937 1646.1,1932.7C1645.1,1928.4 1636.2,1924.6 1634.9,1919.8C1633.5,1915 1635.4,1908 1638.1,1903.7Z" fill="#c43818"/>
<path d="M1596.2,1906.9C1597.3,1905.8 1607.7,1905.5 1609.1,1906.9C1610.6,1908.4 1612.6,1921 1612.3,1923C1612.1,1925.1 1607.2,1929.8 1605.9,1929.5C1604.6,1929.2 1598.7,1921.9 1597.9,1919.8C1597,1917.8 1595.2,1908.1 1596.2,1906.9Z" fill="#c43818"/>
<path d="M1609.1,1864.4C1610.6,1862.6 1620.2,1863.8 1622,1864.4C1623.8,1865.1 1625.2,1871.2 1628.4,1871.5C1631.7,1871.9 1654.5,1868 1657.4,1868.3C1660.3,1868.6 1662.1,1873.9 1660.6,1874.7C1659.2,1875.6 1644.5,1877.4 1641.3,1878C1638.1,1878.5 1627.3,1879.7 1625.2,1881.2C1623.2,1882.6 1620.2,1892 1618.8,1894.1C1617.3,1896.1 1611.3,1902.2 1609.1,1903.7C1606.9,1905.2 1595.8,1911.4 1594.6,1910.8C1593.5,1910.2 1595.3,1899.7 1596.2,1897.3C1597.2,1894.9 1604.1,1887.4 1605.3,1884.4C1606.4,1881.4 1607.6,1866.3 1609.1,1864.4Z" fill="#e8903a"/>
<path d="M1628.4,1969.7C1631.7,1963.3 1636.5,1964.6 1641.3,1964.9C1646.1,1965.1 1650.4,1971.2 1657.4,1971.3C1664.4,1971.4 1676.7,1965.5 1683.2,1965.5C1689.6,1965.5 1690.1,1973 1696,1971.3C1701.9,1969.6 1711.1,1960.3 1718.6,1955.2C1726.1,1950.1 1737.4,1916.6 1741.1,1940.7C1744.9,1964.9 1763.1,2073.5 1741.1,2100.1C1719.1,2126.6 1629,2116.2 1609.1,2100.1C1589.3,2084 1618.8,2025.2 1622,2003.5C1625.2,1981.8 1625.2,1976.1 1628.4,1969.7Z" fill="#e8903a"/>
<path d="M1625.2,2000.3C1626.5,1996.8 1634.1,1995.3 1634.9,1997.1C1635.6,1998.8 1633,2015.5 1633.3,2019.6C1633.6,2023.7 1637.4,2038.6 1638.1,2042.1C1638.8,2045.7 1641.9,2055.3 1641.3,2058.2C1640.7,2061.2 1633.6,2072.9 1631.7,2074.3C1629.8,2075.8 1621.4,2077.8 1620.4,2074.3C1619.4,2070.8 1620,2042.4 1620.4,2035.7C1620.8,2029 1623.9,2003.8 1625.2,2000.3Z" fill="#d4562b"/>
<path d="M1696,1971.3C1699.3,1966.5 1713.2,1958.4 1718.6,1958.4C1723.9,1958.4 1729.3,1967 1728.2,1971.3C1727.2,1975.6 1717,1981.5 1712.1,1984.2C1707.3,1986.9 1701.9,1989.6 1699.3,1987.4C1696.6,1985.3 1692.8,1976.1 1696,1971.3Z" fill="#d4562b"/>
<path d="M1652.6,1971.3C1653,1970.3 1659.3,1968.8 1660.6,1969.7C1662,1970.6 1665.9,1979.4 1667.1,1981C1668.2,1982.6 1673.8,1986.8 1673.5,1987.4C1673.2,1988 1665.5,1988 1663.9,1987.4C1662.2,1986.8 1656.8,1982.4 1655.8,1981C1654.8,1979.5 1652.1,1972.3 1652.6,1971.3Z" fill="#f2cc50"/>
<path d="M1633.3,2013.2C1635.7,2010.5 1640.5,2006.7 1644.5,2006.7C1648.6,2006.7 1654.2,2009.9 1657.4,2013.2C1660.6,2016.4 1664.4,2022.3 1663.9,2026C1663.3,2029.8 1657.4,2033 1654.2,2035.7C1651,2038.4 1647.5,2042.1 1644.5,2042.1C1641.6,2042.1 1638.9,2038.9 1636.5,2035.7C1634.1,2032.5 1630.6,2026.6 1630.1,2022.8C1629.5,2019.1 1630.9,2015.9 1633.3,2013.2Z" fill="#f2cc50"/>
<path d="M1636.5,2016.4C1637.8,2013.7 1643.2,2012.6 1646.1,2013.2C1649.1,2013.7 1652.6,2016.9 1654.2,2019.6C1655.8,2022.3 1657.1,2026.6 1655.8,2029.3C1654.5,2031.9 1649.1,2035.7 1646.1,2035.7C1643.2,2035.7 1639.7,2032.5 1638.1,2029.3C1636.5,2026 1635.1,2019.1 1636.5,2016.4Z" fill="#fbfaff"/>
<path d="M2089.3,1675.1C2092,1672.5 2100.1,1668.2 2108.6,1668.7C2117.2,1669.2 2130.1,1676.2 2140.8,1678.4C2151.6,1680.5 2165,1680 2173,1681.6C2181.1,1683.2 2183.2,1686.4 2189.1,1688C2195,1689.6 2201.5,1689.1 2208.4,1691.2C2215.4,1693.4 2225.6,1697.1 2231,1700.9C2236.3,1704.7 2235.3,1709.5 2240.6,1713.8C2246,1718.1 2262.1,1722.9 2263.2,1726.6C2264.2,1730.4 2254,1734.2 2247.1,1736.3C2240.1,1738.5 2228.3,1736.8 2221.3,1739.5C2214.3,1742.2 2211.1,1749.2 2205.2,1752.4C2199.3,1755.6 2191.8,1757.5 2185.9,1758.8C2180,1760.2 2175.2,1761.5 2169.8,1760.5C2164.4,1759.4 2161.2,1754.8 2153.7,1752.4C2146.2,1750 2133.3,1747.6 2124.7,1746C2116.2,1744.4 2108.1,1744.9 2102.2,1742.7C2096.3,1740.6 2090.4,1737.9 2089.3,1733.1C2088.3,1728.3 2093.6,1719.7 2095.8,1713.8C2097.9,1707.9 2102.7,1702.5 2102.2,1697.7C2101.7,1692.8 2094.7,1688.6 2092.5,1684.8C2090.4,1681 2086.6,1677.8 2089.3,1675.1Z" fill="#c43818"/>
<path d="M2176.2,1649.4C2177.9,1646.2 2181.6,1644.3 2189.1,1642.9C2196.6,1641.6 2210.6,1640.8 2221.3,1641.3C2232,1641.9 2242.8,1644.8 2253.5,1646.2C2264.2,1647.5 2279.3,1647.5 2285.7,1649.4C2292.1,1651.3 2294.8,1655.3 2292.1,1657.4C2289.5,1659.6 2278.7,1661.7 2269.6,1662.3C2260.5,1662.8 2246.5,1660.1 2237.4,1660.7C2228.3,1661.2 2221.9,1664.1 2214.9,1665.5C2207.9,1666.8 2201.5,1669.2 2195.6,1668.7C2189.7,1668.2 2182.7,1665.5 2179.5,1662.3C2176.2,1659 2174.6,1652.6 2176.2,1649.4Z" fill="#c43818"/>
<path d="M2337.2,1654.2C2338.7,1653 2362.1,1652.3 2366.2,1652.6C2370.3,1652.9 2375,1656.7 2382.3,1657.4C2389.6,1658.2 2438.9,1660.2 2446.7,1660.7C2454.4,1661.1 2465.7,1660.4 2467.6,1662.3C2469.5,1664.2 2471,1679.2 2467.6,1681.6C2464.2,1683.9 2435.4,1688.3 2430.6,1688C2425.7,1687.7 2418.9,1679.8 2414.5,1678.4C2410.1,1676.9 2388.1,1673.1 2382.3,1671.9C2376.4,1670.8 2354.2,1667.1 2350.1,1665.5C2346,1663.9 2335.7,1655.4 2337.2,1654.2Z" fill="#c43818"/>
<path d="M2214.9,1649.4C2221.3,1648 2247.1,1648 2253.5,1649.4C2259.9,1650.8 2259.9,1656.4 2253.5,1657.8C2247.1,1659.2 2221.3,1659.2 2214.9,1657.8C2208.4,1656.4 2208.4,1650.8 2214.9,1649.4Z" fill="#ae2910"/>
<path d="M2156.9,1726.6C2161.8,1724.5 2181.1,1724.5 2185.9,1726.6C2190.7,1728.8 2190.7,1737.4 2185.9,1739.5C2181.1,1741.7 2161.8,1741.7 2156.9,1739.5C2152.1,1737.4 2152.1,1728.8 2156.9,1726.6Z" fill="#ae2910"/>
<path d="M2094.2,1651C2095.5,1649.3 2107.9,1649.3 2109.3,1651C2110.7,1652.7 2110.7,1667.7 2109.3,1669.3C2107.9,1671 2095.5,1671 2094.2,1669.3C2092.8,1667.7 2092.8,1652.7 2094.2,1651Z" fill="#c43818"/>
<path d="M1918.7,1720.2C1923,1715.4 1933.7,1710 1941.2,1707.3C1948.7,1704.7 1957.3,1705.7 1963.8,1704.1C1970.2,1702.5 1975.6,1697.1 1979.9,1697.7C1984.2,1698.2 1988.5,1703 1989.5,1707.3C1990.6,1711.6 1989.5,1719.7 1986.3,1723.4C1983.1,1727.2 1975,1726.6 1970.2,1729.9C1965.4,1733.1 1961.6,1739 1957.3,1742.7C1953,1746.5 1948.7,1751.9 1944.5,1752.4C1940.2,1752.9 1936.4,1748.6 1931.6,1746C1926.8,1743.3 1917.6,1740.6 1915.5,1736.3C1913.3,1732 1914.4,1725 1918.7,1720.2Z" fill="#c43818"/>
<path d="M1865.6,1746C1865,1744.8 1865.6,1735.1 1867.2,1733.1C1868.8,1731 1880.4,1724.7 1883.3,1723.4C1886.2,1722.1 1897.6,1718.3 1899.4,1718.6C1901.1,1718.9 1903.5,1725 1902.6,1726.6C1901.7,1728.3 1892.4,1734.6 1889.7,1736.3C1887.1,1738.1 1875.8,1745.1 1873.6,1746C1871.4,1746.8 1866.2,1747.1 1865.6,1746Z" fill="#e8903a"/>
<path d="M1831.8,1691.2 1870.4,1691.2 1870.4,1726.6 1831.8,1726.6Z" fill="#e8903a"/>
<path d="M1835,1752.4 1864,1752.4 1864,1773.3 1835,1773.3Z" fill="#e8903a"/>
<path d="M1834.5,1752.4 1866.7,1752.4 1866.7,1774.9 1834.5,1774.9Z" fill="#e8903a"/>
<path d="M1841.6,1757.2C1843,1756.2 1855.6,1756.2 1857,1757.2C1858.4,1758.3 1858.4,1767.5 1857,1768.5C1855.6,1769.5 1843,1769.5 1841.6,1768.5C1840.2,1767.5 1840.2,1758.3 1841.6,1757.2Z" fill="#d4562b"/>
<path d="M2005.6,1747.6C2006.8,1746.4 2016.7,1747.6 2018.5,1749.2C2020.3,1750.8 2022.6,1762.9 2024.9,1765.3C2027.3,1767.6 2041.3,1774.9 2044.3,1774.9C2047.2,1774.9 2055.1,1767.3 2057.1,1765.3C2059.2,1763.2 2064.7,1753 2066.8,1752.4C2068.8,1751.8 2077.3,1758.6 2079.7,1758.8C2082,1759.1 2089.9,1755 2092.5,1755.6C2095.2,1756.2 2105.7,1763.2 2108.6,1765.3C2111.6,1767.3 2124.4,1776.4 2124.7,1778.2C2125,1779.9 2114.8,1784.3 2111.9,1784.6C2108.9,1784.9 2095.5,1780.8 2092.5,1781.4C2089.6,1782 2082.6,1789.6 2079.7,1791C2076.7,1792.5 2063.9,1797.2 2060.4,1797.5C2056.8,1797.8 2044,1795.4 2041,1794.3C2038.1,1793.1 2030.5,1786.4 2028.2,1784.6C2025.8,1782.8 2017.3,1777 2015.3,1774.9C2013.2,1772.9 2006.5,1764.6 2005.6,1762.1C2004.7,1759.6 2004.5,1748.7 2005.6,1747.6Z" fill="#e8903a"/>
<path d="M2041,1803.9C2042.5,1802.7 2056.8,1798.4 2060.4,1797.5C2063.9,1796.6 2076.7,1795.4 2079.7,1794.3C2082.6,1793.1 2089.6,1786.1 2092.5,1784.6C2095.5,1783.1 2108.3,1778.2 2111.9,1778.2C2115.4,1778.2 2127.7,1782.8 2131.2,1784.6C2134.7,1786.4 2147,1795.4 2150.5,1797.5C2154,1799.5 2167.5,1805.4 2169.8,1807.1C2172.2,1808.9 2177.4,1814.7 2176.2,1816.8C2175.1,1818.8 2160.4,1827.3 2156.9,1829.7C2153.4,1832 2140,1839.6 2137.6,1842.5C2135.3,1845.5 2132.3,1859.5 2131.2,1861.9C2130,1864.2 2126.5,1870.1 2124.7,1868.3C2123,1866.5 2113.3,1846.6 2111.9,1842.5C2110.4,1838.4 2110.4,1825.6 2108.6,1823.2C2106.9,1820.9 2095.8,1818 2092.5,1816.8C2089.3,1815.6 2076.4,1810.4 2073.2,1810.4C2070,1810.4 2059.8,1816.8 2057.1,1816.8C2054.5,1816.8 2045.7,1811.5 2044.3,1810.4C2042.8,1809.2 2039.6,1805.1 2041,1803.9Z" fill="#e8903a"/>
<path d="M2086.1,1794.3C2087,1792.2 2099.3,1782.3 2102.2,1781.4C2105.1,1780.5 2116.3,1783.1 2118.3,1784.6C2120.3,1786.1 2122.7,1795.4 2124.7,1797.5C2126.8,1799.5 2138.5,1805.4 2140.8,1807.1C2143.2,1808.9 2150.8,1814.4 2150.5,1816.8C2150.2,1819.1 2140,1830.5 2137.6,1832.9C2135.3,1835.2 2126.5,1842.8 2124.7,1842.5C2123,1842.3 2118.9,1832 2118.3,1829.7C2117.7,1827.3 2119.5,1818.5 2118.3,1816.8C2117.1,1815 2107.8,1811.5 2105.4,1810.4C2103.1,1809.2 2094.3,1805.4 2092.5,1803.9C2090.8,1802.5 2085.2,1796.3 2086.1,1794.3Z" fill="#f2cc50"/>
<path d="M2126.3,1823.2C2126.8,1822.2 2132.5,1819 2134.4,1818.4C2136.3,1817.8 2146,1816.2 2147.3,1816.8C2148.6,1817.4 2149.8,1823.5 2148.9,1824.8C2148,1826.2 2139.4,1830.8 2137.6,1831.3C2135.9,1831.7 2130.6,1830.4 2129.6,1829.7C2128.5,1828.9 2125.9,1824.3 2126.3,1823.2Z" fill="#fbfaff"/>
<path d="M2205.2,1797.5C2206.8,1793.2 2210.6,1787.8 2214.9,1784.6C2219.2,1781.4 2226.7,1777.1 2231,1778.2C2235.3,1779.2 2240.6,1786.7 2240.6,1791C2240.6,1795.3 2235.3,1799.6 2231,1803.9C2226.7,1808.2 2219.2,1815.7 2214.9,1816.8C2210.6,1817.9 2206.8,1813.6 2205.2,1810.4C2203.6,1807.1 2203.6,1801.8 2205.2,1797.5Z" fill="#e8903a"/>
<path d="M2308.2,1688C2308.8,1685.6 2310.9,1681.8 2314.7,1680C2318.4,1678.1 2324.9,1677 2330.8,1676.8C2336.7,1676.5 2347.4,1676.5 2350.1,1678.4C2352.8,1680.2 2350.6,1685.6 2346.9,1688C2343.1,1690.4 2333.5,1691.8 2327.6,1692.8C2321.7,1693.9 2314.7,1695.3 2311.5,1694.5C2308.2,1693.7 2307.7,1690.4 2308.2,1688Z" fill="#e8903a"/>
<path d="M1841.4,1791C1844.1,1787.3 1852.2,1783.5 1860.8,1781.4C1869.3,1779.2 1884.4,1776.5 1892.9,1778.2C1901.5,1779.8 1906.9,1786.7 1912.3,1791C1917.6,1795.3 1924.6,1800.7 1925.1,1803.9C1925.7,1807.1 1920.8,1808.7 1915.5,1810.4C1910.1,1812 1899.9,1814.1 1892.9,1813.6C1886,1813 1880.1,1807.1 1873.6,1807.1C1867.2,1807.1 1859.1,1814.1 1854.3,1813.6C1849.5,1813 1846.8,1807.7 1844.7,1803.9C1842.5,1800.2 1838.8,1794.8 1841.4,1791Z" fill="#c43818"/>
<path d="M1844.1,1791C1847.9,1786.5 1857.5,1784.6 1866.7,1783C1875.8,1781.4 1893.5,1772.5 1898.9,1781.4C1904.2,1790.2 1904.2,1826.4 1898.9,1836.1C1893.5,1845.8 1874.7,1840.4 1866.7,1839.3C1858.6,1838.3 1854.3,1834.5 1850.6,1829.7C1846.8,1824.8 1845.2,1816.8 1844.1,1810.4C1843.1,1803.9 1840.4,1795.6 1844.1,1791Z" fill="#c43818"/>
<path d="M1807.1,1807.1C1808.4,1804.8 1819.1,1803.6 1821.6,1803.9C1824.1,1804.2 1833.5,1808 1834.5,1810.4C1835.5,1812.7 1834.6,1827.6 1832.9,1829.7C1831.1,1831.7 1817.5,1832.9 1815.2,1832.9C1812.8,1832.9 1807.8,1832 1807.1,1829.7C1806.4,1827.3 1805.8,1809.5 1807.1,1807.1Z" fill="#e8903a"/>
<path d="M1813.6,1842.5C1815.5,1839 1829.6,1845.8 1834.5,1845.8C1839.3,1845.8 1860.8,1842.3 1866.7,1842.5C1872.5,1842.8 1895.9,1845.2 1898.9,1849C1901.8,1852.8 1906.6,1881.2 1898.9,1884.4C1891.1,1887.6 1821.3,1888.2 1813.6,1884.4C1805.8,1880.6 1811.6,1846.1 1813.6,1842.5Z" fill="#e8903a"/>
<path d="M1818.9,1857C1822.1,1854.1 1849,1853.8 1854.3,1852.2C1859.6,1850.6 1874.2,1841.2 1876.9,1839.3C1879.5,1837.4 1881.8,1831.6 1883.3,1831.3C1884.8,1831 1890,1836 1892.9,1836.1C1895.9,1836.3 1911.1,1833.5 1915.5,1832.9C1919.9,1832.3 1936.8,1830.3 1941.2,1829.7C1945.6,1829.1 1960.3,1826.2 1963.8,1826.4C1967.3,1826.7 1977.8,1831.4 1979.9,1832.9C1981.9,1834.4 1984,1840.6 1986.3,1842.5C1988.6,1844.4 2000.4,1852.6 2005.6,1853.8C2010.9,1855 2040.7,1847.7 2044.3,1855.4C2047.8,1863.2 2048.1,1931.5 2044.3,1939.1C2040.5,1946.7 2006.8,1940.3 2002.4,1939.1C1998,1938 1997.4,1928.9 1996,1926.2C1994.5,1923.6 1989.2,1911.6 1986.3,1910.2C1983.4,1908.7 1967.3,1909.6 1963.8,1910.2C1960.3,1910.7 1950.6,1916.6 1947.7,1916.6C1944.7,1916.6 1934.2,1910.4 1931.6,1910.2C1928.9,1909.9 1920.5,1911.6 1918.7,1913.4C1916.9,1915.1 1912.8,1925.7 1912.3,1929.5C1911.7,1933.3 1913.3,1952 1912.3,1955.2C1911.2,1958.4 1902.8,1970.7 1901,1964.9C1899.2,1959 1900.4,1898.2 1892.9,1890.8C1885.5,1883.5 1825.6,1887.5 1818.9,1884.4C1812.2,1881.3 1815.7,1860 1818.9,1857Z" fill="#e8903a"/>
<path d="M1909,1873.1C1911.7,1871.8 1938.2,1870.5 1941.2,1871.5C1944.3,1872.5 1945.5,1883.1 1942.8,1884.4C1940.2,1885.7 1915.3,1887 1912.3,1886C1909.2,1885 1906.4,1874.4 1909,1873.1Z" fill="#d4562b"/>
<path d="M1950.9,1865.1C1951.5,1863.9 1961.1,1859.2 1963.8,1858.6C1966.4,1858.1 1978.1,1857.8 1979.9,1858.6C1981.6,1859.5 1984,1867 1983.1,1868.3C1982.2,1869.6 1972.6,1872.8 1970.2,1873.1C1967.9,1873.4 1959.1,1872.3 1957.3,1871.5C1955.6,1870.8 1950.3,1866.3 1950.9,1865.1Z" fill="#f2cc50"/>
<path d="M1967,1861.9C1967.6,1861 1975.6,1859.8 1976.6,1860.3C1977.7,1860.7 1978.8,1865.8 1978.3,1866.7C1977.7,1867.6 1971.2,1870.3 1970.2,1869.9C1969.2,1869.5 1966.4,1862.7 1967,1861.9Z" fill="#fbfaff"/>
<path d="M1981.5,1879.6C1982.4,1878.5 1991.1,1874.6 1992.7,1874.7C1994.4,1874.9 1999.2,1879.9 1999.2,1881.2C1999.2,1882.5 1994.2,1888.8 1992.7,1889.2C1991.3,1889.7 1984.1,1886.9 1983.1,1886C1982.1,1885.1 1980.6,1880.6 1981.5,1879.6Z" fill="#f2cc50"/>
<path d="M1957.3,1955.2C1957.9,1951.1 1966.6,1940.3 1970.2,1939.1C1973.9,1938 1995.1,1940.9 1997.6,1942.3C2000.1,1943.8 1998.9,1952.6 1997.6,1955.2C1996.3,1957.9 1985.3,1968.1 1983.1,1971.3C1980.9,1974.5 1975.2,1987.7 1973.4,1990.6C1971.7,1993.6 1966.7,2001.3 1963.8,2003.5C1960.8,2005.7 1944.6,2013.5 1941.2,2014.8C1937.9,2016.1 1928.1,2018.7 1926.8,2018C1925.4,2017.3 1924.8,2008.3 1926.8,2006.7C1928.7,2005.1 1944.3,2002.3 1947.7,2000.3C1951,1998.2 1962.9,1988.3 1963.8,1984.2C1964.7,1980.1 1956.7,1959.3 1957.3,1955.2Z" fill="#e8903a"/>
<path d="M1915.5,1961.7C1916.6,1957.4 1920.8,1955.2 1925.1,1955.2C1929.4,1955.2 1937.5,1958.4 1941.2,1961.7C1945,1964.9 1946.1,1969.7 1947.7,1974.5C1949.3,1979.4 1952,1986.3 1950.9,1990.6C1949.8,1994.9 1945,1999.8 1941.2,2000.3C1937.5,2000.8 1932.1,1997.1 1928.4,1993.9C1924.6,1990.6 1920.8,1986.3 1918.7,1981C1916.6,1975.6 1914.4,1966 1915.5,1961.7Z" fill="#c43818"/>
<path d="M2008.8,1952 2034.6,1952 2034.6,1976.1 2008.8,1976.1Z" fill="#e8903a"/>
<path d="M2237.4,1935.9 2475.6,1935.9 2475.6,2067.9 2237.4,2067.9Z" fill="#e8903a"/>
<path d="M2250.3,1981C2252.2,1976.4 2259.4,1977.2 2263.2,1979.4C2266.9,1981.5 2271.8,1989.3 2272.8,1993.9C2273.9,1998.4 2272.3,2003 2269.6,2006.7C2266.9,2010.5 2259.7,2016.4 2256.7,2016.4C2253.8,2016.4 2253,2012.6 2251.9,2006.7C2250.8,2000.8 2248.4,1985.5 2250.3,1981Z" fill="#d4562b"/>
<path d="M2311.5,1964.9C2314.7,1961.1 2320,1956.3 2324.3,1955.2C2328.6,1954.1 2332.9,1956.8 2337.2,1958.4C2341.5,1960.1 2345.3,1961.1 2350.1,1964.9C2354.9,1968.6 2361.9,1975.6 2366.2,1981C2370.5,1986.3 2374.8,1991.7 2375.8,1997.1C2376.9,2002.4 2374.8,2007.8 2372.6,2013.2C2370.5,2018.5 2366.7,2026 2363,2029.3C2359.2,2032.5 2353.8,2034.6 2350.1,2032.5C2346.3,2030.3 2343.1,2021.8 2340.4,2016.4C2337.7,2011 2337.7,2005.1 2334,2000.3C2330.2,1995.5 2322.7,1991.2 2317.9,1987.4C2313.1,1983.7 2306.1,1981.5 2305,1977.8C2303.9,1974 2308.2,1968.6 2311.5,1964.9Z" fill="#f2cc50"/>
<path d="M2279.3,1961.7C2282.5,1957.9 2293.2,1953.1 2298.6,1952C2303.9,1950.9 2310.4,1952 2311.5,1955.2C2312.5,1958.4 2308.2,1967 2305,1971.3C2301.8,1975.6 2296.4,1980.4 2292.1,1981C2287.9,1981.5 2281.4,1977.8 2279.3,1974.5C2277.1,1971.3 2276,1965.4 2279.3,1961.7Z" fill="#f2cc50"/>
<path d="M2332.4,1972.9C2334,1970.8 2339.1,1969.2 2342,1969.7C2345,1970.2 2348.5,1973.5 2350.1,1976.1C2351.7,1978.8 2353.3,1983.9 2351.7,1985.8C2350.1,1987.7 2343.7,1988 2340.4,1987.4C2337.2,1986.9 2333.7,1985 2332.4,1982.6C2331,1980.2 2330.8,1975.1 2332.4,1972.9Z" fill="#fbfaff"/>
<path d="M2351.7,2014.8C2352.1,2013.8 2357.4,2011.1 2358.1,2011.6C2358.9,2012 2360.2,2018.6 2359.7,2019.6C2359.3,2020.6 2354,2023.3 2353.3,2022.8C2352.6,2022.4 2351.3,2015.8 2351.7,2014.8Z" fill="#fbfaff"/>
<path d="M2182.7,1874.7 2369.4,1874.7 2369.4,1932.7 2182.7,1932.7Z" fill="#e8903a"/>
<path d="M1371.6,2163.6C1377.7,2161.7 1430.7,2155 1439.1,2154.4C1447.5,2153.9 1459.7,2156.4 1463.7,2157.5C1467.6,2158.6 1482.1,2164.8 1482.1,2166.7C1482.1,2168.7 1468.7,2177.3 1463.7,2179C1458.6,2180.7 1433,2184.8 1426.8,2185.1C1420.7,2185.4 1401.2,2182.9 1396.1,2182.1C1391.1,2181.2 1373.8,2177.6 1371.6,2175.9C1369.4,2174.2 1365.5,2165.6 1371.6,2163.6Z" fill="#e8903a"/>
<path d="M1518.9,2175.9C1521.7,2174.8 1546.8,2174.8 1549.6,2175.9C1552.4,2177 1552.4,2187.1 1549.6,2188.2C1546.8,2189.3 1521.7,2189.3 1518.9,2188.2C1516.1,2187.1 1516.1,2177 1518.9,2175.9Z" fill="#e8903a"/>
<path d="M1930.1,2157.5C1932.3,2155.6 1958.5,2151.4 1966.9,2151.4C1975.2,2151.4 2014.9,2156.1 2022.1,2157.5C2029.4,2158.9 2046.6,2164.5 2046.6,2166.7C2046.6,2168.9 2028.2,2180.7 2022.1,2182.1C2016,2183.4 1986.4,2182.9 1979.1,2182.1C1971.9,2181.2 1946.8,2175.1 1942.3,2172.8C1937.9,2170.6 1927.8,2159.5 1930.1,2157.5Z" fill="#e8903a"/>
<path d="M1623.2,2169.8C1624.9,2167.5 1648.3,2163.1 1653.9,2163.6C1659.5,2164.2 1678.4,2174.2 1684.6,2175.9C1690.7,2177.6 1710.2,2181.5 1721.4,2182.1C1732.6,2182.6 1796.2,2182.6 1807.3,2182.1C1818.5,2181.5 1839.7,2175.4 1844.1,2175.9C1848.6,2176.5 1862.5,2186.5 1856.4,2188.2C1850.3,2189.9 1792.3,2193.5 1776.6,2194.3C1761,2195.2 1697.4,2198 1684.6,2197.4C1671.7,2196.8 1641.1,2190.7 1635.5,2188.2C1629.9,2185.7 1621.5,2172 1623.2,2169.8Z" fill="#c43818"/>
<path d="M1259.9,2175.9C1269.5,2174.5 1355.9,2174.5 1365.5,2175.9C1375.1,2177.3 1375.1,2189.9 1365.5,2191.3C1355.9,2192.7 1269.5,2192.7 1259.9,2191.3C1250.3,2189.9 1250.3,2177.3 1259.9,2175.9Z" fill="#c43818"/>
<path d="M2310.5,2175.9C2312.2,2173.7 2330.6,2164.5 2335.1,2163.6C2339.5,2162.8 2355.7,2165 2359.6,2166.7C2363.5,2168.4 2379.2,2179.8 2378,2182.1C2376.9,2184.3 2352.9,2190.7 2347.4,2191.3C2341.8,2191.8 2320,2189.6 2316.7,2188.2C2313.3,2186.8 2308.9,2178.1 2310.5,2175.9Z" fill="#c43818"/>
<path d="M2421,2169.8C2426,2168.1 2471.2,2168.1 2476.2,2169.8C2481.2,2171.5 2481.2,2186.5 2476.2,2188.2C2471.2,2189.9 2426,2189.9 2421,2188.2C2416,2186.5 2416,2171.5 2421,2169.8Z" fill="#c43818"/>
<path d="M1598.7,2157.5C1600.9,2154.7 1629.9,2138.3 1635.5,2136C1641.1,2133.8 1657.8,2131 1660,2133C1662.3,2134.9 1661.1,2154.4 1660,2157.5C1658.9,2160.6 1652.2,2165.9 1647.8,2166.7C1643.3,2167.5 1615.4,2167.5 1610.9,2166.7C1606.5,2165.9 1596.4,2160.3 1598.7,2157.5Z" fill="#c43818"/>
</g>
<g clip-path="url(#ff)"><use href="#coast" transform="translate(1259.3,1589.4) scale(0.99992,1.00161)"/></g>
<rect x="1259.3" y="1589.4" width="1208.3" height="621.9" fill="none" stroke="#000" stroke-width="1.5"/>
</g>
<text x="53.7" y="59.5" font-family="Liberation Sans, Arial, Helvetica, sans-serif" font-size="59.5" textLength="75.6" lengthAdjust="spacingAndGlyphs" fill="#000" stroke="#000" stroke-width="3.4" stroke-linejoin="round">(a)</text>
<text x="154" y="69.5" font-family="Liberation Sans, Arial, Helvetica, sans-serif" font-weight="bold" font-size="72.8" textLength="190" lengthAdjust="spacingAndGlyphs" fill="#000" stroke="#000" stroke-width="4" stroke-linejoin="round">CAM4</text>
<text x="2055.2" y="59.5" font-family="Liberation Sans, Arial, Helvetica, sans-serif" font-size="59.5" textLength="78.1" lengthAdjust="spacingAndGlyphs" fill="#000" stroke="#000" stroke-width="3.4" stroke-linejoin="round">(b)</text>
<text x="2178" y="70.5" font-family="Liberation Sans, Arial, Helvetica, sans-serif" font-weight="bold" font-size="74.6" textLength="266.5" lengthAdjust="spacingAndGlyphs" fill="#000" stroke="#000" stroke-width="4" stroke-linejoin="round">CanAM4</text>
<text x="53.7" y="803" font-family="Liberation Sans, Arial, Helvetica, sans-serif" font-size="59.5" textLength="75.6" lengthAdjust="spacingAndGlyphs" fill="#000" stroke="#000" stroke-width="3.4" stroke-linejoin="round">(c)</text>
<text x="155" y="814.5" font-family="Liberation Sans, Arial, Helvetica, sans-serif" font-weight="bold" font-size="71.2" textLength="275.5" lengthAdjust="spacingAndGlyphs" fill="#000" stroke="#000" stroke-width="4" stroke-linejoin="round">ECHAM6</text>
<text x="2055.2" y="803" font-family="Liberation Sans, Arial, Helvetica, sans-serif" font-size="59.5" textLength="78.1" lengthAdjust="spacingAndGlyphs" fill="#000" stroke="#000" stroke-width="3.4" stroke-linejoin="round">(d)</text>
<text x="2194.5" y="814.5" font-family="Liberation Sans, Arial, Helvetica, sans-serif" font-weight="bold" font-size="71.2" textLength="254" lengthAdjust="spacingAndGlyphs" fill="#000" stroke="#000" stroke-width="4" stroke-linejoin="round">MIROC5</text>
<text x="53.7" y="1551.5" font-family="Liberation Sans, Arial, Helvetica, sans-serif" font-size="59.5" textLength="75.6" lengthAdjust="spacingAndGlyphs" fill="#000" stroke="#000" stroke-width="3.4" stroke-linejoin="round">(e)</text>
<text x="155" y="1563.3" font-family="Liberation Sans, Arial, Helvetica, sans-serif" font-weight="bold" font-size="72.5" textLength="279.5" lengthAdjust="spacingAndGlyphs" fill="#000" stroke="#000" stroke-width="4" stroke-linejoin="round">NorESM1</text>
<text x="2055.2" y="1551.5" font-family="Liberation Sans, Arial, Helvetica, sans-serif" font-size="59.5" textLength="60.6" lengthAdjust="spacingAndGlyphs" fill="#000" stroke="#000" stroke-width="3.4" stroke-linejoin="round">(f)</text>
<text x="2158" y="1561" font-family="Liberation Sans, Arial, Helvetica, sans-serif" font-weight="bold" font-size="72" textLength="181" lengthAdjust="spacingAndGlyphs" fill="#000" stroke="#000" stroke-width="4" stroke-linejoin="round">CESM</text>
<rect x="310.4" y="2271.7" width="209.1" height="53.6" fill="#70c5fb" stroke="#111" stroke-width="1.2"/>
<rect x="519.5" y="2271.7" width="209.2" height="53.6" fill="#a0fae8" stroke="#111" stroke-width="1.2"/>
<rect x="728.7" y="2271.7" width="209.1" height="53.6" fill="#aefaec" stroke="#111" stroke-width="1.2"/>
<rect x="937.9" y="2271.7" width="209.1" height="53.6" fill="#defbd6" stroke="#111" stroke-width="1.2"/>
<rect x="1147" y="2271.7" width="209.2" height="53.6" fill="#fbfaff" stroke="#111" stroke-width="1.2"/>
<rect x="1356.2" y="2271.7" width="209.2" height="53.6" fill="#f2cc50" stroke="#111" stroke-width="1.2"/>
<rect x="1565.3" y="2271.7" width="209.1" height="53.6" fill="#e8903a" stroke="#111" stroke-width="1.2"/>
<rect x="1774.4" y="2271.7" width="209.2" height="53.6" fill="#d4562b" stroke="#111" stroke-width="1.2"/>
<rect x="1983.6" y="2271.7" width="209.2" height="53.6" fill="#c43818" stroke="#111" stroke-width="1.2"/>
<path d="M310.4,2271.7L205.5,2298.5L310.4,2325.3Z" fill="#5b86f7" stroke="#111" stroke-width="1.2" stroke-linejoin="miter"/>
<path d="M2192.8,2271.7L2298,2298.5L2192.8,2325.3Z" fill="#ae2910" stroke="#111" stroke-width="1.2" stroke-linejoin="miter"/>
<text x="274.4" y="2265" font-family="Liberation Sans, Arial, Helvetica, sans-serif" font-size="30.6" textLength="73.9" lengthAdjust="spacingAndGlyphs" fill="#000">-0.95</text>
<text x="483.6" y="2265" font-family="Liberation Sans, Arial, Helvetica, sans-serif" font-size="30.6" textLength="73.9" lengthAdjust="spacingAndGlyphs" fill="#000">-0.75</text>
<text x="692.8" y="2265" font-family="Liberation Sans, Arial, Helvetica, sans-serif" font-size="30.6" textLength="73.9" lengthAdjust="spacingAndGlyphs" fill="#000">-0.55</text>
<text x="901.9" y="2265" font-family="Liberation Sans, Arial, Helvetica, sans-serif" font-size="30.6" textLength="73.9" lengthAdjust="spacingAndGlyphs" fill="#000">-0.35</text>
<text x="1111" y="2265" font-family="Liberation Sans, Arial, Helvetica, sans-serif" font-size="30.6" textLength="73.9" lengthAdjust="spacingAndGlyphs" fill="#000">-0.15</text>
<text x="1325.3" y="2265" font-family="Liberation Sans, Arial, Helvetica, sans-serif" font-size="30.6" textLength="63.7" lengthAdjust="spacingAndGlyphs" fill="#000">0.15</text>
<text x="1534.5" y="2265" font-family="Liberation Sans, Arial, Helvetica, sans-serif" font-size="30.6" textLength="63.7" lengthAdjust="spacingAndGlyphs" fill="#000">0.35</text>
<text x="1743.6" y="2265" font-family="Liberation Sans, Arial, Helvetica, sans-serif" font-size="30.6" textLength="63.7" lengthAdjust="spacingAndGlyphs" fill="#000">0.55</text>
<text x="1952.8" y="2265" font-family="Liberation Sans, Arial, Helvetica, sans-serif" font-size="30.6" textLength="63.7" lengthAdjust="spacingAndGlyphs" fill="#000">0.75</text>
<text x="2161.9" y="2265" font-family="Liberation Sans, Arial, Helvetica, sans-serif" font-size="30.6" textLength="63.7" lengthAdjust="spacingAndGlyphs" fill="#000">0.95</text>
</svg>
</body></html>
